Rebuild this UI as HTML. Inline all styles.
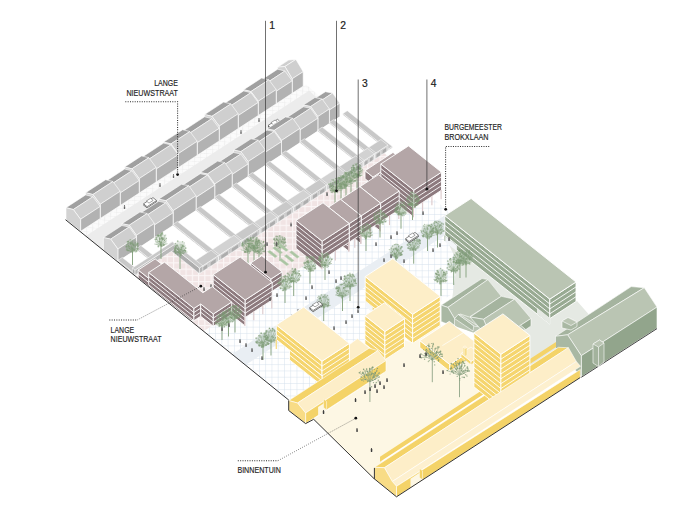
<!DOCTYPE html>
<html lang="nl"><head><meta charset="utf-8"><title>Axonometrie</title>
<style>
html,body{margin:0;padding:0;background:#fff;}
body{width:674px;height:514px;overflow:hidden;}
svg{display:block;}
svg text{font-family:"Liberation Sans",sans-serif;fill:#222;}
</style></head><body>
<svg width="674" height="514" viewBox="0 0 674 514">
<defs>
<pattern id="pink" width="6.26" height="6.26" patternUnits="userSpaceOnUse" patternTransform="translate(160.5 256.1)">
<rect width="6.26" height="6.26" fill="#f1e4e4"/><path d="M0 0H6.26M0 0V6.26" stroke="#fbf6f6" stroke-width="2.2"/></pattern>
<pattern id="blue" width="6.26" height="6.26" patternUnits="userSpaceOnUse" patternTransform="translate(252.7 351.7)">
<rect width="6.26" height="6.26" fill="#fff"/><path d="M0 0H6.26M0 0V6.26" stroke="#d4dfec" stroke-width="0.9"/></pattern>
<pattern id="hatch" width="6" height="6" patternUnits="userSpaceOnUse" patternTransform="matrix(1 -0.652 1 0.795 80.6 231.4)">
<rect width="6" height="6" fill="#fbfbfb"/><path d="M0 0L6 6M6 0L0 6" stroke="#efefef" stroke-width="0.7"/></pattern>
</defs>
<polygon points="80.6,231.4 306.1,84.4 327.9,103.5 103.4,249.9" fill="url(#hatch)"/>
<polygon points="85.8,236.1 309.3,90.4 323.9,105.1 102.4,249.5" fill="#ececec"/>
<polygon points="203.5,331.2 421.2,189.3 507.5,257.9 289,400.3" fill="url(#blue)"/>
<polygon points="117.9,262 177.9,222.4 379.9,148.6 421.2,189.3 203.5,331.2" fill="url(#pink)"/>
<polygon points="232,354.2 449.9,212.1 463.6,223 245.5,365.1" fill="#e9eef3"/>
<polygon points="277.6,67.2 288.6,60.1 295.9,59.4 284.9,66.5" fill="#cfcfcf" stroke="#fff" stroke-width="0.6" stroke-linejoin="round"/>
<polygon points="284.9,66.5 295.9,59.4 303.2,71.7 292.2,78.8" fill="#cfcfcf" stroke="#fff" stroke-width="0.6" stroke-linejoin="round"/>
<polygon points="292.2,78.8 303.2,71.7 303.2,86.2 292.2,93.3" fill="#b2b2b2" stroke="#fff" stroke-width="0.6" stroke-linejoin="round"/>
<polygon points="277.6,81.7 277.6,67.2 284.9,66.5 292.2,78.8 292.2,93.3" fill="#d2d2d2" stroke="#fff" stroke-width="0.6" stroke-linejoin="round"/>
<polygon points="261.6,79.7 277.6,69.2 284.9,71 268.9,81.5" fill="#a0a0a0" stroke="#fff" stroke-width="0.6" stroke-linejoin="round"/>
<polygon points="268.9,81.5 284.9,71 292.2,80.8 276.2,91.3" fill="#cfcfcf" stroke="#fff" stroke-width="0.6" stroke-linejoin="round"/>
<polygon points="276.2,91.3 292.2,80.8 292.2,93.3 276.2,103.8" fill="#b2b2b2" stroke="#fff" stroke-width="0.6" stroke-linejoin="round"/>
<polygon points="261.6,92.2 261.6,79.7 268.9,81.5 276.2,91.3 276.2,103.8" fill="#d2d2d2" stroke="#fff" stroke-width="0.6" stroke-linejoin="round"/>
<polygon points="243.6,89.7 261.6,78 268.9,79.8 250.9,91.5" fill="#a0a0a0" stroke="#fff" stroke-width="0.6" stroke-linejoin="round"/>
<polygon points="250.9,91.5 268.9,79.8 276.2,89.6 258.2,101.3" fill="#cfcfcf" stroke="#fff" stroke-width="0.6" stroke-linejoin="round"/>
<polygon points="258.2,101.3 276.2,89.6 276.2,103.8 258.2,115.5" fill="#b2b2b2" stroke="#fff" stroke-width="0.6" stroke-linejoin="round"/>
<polygon points="243.6,103.9 243.6,89.7 250.9,91.5 258.2,101.3 258.2,115.5" fill="#d2d2d2" stroke="#fff" stroke-width="0.6" stroke-linejoin="round"/>
<polygon points="223.6,103.9 243.6,90.9 250.9,92.7 230.9,105.7" fill="#a0a0a0" stroke="#fff" stroke-width="0.6" stroke-linejoin="round"/>
<polygon points="230.9,105.7 250.9,92.7 258.2,102.5 238.2,115.6" fill="#cfcfcf" stroke="#fff" stroke-width="0.6" stroke-linejoin="round"/>
<polygon points="238.2,115.6 258.2,102.5 258.2,115.5 238.2,128.6" fill="#b2b2b2" stroke="#fff" stroke-width="0.6" stroke-linejoin="round"/>
<polygon points="223.6,116.9 223.6,103.9 230.9,105.7 238.2,115.6 238.2,128.6" fill="#d2d2d2" stroke="#fff" stroke-width="0.6" stroke-linejoin="round"/>
<polygon points="204.6,114.5 223.6,102.1 230.9,103.9 211.9,116.3" fill="#a0a0a0" stroke="#fff" stroke-width="0.6" stroke-linejoin="round"/>
<polygon points="211.9,116.3 230.9,103.9 238.2,113.8 219.2,126.1" fill="#cfcfcf" stroke="#fff" stroke-width="0.6" stroke-linejoin="round"/>
<polygon points="219.2,126.1 238.2,113.8 238.2,128.6 219.2,140.9" fill="#b2b2b2" stroke="#fff" stroke-width="0.6" stroke-linejoin="round"/>
<polygon points="204.6,129.3 204.6,114.5 211.9,116.3 219.2,126.1 219.2,140.9" fill="#d2d2d2" stroke="#fff" stroke-width="0.6" stroke-linejoin="round"/>
<polygon points="182.6,131.2 204.6,116.8 211.9,118.6 189.9,133" fill="#a0a0a0" stroke="#fff" stroke-width="0.6" stroke-linejoin="round"/>
<polygon points="189.9,133 211.9,118.6 219.2,128.4 197.2,142.8" fill="#cfcfcf" stroke="#fff" stroke-width="0.6" stroke-linejoin="round"/>
<polygon points="197.2,142.8 219.2,128.4 219.2,140.9 197.2,155.3" fill="#b2b2b2" stroke="#fff" stroke-width="0.6" stroke-linejoin="round"/>
<polygon points="182.6,143.7 182.6,131.2 189.9,133 197.2,142.8 197.2,155.3" fill="#d2d2d2" stroke="#fff" stroke-width="0.6" stroke-linejoin="round"/>
<polygon points="163.6,142.1 182.6,129.7 189.9,131.5 170.9,143.9" fill="#a0a0a0" stroke="#fff" stroke-width="0.6" stroke-linejoin="round"/>
<polygon points="170.9,143.9 189.9,131.5 197.2,141.3 178.2,153.7" fill="#cfcfcf" stroke="#fff" stroke-width="0.6" stroke-linejoin="round"/>
<polygon points="178.2,153.7 197.2,141.3 197.2,155.3 178.2,167.7" fill="#b2b2b2" stroke="#fff" stroke-width="0.6" stroke-linejoin="round"/>
<polygon points="163.6,156.1 163.6,142.1 170.9,143.9 178.2,153.7 178.2,167.7" fill="#d2d2d2" stroke="#fff" stroke-width="0.6" stroke-linejoin="round"/>
<polygon points="141.6,157.4 163.6,143.1 170.9,144.9 148.9,159.2" fill="#a0a0a0" stroke="#fff" stroke-width="0.6" stroke-linejoin="round"/>
<polygon points="148.9,159.2 170.9,144.9 178.2,154.7 156.2,169" fill="#cfcfcf" stroke="#fff" stroke-width="0.6" stroke-linejoin="round"/>
<polygon points="156.2,169 178.2,154.7 178.2,167.7 156.2,182" fill="#b2b2b2" stroke="#fff" stroke-width="0.6" stroke-linejoin="round"/>
<polygon points="141.6,170.4 141.6,157.4 148.9,159.2 156.2,169 156.2,182" fill="#d2d2d2" stroke="#fff" stroke-width="0.6" stroke-linejoin="round"/>
<polygon points="124.6,167 141.6,155.9 148.9,157.7 131.9,168.8" fill="#a0a0a0" stroke="#fff" stroke-width="0.6" stroke-linejoin="round"/>
<polygon points="131.9,168.8 148.9,157.7 156.2,167.5 139.2,178.6" fill="#cfcfcf" stroke="#fff" stroke-width="0.6" stroke-linejoin="round"/>
<polygon points="139.2,178.6 156.2,167.5 156.2,182 139.2,193.1" fill="#b2b2b2" stroke="#fff" stroke-width="0.6" stroke-linejoin="round"/>
<polygon points="124.6,181.5 124.6,167 131.9,168.8 139.2,178.6 139.2,193.1" fill="#d2d2d2" stroke="#fff" stroke-width="0.6" stroke-linejoin="round"/>
<polygon points="105.6,181.4 124.6,169 131.9,170.8 112.9,183.2" fill="#a0a0a0" stroke="#fff" stroke-width="0.6" stroke-linejoin="round"/>
<polygon points="112.9,183.2 131.9,170.8 139.2,180.6 120.2,193" fill="#cfcfcf" stroke="#fff" stroke-width="0.6" stroke-linejoin="round"/>
<polygon points="120.2,193 139.2,180.6 139.2,193.1 120.2,205.5" fill="#b2b2b2" stroke="#fff" stroke-width="0.6" stroke-linejoin="round"/>
<polygon points="105.6,193.9 105.6,181.4 112.9,183.2 120.2,193 120.2,205.5" fill="#d2d2d2" stroke="#fff" stroke-width="0.6" stroke-linejoin="round"/>
<polygon points="85.6,192.7 105.6,179.7 112.9,181.5 92.9,194.5" fill="#a0a0a0" stroke="#fff" stroke-width="0.6" stroke-linejoin="round"/>
<polygon points="92.9,194.5 112.9,181.5 120.2,191.3 100.2,204.3" fill="#cfcfcf" stroke="#fff" stroke-width="0.6" stroke-linejoin="round"/>
<polygon points="100.2,204.3 120.2,191.3 120.2,205.5 100.2,218.5" fill="#b2b2b2" stroke="#fff" stroke-width="0.6" stroke-linejoin="round"/>
<polygon points="85.6,206.9 85.6,192.7 92.9,194.5 100.2,204.3 100.2,218.5" fill="#d2d2d2" stroke="#fff" stroke-width="0.6" stroke-linejoin="round"/>
<polygon points="66,207.7 85.6,194.9 92.9,196.7 73.3,209.5" fill="#a0a0a0" stroke="#fff" stroke-width="0.6" stroke-linejoin="round"/>
<polygon points="73.3,209.5 92.9,196.7 100.2,206.5 80.6,219.3" fill="#cfcfcf" stroke="#fff" stroke-width="0.6" stroke-linejoin="round"/>
<polygon points="80.6,219.3 100.2,206.5 100.2,218.5 80.6,231.3" fill="#b2b2b2" stroke="#fff" stroke-width="0.6" stroke-linejoin="round"/>
<polygon points="66,219.7 66,207.7 73.3,209.5 80.6,219.3 80.6,231.3" fill="#d2d2d2" stroke="#fff" stroke-width="0.6" stroke-linejoin="round"/>
<polygon points="143.5,205 153,198.8 156.6,201.7 147.1,207.9" fill="#fff" stroke="#3a3a3a" stroke-width="0.7" stroke-linejoin="round"/>
<polygon points="143.5,203.8 153,197.6 156.6,200.5 147.1,206.7" fill="#fff" stroke="#3a3a3a" stroke-width="0.6" stroke-linejoin="round"/>
<polygon points="146.4,201 150.6,198.3 153.2,200.4 149,203.1" fill="#fff" stroke="#3a3a3a" stroke-width="0.45" stroke-linejoin="round"/>
<polygon points="268,126.7 277.5,120.5 281.1,123.4 271.6,129.6" fill="#fff" stroke="#3a3a3a" stroke-width="0.7" stroke-linejoin="round"/>
<polygon points="268,125.5 277.5,119.3 281.1,122.2 271.6,128.4" fill="#fff" stroke="#3a3a3a" stroke-width="0.6" stroke-linejoin="round"/>
<polygon points="270.9,122.7 275.1,120 277.7,122.1 273.5,124.8" fill="#fff" stroke="#3a3a3a" stroke-width="0.45" stroke-linejoin="round"/>
<g fill="#666"><circle cx="124.5" cy="205.7" r="0.6"/><rect x="123.8" y="206.2" width="1.4" height="2.8" rx="0.4"/></g>
<g fill="#666"><circle cx="160" cy="183.7" r="0.6"/><rect x="159.3" y="184.2" width="1.4" height="2.8" rx="0.4"/></g>
<g fill="#666"><circle cx="173.5" cy="174.7" r="0.6"/><rect x="172.8" y="175.2" width="1.4" height="2.8" rx="0.4"/></g>
<g fill="#666"><circle cx="241" cy="130.7" r="0.6"/><rect x="240.3" y="131.2" width="1.4" height="2.8" rx="0.4"/></g>
<g fill="#666"><circle cx="259" cy="118.7" r="0.6"/><rect x="258.3" y="119.2" width="1.4" height="2.8" rx="0.4"/></g>
<polygon points="314.9,98.5 325.4,91.7 332.6,93.1 322.1,100" fill="#a0a0a0" stroke="#fff" stroke-width="0.6" stroke-linejoin="round"/>
<polygon points="322.1,100 332.6,93.1 339.9,103.2 329.4,110" fill="#cfcfcf" stroke="#fff" stroke-width="0.6" stroke-linejoin="round"/>
<polygon points="329.4,110 339.9,103.2 339.9,116.7 329.4,123.5" fill="#b2b2b2" stroke="#fff" stroke-width="0.6" stroke-linejoin="round"/>
<polygon points="314.9,112 314.9,98.5 322.1,100 329.4,110 329.4,123.5" fill="#d2d2d2" stroke="#fff" stroke-width="0.6" stroke-linejoin="round"/>
<polygon points="303.3,105.1 314.9,97.5 322.2,99 310.6,106.5" fill="#a0a0a0" stroke="#fff" stroke-width="0.6" stroke-linejoin="round"/>
<polygon points="310.6,106.5 322.2,99 329.4,109 317.8,116.6" fill="#cfcfcf" stroke="#fff" stroke-width="0.6" stroke-linejoin="round"/>
<polygon points="317.8,116.6 329.4,109 329.4,123.5 317.8,131.1" fill="#b2b2b2" stroke="#fff" stroke-width="0.6" stroke-linejoin="round"/>
<polygon points="303.3,119.6 303.3,105.1 310.6,106.5 317.8,116.6 317.8,131.1" fill="#d2d2d2" stroke="#fff" stroke-width="0.6" stroke-linejoin="round"/>
<polygon points="285.5,118.4 303.3,106.8 310.6,108.2 292.8,119.8" fill="#a0a0a0" stroke="#fff" stroke-width="0.6" stroke-linejoin="round"/>
<polygon points="292.8,119.8 310.6,108.2 317.8,118.3 300,129.9" fill="#cfcfcf" stroke="#fff" stroke-width="0.6" stroke-linejoin="round"/>
<polygon points="300,129.9 317.8,118.3 317.8,131.1 300,142.7" fill="#b2b2b2" stroke="#fff" stroke-width="0.6" stroke-linejoin="round"/>
<polygon points="285.5,131.2 285.5,118.4 292.8,119.8 300,129.9 300,142.7" fill="#d2d2d2" stroke="#fff" stroke-width="0.6" stroke-linejoin="round"/>
<polygon points="267,128.9 285.5,116.9 292.8,118.3 274.2,130.4" fill="#a0a0a0" stroke="#fff" stroke-width="0.6" stroke-linejoin="round"/>
<polygon points="274.2,130.4 292.8,118.3 300,128.4 281.5,140.5" fill="#cfcfcf" stroke="#fff" stroke-width="0.6" stroke-linejoin="round"/>
<polygon points="281.5,140.5 300,128.4 300,142.7 281.5,154.8" fill="#b2b2b2" stroke="#fff" stroke-width="0.6" stroke-linejoin="round"/>
<polygon points="267,143.2 267,128.9 274.2,130.4 281.5,140.5 281.5,154.8" fill="#d2d2d2" stroke="#fff" stroke-width="0.6" stroke-linejoin="round"/>
<polygon points="251,140.6 267,130.1 274.2,131.6 258.2,142" fill="#a0a0a0" stroke="#fff" stroke-width="0.6" stroke-linejoin="round"/>
<polygon points="258.2,142 274.2,131.6 281.5,141.7 265.5,152.1" fill="#cfcfcf" stroke="#fff" stroke-width="0.6" stroke-linejoin="round"/>
<polygon points="265.5,152.1 281.5,141.7 281.5,154.8 265.5,165.2" fill="#b2b2b2" stroke="#fff" stroke-width="0.6" stroke-linejoin="round"/>
<polygon points="251,153.7 251,140.6 258.2,142 265.5,152.1 265.5,165.2" fill="#d2d2d2" stroke="#fff" stroke-width="0.6" stroke-linejoin="round"/>
<polygon points="233.6,150.1 251,138.8 258.2,140.2 240.8,151.6" fill="#a0a0a0" stroke="#fff" stroke-width="0.6" stroke-linejoin="round"/>
<polygon points="240.8,151.6 258.2,140.2 265.5,150.3 248.1,161.6" fill="#cfcfcf" stroke="#fff" stroke-width="0.6" stroke-linejoin="round"/>
<polygon points="248.1,161.6 265.5,150.3 265.5,165.2 248.1,176.5" fill="#b2b2b2" stroke="#fff" stroke-width="0.6" stroke-linejoin="round"/>
<polygon points="233.6,165 233.6,150.1 240.8,151.6 248.1,161.6 248.1,176.5" fill="#d2d2d2" stroke="#fff" stroke-width="0.6" stroke-linejoin="round"/>
<polygon points="217.6,162.9 233.6,152.5 240.8,154 224.8,164.4" fill="#a0a0a0" stroke="#fff" stroke-width="0.6" stroke-linejoin="round"/>
<polygon points="224.8,164.4 240.8,154 248.1,164 232.1,174.5" fill="#cfcfcf" stroke="#fff" stroke-width="0.6" stroke-linejoin="round"/>
<polygon points="232.1,174.5 248.1,164 248.1,176.5 232.1,187" fill="#b2b2b2" stroke="#fff" stroke-width="0.6" stroke-linejoin="round"/>
<polygon points="217.6,175.4 217.6,162.9 224.8,164.4 232.1,174.5 232.1,187" fill="#d2d2d2" stroke="#fff" stroke-width="0.6" stroke-linejoin="round"/>
<polygon points="200.2,172.5 217.6,161.1 224.8,162.6 207.4,174" fill="#a0a0a0" stroke="#fff" stroke-width="0.6" stroke-linejoin="round"/>
<polygon points="207.4,174 224.8,162.6 232.1,172.7 214.7,184" fill="#cfcfcf" stroke="#fff" stroke-width="0.6" stroke-linejoin="round"/>
<polygon points="214.7,184 232.1,172.7 232.1,187 214.7,198.3" fill="#b2b2b2" stroke="#fff" stroke-width="0.6" stroke-linejoin="round"/>
<polygon points="200.2,186.8 200.2,172.5 207.4,174 214.7,184 214.7,198.3" fill="#d2d2d2" stroke="#fff" stroke-width="0.6" stroke-linejoin="round"/>
<polygon points="181.5,185.9 200.2,173.7 207.4,175.2 188.8,187.3" fill="#a0a0a0" stroke="#fff" stroke-width="0.6" stroke-linejoin="round"/>
<polygon points="188.8,187.3 207.4,175.2 214.7,185.2 196,197.4" fill="#cfcfcf" stroke="#fff" stroke-width="0.6" stroke-linejoin="round"/>
<polygon points="196,197.4 214.7,185.2 214.7,198.3 196,210.5" fill="#b2b2b2" stroke="#fff" stroke-width="0.6" stroke-linejoin="round"/>
<polygon points="181.5,199 181.5,185.9 188.8,187.3 196,197.4 196,210.5" fill="#d2d2d2" stroke="#fff" stroke-width="0.6" stroke-linejoin="round"/>
<polygon points="158.6,199.2 181.5,184.3 188.8,185.7 165.9,200.7" fill="#a0a0a0" stroke="#fff" stroke-width="0.6" stroke-linejoin="round"/>
<polygon points="165.9,200.7 188.8,185.7 196,195.8 173.1,210.7" fill="#cfcfcf" stroke="#fff" stroke-width="0.6" stroke-linejoin="round"/>
<polygon points="173.1,210.7 196,195.8 196,210.5 173.1,225.4" fill="#b2b2b2" stroke="#fff" stroke-width="0.6" stroke-linejoin="round"/>
<polygon points="158.6,213.9 158.6,199.2 165.9,200.7 173.1,210.7 173.1,225.4" fill="#d2d2d2" stroke="#fff" stroke-width="0.6" stroke-linejoin="round"/>
<polygon points="139.9,213.5 158.6,201.3 165.8,202.8 147.2,215" fill="#a0a0a0" stroke="#fff" stroke-width="0.6" stroke-linejoin="round"/>
<polygon points="147.2,215 165.8,202.8 173.1,212.8 154.4,225" fill="#cfcfcf" stroke="#fff" stroke-width="0.6" stroke-linejoin="round"/>
<polygon points="154.4,225 173.1,212.8 173.1,225.4 154.4,237.6" fill="#b2b2b2" stroke="#fff" stroke-width="0.6" stroke-linejoin="round"/>
<polygon points="139.9,226.1 139.9,213.5 147.2,215 154.4,225 154.4,237.6" fill="#d2d2d2" stroke="#fff" stroke-width="0.6" stroke-linejoin="round"/>
<polygon points="121.9,223.7 139.9,212 147.2,213.5 129.2,225.2" fill="#a0a0a0" stroke="#fff" stroke-width="0.6" stroke-linejoin="round"/>
<polygon points="129.2,225.2 147.2,213.5 154.4,223.5 136.4,235.3" fill="#cfcfcf" stroke="#fff" stroke-width="0.6" stroke-linejoin="round"/>
<polygon points="136.4,235.3 154.4,223.5 154.4,237.6 136.4,249.4" fill="#b2b2b2" stroke="#fff" stroke-width="0.6" stroke-linejoin="round"/>
<polygon points="121.9,237.8 121.9,223.7 129.2,225.2 136.4,235.3 136.4,249.4" fill="#d2d2d2" stroke="#fff" stroke-width="0.6" stroke-linejoin="round"/>
<polygon points="103.4,237.6 121.9,225.5 129.2,227 110.7,239.1" fill="#a0a0a0" stroke="#fff" stroke-width="0.6" stroke-linejoin="round"/>
<polygon points="110.7,239.1 129.2,227 136.4,237.1 117.9,249.1" fill="#cfcfcf" stroke="#fff" stroke-width="0.6" stroke-linejoin="round"/>
<polygon points="117.9,249.1 136.4,237.1 136.4,249.4 117.9,261.4" fill="#b2b2b2" stroke="#fff" stroke-width="0.6" stroke-linejoin="round"/>
<polygon points="103.4,249.9 103.4,237.6 110.7,239.1 117.9,249.1 117.9,261.4" fill="#d2d2d2" stroke="#fff" stroke-width="0.6" stroke-linejoin="round"/>
<polygon points="117.9,261.5 346.3,112.6 391.3,148.4 199.4,273.5 168.9,249.2 132.4,273" fill="#fff"/>
<polygon points="342.9,113.6 387.9,149.4 387.9,150.6 342.9,114.8" fill="#adadad" stroke="#fff" stroke-width="0.5" stroke-linejoin="round"/>
<polygon points="387.9,149.4 392.3,146.5 392.3,147.7 387.9,150.6" fill="#b9b9b9" stroke="#fff" stroke-width="0.5" stroke-linejoin="round"/>
<polygon points="342.9,113.6 347.3,110.7 392.3,146.5 387.9,149.4" fill="#c8c8c8" stroke="#fff" stroke-width="0.5" stroke-linejoin="round"/>
<polygon points="367.4,148.3 374.4,153.9 374.4,159.4 367.4,153.8" fill="#b0b0b0" stroke="#fff" stroke-width="0.5" stroke-linejoin="round"/>
<polygon points="374.4,153.9 387.9,145.1 387.9,150.6 374.4,159.4" fill="#c6c6c6" stroke="#fff" stroke-width="0.5" stroke-linejoin="round"/>
<polygon points="367.4,148.3 380.9,139.5 387.9,145.1 374.4,153.9" fill="#c9c9c9" stroke="#fff" stroke-width="0.5" stroke-linejoin="round"/>
<polygon points="376,154 380.5,151.1 380.5,155.4 376,158.3" fill="#adadad" stroke="#fff" stroke-width="0.4" stroke-linejoin="round"/>
<polygon points="382.1,150.1 386.6,147.2 386.6,151.5 382.1,154.4" fill="#adadad" stroke="#fff" stroke-width="0.4" stroke-linejoin="round"/>
<polygon points="371.4,152.5 374.4,154.9 374.4,159.4 371.4,157" fill="#adadad" stroke="#fff" stroke-width="0.5" stroke-linejoin="round"/>
<polygon points="374.4,154.9 374.9,154.6 374.9,159.1 374.4,159.4" fill="#b9b9b9" stroke="#fff" stroke-width="0.5" stroke-linejoin="round"/>
<polygon points="371.4,152.5 371.9,152.2 374.9,154.6 374.4,154.9" fill="#c8c8c8" stroke="#fff" stroke-width="0.5" stroke-linejoin="round"/>
<polygon points="329.4,122.4 371.4,155.8 371.4,157 329.4,123.6" fill="#adadad" stroke="#fff" stroke-width="0.5" stroke-linejoin="round"/>
<polygon points="371.4,155.8 375.8,152.9 375.8,154.1 371.4,157" fill="#b9b9b9" stroke="#fff" stroke-width="0.5" stroke-linejoin="round"/>
<polygon points="329.4,122.4 333.8,119.5 375.8,152.9 371.4,155.8" fill="#c8c8c8" stroke="#fff" stroke-width="0.5" stroke-linejoin="round"/>
<polygon points="355.8,155.9 362.8,161.4 362.8,166.9 355.8,161.4" fill="#b0b0b0" stroke="#fff" stroke-width="0.5" stroke-linejoin="round"/>
<polygon points="362.8,161.4 374.4,153.9 374.4,159.4 362.8,166.9" fill="#c6c6c6" stroke="#fff" stroke-width="0.5" stroke-linejoin="round"/>
<polygon points="355.8,155.9 367.4,148.3 374.4,153.9 362.8,161.4" fill="#d2d2d2" stroke="#fff" stroke-width="0.5" stroke-linejoin="round"/>
<polygon points="364.2,161.7 368,159.2 368,163.5 364.2,166" fill="#adadad" stroke="#fff" stroke-width="0.4" stroke-linejoin="round"/>
<polygon points="369.4,158.3 373.2,155.8 373.2,160.1 369.4,162.6" fill="#adadad" stroke="#fff" stroke-width="0.4" stroke-linejoin="round"/>
<polygon points="359.8,160.1 362.8,162.4 362.8,166.9 359.8,164.6" fill="#adadad" stroke="#fff" stroke-width="0.5" stroke-linejoin="round"/>
<polygon points="362.8,162.4 363.3,162.1 363.3,166.6 362.8,166.9" fill="#b9b9b9" stroke="#fff" stroke-width="0.5" stroke-linejoin="round"/>
<polygon points="359.8,160.1 360.3,159.7 363.3,162.1 362.8,162.4" fill="#c8c8c8" stroke="#fff" stroke-width="0.5" stroke-linejoin="round"/>
<polygon points="317.8,130 359.8,163.4 359.8,164.6 317.8,131.2" fill="#adadad" stroke="#fff" stroke-width="0.5" stroke-linejoin="round"/>
<polygon points="359.8,163.4 364.2,160.5 364.2,161.7 359.8,164.6" fill="#b9b9b9" stroke="#fff" stroke-width="0.5" stroke-linejoin="round"/>
<polygon points="317.8,130 322.2,127.1 364.2,160.5 359.8,163.4" fill="#c8c8c8" stroke="#fff" stroke-width="0.5" stroke-linejoin="round"/>
<polygon points="338,167.5 345,173 345,178.5 338,173" fill="#b0b0b0" stroke="#fff" stroke-width="0.5" stroke-linejoin="round"/>
<polygon points="345,173 362.8,161.4 362.8,166.9 345,178.5" fill="#c6c6c6" stroke="#fff" stroke-width="0.5" stroke-linejoin="round"/>
<polygon points="338,167.5 355.8,155.9 362.8,161.4 345,173" fill="#c9c9c9" stroke="#fff" stroke-width="0.5" stroke-linejoin="round"/>
<polygon points="347.1,172.9 353,169 353,173.3 347.1,177.2" fill="#adadad" stroke="#fff" stroke-width="0.4" stroke-linejoin="round"/>
<polygon points="355.1,167.6 361,163.8 361,168.1 355.1,171.9" fill="#adadad" stroke="#fff" stroke-width="0.4" stroke-linejoin="round"/>
<polygon points="342,171.7 345,174 345,178.5 342,176.2" fill="#adadad" stroke="#fff" stroke-width="0.5" stroke-linejoin="round"/>
<polygon points="345,174 345.5,173.7 345.5,178.2 345,178.5" fill="#b9b9b9" stroke="#fff" stroke-width="0.5" stroke-linejoin="round"/>
<polygon points="342,171.7 342.5,171.3 345.5,173.7 345,174" fill="#c8c8c8" stroke="#fff" stroke-width="0.5" stroke-linejoin="round"/>
<polygon points="300,141.6 342,175 342,176.2 300,142.8" fill="#adadad" stroke="#fff" stroke-width="0.5" stroke-linejoin="round"/>
<polygon points="342,175 346.4,172.1 346.4,173.3 342,176.2" fill="#b9b9b9" stroke="#fff" stroke-width="0.5" stroke-linejoin="round"/>
<polygon points="300,141.6 304.4,138.7 346.4,172.1 342,175" fill="#c8c8c8" stroke="#fff" stroke-width="0.5" stroke-linejoin="round"/>
<polygon points="319.5,179.5 326.5,185.1 326.5,190.6 319.5,185" fill="#b0b0b0" stroke="#fff" stroke-width="0.5" stroke-linejoin="round"/>
<polygon points="326.5,185.1 345,173 345,178.5 326.5,190.6" fill="#c6c6c6" stroke="#fff" stroke-width="0.5" stroke-linejoin="round"/>
<polygon points="319.5,179.5 338,167.5 345,173 326.5,185.1" fill="#d2d2d2" stroke="#fff" stroke-width="0.5" stroke-linejoin="round"/>
<polygon points="328.7,184.9 334.8,180.9 334.8,185.2 328.7,189.2" fill="#adadad" stroke="#fff" stroke-width="0.4" stroke-linejoin="round"/>
<polygon points="337,179.4 343.1,175.5 343.1,179.8 337,183.7" fill="#adadad" stroke="#fff" stroke-width="0.4" stroke-linejoin="round"/>
<polygon points="323.5,183.7 326.5,186.1 326.5,190.6 323.5,188.2" fill="#adadad" stroke="#fff" stroke-width="0.5" stroke-linejoin="round"/>
<polygon points="326.5,186.1 327,185.8 327,190.3 326.5,190.6" fill="#b9b9b9" stroke="#fff" stroke-width="0.5" stroke-linejoin="round"/>
<polygon points="323.5,183.7 324,183.4 327,185.8 326.5,186.1" fill="#c8c8c8" stroke="#fff" stroke-width="0.5" stroke-linejoin="round"/>
<polygon points="281.5,153.6 323.5,187 323.5,188.2 281.5,154.8" fill="#adadad" stroke="#fff" stroke-width="0.5" stroke-linejoin="round"/>
<polygon points="323.5,187 327.9,184.2 327.9,185.4 323.5,188.2" fill="#b9b9b9" stroke="#fff" stroke-width="0.5" stroke-linejoin="round"/>
<polygon points="281.5,153.6 285.9,150.8 327.9,184.2 323.5,187" fill="#c8c8c8" stroke="#fff" stroke-width="0.5" stroke-linejoin="round"/>
<polygon points="303.5,190 310.5,195.5 310.5,201 303.5,195.5" fill="#b0b0b0" stroke="#fff" stroke-width="0.5" stroke-linejoin="round"/>
<polygon points="310.5,195.5 326.5,185.1 326.5,190.6 310.5,201" fill="#c6c6c6" stroke="#fff" stroke-width="0.5" stroke-linejoin="round"/>
<polygon points="303.5,190 319.5,179.5 326.5,185.1 310.5,195.5" fill="#c9c9c9" stroke="#fff" stroke-width="0.5" stroke-linejoin="round"/>
<polygon points="312.4,195.5 317.7,192 317.7,196.3 312.4,199.8" fill="#adadad" stroke="#fff" stroke-width="0.4" stroke-linejoin="round"/>
<polygon points="319.6,190.8 324.9,187.4 324.9,191.7 319.6,195.1" fill="#adadad" stroke="#fff" stroke-width="0.4" stroke-linejoin="round"/>
<polygon points="307.5,194.2 310.5,196.5 310.5,201 307.5,198.7" fill="#adadad" stroke="#fff" stroke-width="0.5" stroke-linejoin="round"/>
<polygon points="310.5,196.5 311,196.2 311,200.7 310.5,201" fill="#b9b9b9" stroke="#fff" stroke-width="0.5" stroke-linejoin="round"/>
<polygon points="307.5,194.2 308,193.8 311,196.2 310.5,196.5" fill="#c8c8c8" stroke="#fff" stroke-width="0.5" stroke-linejoin="round"/>
<polygon points="265.5,164.1 307.5,197.5 307.5,198.7 265.5,165.3" fill="#adadad" stroke="#fff" stroke-width="0.5" stroke-linejoin="round"/>
<polygon points="307.5,197.5 311.9,194.6 311.9,195.8 307.5,198.7" fill="#b9b9b9" stroke="#fff" stroke-width="0.5" stroke-linejoin="round"/>
<polygon points="265.5,164.1 269.9,161.2 311.9,194.6 307.5,197.5" fill="#c8c8c8" stroke="#fff" stroke-width="0.5" stroke-linejoin="round"/>
<polygon points="286.1,201.3 293.1,206.9 293.1,212.4 286.1,206.8" fill="#b0b0b0" stroke="#fff" stroke-width="0.5" stroke-linejoin="round"/>
<polygon points="293.1,206.9 310.5,195.5 310.5,201 293.1,212.4" fill="#c6c6c6" stroke="#fff" stroke-width="0.5" stroke-linejoin="round"/>
<polygon points="286.1,201.3 303.5,190 310.5,195.5 293.1,206.9" fill="#d2d2d2" stroke="#fff" stroke-width="0.5" stroke-linejoin="round"/>
<polygon points="295.2,206.7 300.9,203 300.9,207.3 295.2,211" fill="#adadad" stroke="#fff" stroke-width="0.4" stroke-linejoin="round"/>
<polygon points="303,201.6 308.8,197.9 308.8,202.2 303,205.9" fill="#adadad" stroke="#fff" stroke-width="0.4" stroke-linejoin="round"/>
<polygon points="290.1,205.5 293.1,207.9 293.1,212.4 290.1,210" fill="#adadad" stroke="#fff" stroke-width="0.5" stroke-linejoin="round"/>
<polygon points="293.1,207.9 293.6,207.6 293.6,212.1 293.1,212.4" fill="#b9b9b9" stroke="#fff" stroke-width="0.5" stroke-linejoin="round"/>
<polygon points="290.1,205.5 290.6,205.2 293.6,207.6 293.1,207.9" fill="#c8c8c8" stroke="#fff" stroke-width="0.5" stroke-linejoin="round"/>
<polygon points="248.1,175.4 290.1,208.8 290.1,210 248.1,176.6" fill="#adadad" stroke="#fff" stroke-width="0.5" stroke-linejoin="round"/>
<polygon points="290.1,208.8 294.5,205.9 294.5,207.1 290.1,210" fill="#b9b9b9" stroke="#fff" stroke-width="0.5" stroke-linejoin="round"/>
<polygon points="248.1,175.4 252.5,172.5 294.5,205.9 290.1,208.8" fill="#c8c8c8" stroke="#fff" stroke-width="0.5" stroke-linejoin="round"/>
<polygon points="270.1,211.8 277.1,217.3 277.1,222.8 270.1,217.3" fill="#b0b0b0" stroke="#fff" stroke-width="0.5" stroke-linejoin="round"/>
<polygon points="277.1,217.3 293.1,206.9 293.1,212.4 277.1,222.8" fill="#c6c6c6" stroke="#fff" stroke-width="0.5" stroke-linejoin="round"/>
<polygon points="270.1,211.8 286.1,201.3 293.1,206.9 277.1,217.3" fill="#c9c9c9" stroke="#fff" stroke-width="0.5" stroke-linejoin="round"/>
<polygon points="279,217.3 284.3,213.8 284.3,218.1 279,221.6" fill="#adadad" stroke="#fff" stroke-width="0.4" stroke-linejoin="round"/>
<polygon points="286.2,212.6 291.5,209.1 291.5,213.4 286.2,216.9" fill="#adadad" stroke="#fff" stroke-width="0.4" stroke-linejoin="round"/>
<polygon points="274.1,215.9 277.1,218.3 277.1,222.8 274.1,220.4" fill="#adadad" stroke="#fff" stroke-width="0.5" stroke-linejoin="round"/>
<polygon points="277.1,218.3 277.6,218 277.6,222.5 277.1,222.8" fill="#b9b9b9" stroke="#fff" stroke-width="0.5" stroke-linejoin="round"/>
<polygon points="274.1,215.9 274.6,215.6 277.6,218 277.1,218.3" fill="#c8c8c8" stroke="#fff" stroke-width="0.5" stroke-linejoin="round"/>
<polygon points="232.1,185.8 274.1,219.2 274.1,220.4 232.1,187" fill="#adadad" stroke="#fff" stroke-width="0.5" stroke-linejoin="round"/>
<polygon points="274.1,219.2 278.5,216.4 278.5,217.6 274.1,220.4" fill="#b9b9b9" stroke="#fff" stroke-width="0.5" stroke-linejoin="round"/>
<polygon points="232.1,185.8 236.5,183 278.5,216.4 274.1,219.2" fill="#c8c8c8" stroke="#fff" stroke-width="0.5" stroke-linejoin="round"/>
<polygon points="252.7,223.1 259.7,228.7 259.7,234.2 252.7,228.6" fill="#b0b0b0" stroke="#fff" stroke-width="0.5" stroke-linejoin="round"/>
<polygon points="259.7,228.7 277.1,217.3 277.1,222.8 259.7,234.2" fill="#c6c6c6" stroke="#fff" stroke-width="0.5" stroke-linejoin="round"/>
<polygon points="252.7,223.1 270.1,211.8 277.1,217.3 259.7,228.7" fill="#d2d2d2" stroke="#fff" stroke-width="0.5" stroke-linejoin="round"/>
<polygon points="261.8,228.5 267.5,224.8 267.5,229.1 261.8,232.8" fill="#adadad" stroke="#fff" stroke-width="0.4" stroke-linejoin="round"/>
<polygon points="269.6,223.4 275.4,219.7 275.4,224 269.6,227.7" fill="#adadad" stroke="#fff" stroke-width="0.4" stroke-linejoin="round"/>
<polygon points="256.7,227.3 259.7,229.7 259.7,234.2 256.7,231.8" fill="#adadad" stroke="#fff" stroke-width="0.5" stroke-linejoin="round"/>
<polygon points="259.7,229.7 260.2,229.3 260.2,233.8 259.7,234.2" fill="#b9b9b9" stroke="#fff" stroke-width="0.5" stroke-linejoin="round"/>
<polygon points="256.7,227.3 257.2,227 260.2,229.3 259.7,229.7" fill="#c8c8c8" stroke="#fff" stroke-width="0.5" stroke-linejoin="round"/>
<polygon points="214.7,197.2 256.7,230.6 256.7,231.8 214.7,198.4" fill="#adadad" stroke="#fff" stroke-width="0.5" stroke-linejoin="round"/>
<polygon points="256.7,230.6 261.1,227.7 261.1,228.9 256.7,231.8" fill="#b9b9b9" stroke="#fff" stroke-width="0.5" stroke-linejoin="round"/>
<polygon points="214.7,197.2 219.1,194.3 261.1,227.7 256.7,230.6" fill="#c8c8c8" stroke="#fff" stroke-width="0.5" stroke-linejoin="round"/>
<polygon points="234,235.3 241,240.9 241,246.4 234,240.8" fill="#b0b0b0" stroke="#fff" stroke-width="0.5" stroke-linejoin="round"/>
<polygon points="241,240.9 259.7,228.7 259.7,234.2 241,246.4" fill="#c6c6c6" stroke="#fff" stroke-width="0.5" stroke-linejoin="round"/>
<polygon points="234,235.3 252.7,223.1 259.7,228.7 241,240.9" fill="#c9c9c9" stroke="#fff" stroke-width="0.5" stroke-linejoin="round"/>
<polygon points="243.2,240.6 249.4,236.6 249.4,240.9 243.2,244.9" fill="#adadad" stroke="#fff" stroke-width="0.4" stroke-linejoin="round"/>
<polygon points="251.7,235.1 257.8,231.1 257.8,235.4 251.7,239.4" fill="#adadad" stroke="#fff" stroke-width="0.4" stroke-linejoin="round"/>
<polygon points="238,239.5 241,241.9 241,246.4 238,244" fill="#adadad" stroke="#fff" stroke-width="0.5" stroke-linejoin="round"/>
<polygon points="241,241.9 241.5,241.5 241.5,246 241,246.4" fill="#b9b9b9" stroke="#fff" stroke-width="0.5" stroke-linejoin="round"/>
<polygon points="238,239.5 238.5,239.1 241.5,241.5 241,241.9" fill="#c8c8c8" stroke="#fff" stroke-width="0.5" stroke-linejoin="round"/>
<polygon points="196,209.4 238,242.8 238,244 196,210.6" fill="#adadad" stroke="#fff" stroke-width="0.5" stroke-linejoin="round"/>
<polygon points="238,242.8 242.4,239.9 242.4,241.1 238,244" fill="#b9b9b9" stroke="#fff" stroke-width="0.5" stroke-linejoin="round"/>
<polygon points="196,209.4 200.4,206.5 242.4,239.9 238,242.8" fill="#c8c8c8" stroke="#fff" stroke-width="0.5" stroke-linejoin="round"/>
<polygon points="211.1,250.2 218.1,255.8 218.1,261.3 211.1,255.7" fill="#b0b0b0" stroke="#fff" stroke-width="0.5" stroke-linejoin="round"/>
<polygon points="218.1,255.8 241,240.9 241,246.4 218.1,261.3" fill="#c6c6c6" stroke="#fff" stroke-width="0.5" stroke-linejoin="round"/>
<polygon points="211.1,250.2 234,235.3 241,240.9 218.1,255.8" fill="#d2d2d2" stroke="#fff" stroke-width="0.5" stroke-linejoin="round"/>
<polygon points="220.8,255.2 228.4,250.3 228.4,254.6 220.8,259.5" fill="#adadad" stroke="#fff" stroke-width="0.4" stroke-linejoin="round"/>
<polygon points="231.2,248.5 238.7,243.5 238.7,247.8 231.2,252.8" fill="#adadad" stroke="#fff" stroke-width="0.4" stroke-linejoin="round"/>
<polygon points="215.1,254.4 218.1,256.8 218.1,261.3 215.1,258.9" fill="#adadad" stroke="#fff" stroke-width="0.5" stroke-linejoin="round"/>
<polygon points="218.1,256.8 218.6,256.5 218.6,261 218.1,261.3" fill="#b9b9b9" stroke="#fff" stroke-width="0.5" stroke-linejoin="round"/>
<polygon points="215.1,254.4 215.6,254.1 218.6,256.5 218.1,256.8" fill="#c8c8c8" stroke="#fff" stroke-width="0.5" stroke-linejoin="round"/>
<polygon points="173.1,224.3 215.1,257.7 215.1,258.9 173.1,225.5" fill="#adadad" stroke="#fff" stroke-width="0.5" stroke-linejoin="round"/>
<polygon points="215.1,257.7 219.5,254.8 219.5,256 215.1,258.9" fill="#b9b9b9" stroke="#fff" stroke-width="0.5" stroke-linejoin="round"/>
<polygon points="173.1,224.3 177.5,221.4 219.5,254.8 215.1,257.7" fill="#c8c8c8" stroke="#fff" stroke-width="0.5" stroke-linejoin="round"/>
<polygon points="192.4,262.4 199.4,268 199.4,273.5 192.4,267.9" fill="#b0b0b0" stroke="#fff" stroke-width="0.5" stroke-linejoin="round"/>
<polygon points="199.4,268 218.1,255.8 218.1,261.3 199.4,273.5" fill="#c6c6c6" stroke="#fff" stroke-width="0.5" stroke-linejoin="round"/>
<polygon points="192.4,262.4 211.1,250.2 218.1,255.8 199.4,268" fill="#c9c9c9" stroke="#fff" stroke-width="0.5" stroke-linejoin="round"/>
<polygon points="201.6,267.7 207.8,263.7 207.8,268 201.6,272" fill="#adadad" stroke="#fff" stroke-width="0.4" stroke-linejoin="round"/>
<polygon points="210.1,262.2 216.2,258.2 216.2,262.5 210.1,266.5" fill="#adadad" stroke="#fff" stroke-width="0.4" stroke-linejoin="round"/>
<polygon points="196.4,266.6 199.4,269 199.4,273.5 196.4,271.1" fill="#adadad" stroke="#fff" stroke-width="0.5" stroke-linejoin="round"/>
<polygon points="199.4,269 199.9,268.7 199.9,273.2 199.4,273.5" fill="#b9b9b9" stroke="#fff" stroke-width="0.5" stroke-linejoin="round"/>
<polygon points="196.4,266.6 196.9,266.3 199.9,268.7 199.4,269" fill="#c8c8c8" stroke="#fff" stroke-width="0.5" stroke-linejoin="round"/>
<polygon points="168.9,243.7 199.4,268 199.4,273.5 168.9,249.2" fill="#adadad" stroke="#fff" stroke-width="0.5" stroke-linejoin="round"/>
<polygon points="199.4,268 202.8,265.8 202.8,271.3 199.4,273.5" fill="#b9b9b9" stroke="#fff" stroke-width="0.5" stroke-linejoin="round"/>
<polygon points="168.9,243.7 172.3,241.5 202.8,265.8 199.4,268" fill="#c8c8c8" stroke="#fff" stroke-width="0.5" stroke-linejoin="round"/>
<polygon points="117.9,260.3 135.4,274.2 135.4,275.4 117.9,261.5" fill="#adadad" stroke="#fff" stroke-width="0.5" stroke-linejoin="round"/>
<polygon points="135.4,274.2 139.8,271.3 139.8,272.5 135.4,275.4" fill="#b9b9b9" stroke="#fff" stroke-width="0.5" stroke-linejoin="round"/>
<polygon points="117.9,260.3 122.3,257.4 139.8,271.3 135.4,274.2" fill="#c8c8c8" stroke="#fff" stroke-width="0.5" stroke-linejoin="round"/>
<polygon points="136.4,248.2 150.9,259.8 150.9,261 136.4,249.4" fill="#adadad" stroke="#fff" stroke-width="0.5" stroke-linejoin="round"/>
<polygon points="150.9,259.8 155.3,256.9 155.3,258.1 150.9,261" fill="#b9b9b9" stroke="#fff" stroke-width="0.5" stroke-linejoin="round"/>
<polygon points="136.4,248.2 140.8,245.4 155.3,256.9 150.9,259.8" fill="#c8c8c8" stroke="#fff" stroke-width="0.5" stroke-linejoin="round"/>
<polygon points="132.4,268 135,270.1 135,275.1 132.4,273" fill="#adadad" stroke="#fff" stroke-width="0.5" stroke-linejoin="round"/>
<polygon points="135,270.1 174.9,244.1 174.9,249.1 135,275.1" fill="#b9b9b9" stroke="#fff" stroke-width="0.5" stroke-linejoin="round"/>
<polygon points="132.4,268 172.3,242 174.9,244.1 135,270.1" fill="#c8c8c8" stroke="#fff" stroke-width="0.5" stroke-linejoin="round"/>
<g stroke="#8ca785" stroke-width="1" fill="none">
<path d="M132.5 265V249.7"/>
</g><g stroke="#8aa582" stroke-width="0.55" fill="none" opacity="0.9">
<path d="M132.5 251.5L125.9 250"/>
<path d="M132.5 251.5L127.3 246.9"/>
<path d="M132.5 251.5L127.9 244.4"/>
<path d="M132.5 251.5L130.6 243.1"/>
<path d="M132.5 251.5L131.9 241.5"/>
<path d="M132.5 251.5L135 242.8"/>
<path d="M132.5 251.5L136.9 244.2"/>
<path d="M132.5 251.5L138.2 247.2"/>
<path d="M132.5 251.5L138.7 249.8"/>
</g>
<g fill="#7d9b75">
<ellipse cx="132.5" cy="246" rx="6.1" ry="6.8" opacity="0.22"/>
<circle cx="126.1" cy="246.9" r="0.8" opacity="0.6"/>
<circle cx="130.8" cy="243.4" r="0.9" opacity="0.6"/>
<circle cx="138" cy="246.1" r="0.9" opacity="0.6"/>
<circle cx="131.1" cy="249.3" r="0.6" opacity="0.6"/>
<circle cx="126.9" cy="249.5" r="0.9" opacity="0.6"/>
<circle cx="137.5" cy="249.1" r="1" opacity="0.6"/>
<circle cx="134.7" cy="249.6" r="0.7" opacity="0.6"/>
<circle cx="128.3" cy="241" r="0.6" opacity="0.6"/>
<circle cx="127.3" cy="241.6" r="0.7" opacity="0.6"/>
<circle cx="137.7" cy="244.8" r="0.6" opacity="0.6"/>
<circle cx="127.9" cy="242.1" r="0.8" opacity="0.6"/>
<circle cx="137.8" cy="243.5" r="1" opacity="0.6"/>
<circle cx="135.2" cy="242.5" r="0.6" opacity="0.6"/>
<circle cx="126.7" cy="246.3" r="1" opacity="0.6"/>
<circle cx="129.4" cy="248.5" r="0.7" opacity="0.6"/>
<circle cx="132.3" cy="241.1" r="0.6" opacity="0.6"/>
<circle cx="132.3" cy="248.2" r="1" opacity="0.6"/>
<circle cx="126.9" cy="248.1" r="0.6" opacity="0.6"/>
<circle cx="138" cy="248.7" r="0.6" opacity="0.6"/>
<circle cx="128.6" cy="245.7" r="0.7" opacity="0.6"/>
<circle cx="134.6" cy="250.5" r="0.7" opacity="0.6"/>
<circle cx="132" cy="248.3" r="0.7" opacity="0.6"/>
<circle cx="127" cy="244.2" r="0.7" opacity="0.6"/>
<circle cx="133" cy="244.4" r="0.6" opacity="0.6"/>
<circle cx="130.9" cy="251.8" r="0.8" opacity="0.6"/>
<circle cx="136.6" cy="251.2" r="0.9" opacity="0.6"/>
<circle cx="127.9" cy="250.4" r="0.9" opacity="0.6"/>
<circle cx="133.5" cy="245.3" r="0.7" opacity="0.6"/>
<circle cx="133.9" cy="245.7" r="0.7" opacity="0.6"/>
<circle cx="128.2" cy="243.5" r="0.7" opacity="0.6"/>
<circle cx="135.7" cy="244.1" r="0.7" opacity="0.6"/>
<circle cx="128.9" cy="250.5" r="0.6" opacity="0.6"/>
<circle cx="128.9" cy="246.7" r="0.9" opacity="0.6"/>
<circle cx="132.3" cy="243.3" r="1" opacity="0.6"/>
<circle cx="130.2" cy="239.8" r="0.8" opacity="0.6"/>
<circle cx="137.1" cy="244" r="0.9" opacity="0.6"/>
<circle cx="133.1" cy="249.6" r="0.8" opacity="0.6"/>
<circle cx="132.3" cy="252.5" r="0.7" opacity="0.6"/>
<circle cx="130.5" cy="242.7" r="0.9" opacity="0.6"/>
<circle cx="130.4" cy="244.2" r="0.6" opacity="0.6"/>
<circle cx="135.1" cy="246.1" r="0.6" opacity="0.6"/>
<circle cx="131" cy="247.1" r="0.8" opacity="0.6"/>
<circle cx="128.5" cy="241.7" r="0.9" opacity="0.6"/>
<circle cx="133.2" cy="244.4" r="0.9" opacity="0.6"/>
<circle cx="135.8" cy="251.9" r="0.7" opacity="0.6"/>
<circle cx="136.1" cy="245.3" r="0.8" opacity="0.6"/>
</g>
<g stroke="#8ca785" stroke-width="1" fill="none">
<path d="M161 259V243.7"/>
</g><g stroke="#8aa582" stroke-width="0.55" fill="none" opacity="0.9">
<path d="M161 245.5L154.3 244"/>
<path d="M161 245.5L155.4 241.2"/>
<path d="M161 245.5L155.6 237.3"/>
<path d="M161 245.5L159.1 237.1"/>
<path d="M161 245.5L161.7 234.7"/>
<path d="M161 245.5L163 237.4"/>
<path d="M161 245.5L165.9 238.5"/>
<path d="M161 245.5L166.1 241.3"/>
<path d="M161 245.5L167.5 243.6"/>
</g>
<g fill="#7d9b75">
<ellipse cx="161" cy="240" rx="6.1" ry="6.8" opacity="0.22"/>
<circle cx="162.9" cy="239.8" r="0.8" opacity="0.6"/>
<circle cx="158.5" cy="245.9" r="0.7" opacity="0.6"/>
<circle cx="158.8" cy="235.1" r="0.9" opacity="0.6"/>
<circle cx="159.8" cy="238.5" r="0.8" opacity="0.6"/>
<circle cx="156.6" cy="237.6" r="0.9" opacity="0.6"/>
<circle cx="158" cy="235.5" r="0.8" opacity="0.6"/>
<circle cx="162.1" cy="234.5" r="0.8" opacity="0.6"/>
<circle cx="157.9" cy="241.6" r="0.6" opacity="0.6"/>
<circle cx="160.2" cy="236.1" r="0.9" opacity="0.6"/>
<circle cx="161.9" cy="237.8" r="0.9" opacity="0.6"/>
<circle cx="162.4" cy="239.6" r="0.6" opacity="0.6"/>
<circle cx="166.4" cy="238.3" r="0.6" opacity="0.6"/>
<circle cx="157.2" cy="236" r="0.6" opacity="0.6"/>
<circle cx="161.4" cy="242.4" r="0.9" opacity="0.6"/>
<circle cx="163" cy="238.3" r="0.8" opacity="0.6"/>
<circle cx="162.3" cy="233" r="1" opacity="0.6"/>
<circle cx="160.4" cy="235.3" r="1" opacity="0.6"/>
<circle cx="165.7" cy="235.1" r="0.6" opacity="0.6"/>
<circle cx="164.2" cy="238" r="0.7" opacity="0.6"/>
<circle cx="162.1" cy="246" r="0.8" opacity="0.6"/>
<circle cx="159.5" cy="241.1" r="0.6" opacity="0.6"/>
<circle cx="161" cy="234.9" r="0.7" opacity="0.6"/>
<circle cx="160.5" cy="244.2" r="0.8" opacity="0.6"/>
<circle cx="159.5" cy="241.5" r="0.7" opacity="0.6"/>
<circle cx="160.7" cy="244.1" r="0.7" opacity="0.6"/>
<circle cx="161.2" cy="238.5" r="0.7" opacity="0.6"/>
<circle cx="160.5" cy="242.6" r="1" opacity="0.6"/>
<circle cx="158.3" cy="246.6" r="0.9" opacity="0.6"/>
<circle cx="164.5" cy="240.5" r="0.7" opacity="0.6"/>
<circle cx="158.5" cy="236.3" r="0.6" opacity="0.6"/>
<circle cx="161" cy="233.9" r="0.9" opacity="0.6"/>
<circle cx="158.5" cy="235.7" r="0.7" opacity="0.6"/>
<circle cx="155.3" cy="239.3" r="0.9" opacity="0.6"/>
<circle cx="161.5" cy="233.3" r="0.8" opacity="0.6"/>
<circle cx="163.8" cy="239.3" r="0.8" opacity="0.6"/>
<circle cx="161.4" cy="246.1" r="0.9" opacity="0.6"/>
<circle cx="163.7" cy="245.4" r="0.7" opacity="0.6"/>
<circle cx="163.8" cy="244.8" r="1" opacity="0.6"/>
<circle cx="159.9" cy="239.4" r="0.9" opacity="0.6"/>
<circle cx="162.3" cy="238.5" r="0.9" opacity="0.6"/>
<circle cx="160.1" cy="237.6" r="0.6" opacity="0.6"/>
<circle cx="162.3" cy="233" r="0.6" opacity="0.6"/>
<circle cx="164.5" cy="235.9" r="0.6" opacity="0.6"/>
<circle cx="156.5" cy="239.4" r="0.7" opacity="0.6"/>
<circle cx="157.8" cy="235.7" r="0.9" opacity="0.6"/>
<circle cx="159.4" cy="241.5" r="0.7" opacity="0.6"/>
</g>
<g stroke="#8ca785" stroke-width="1" fill="none">
<path d="M180 269V251.7"/>
</g><g stroke="#8aa582" stroke-width="0.55" fill="none" opacity="0.9">
<path d="M180 253.5L174.5 251.4"/>
<path d="M180 253.5L173.9 249.3"/>
<path d="M180 253.5L174.7 244.6"/>
<path d="M180 253.5L177.8 244.6"/>
<path d="M180 253.5L180.2 243.9"/>
<path d="M180 253.5L183 244.2"/>
<path d="M180 253.5L184.9 245.7"/>
<path d="M180 253.5L185.1 250"/>
<path d="M180 253.5L187.5 252"/>
</g>
<g fill="#7d9b75">
<ellipse cx="180" cy="248" rx="6.1" ry="6.8" opacity="0.22"/>
<circle cx="177.5" cy="254.7" r="0.7" opacity="0.6"/>
<circle cx="175.6" cy="248.2" r="0.6" opacity="0.6"/>
<circle cx="181.3" cy="247.2" r="0.7" opacity="0.6"/>
<circle cx="175.6" cy="247" r="0.7" opacity="0.6"/>
<circle cx="180.4" cy="253.1" r="0.7" opacity="0.6"/>
<circle cx="182.2" cy="246.9" r="0.9" opacity="0.6"/>
<circle cx="185.3" cy="250.9" r="1" opacity="0.6"/>
<circle cx="184.3" cy="250.1" r="0.8" opacity="0.6"/>
<circle cx="177" cy="245.2" r="0.6" opacity="0.6"/>
<circle cx="174.3" cy="247.8" r="0.6" opacity="0.6"/>
<circle cx="181.9" cy="248.5" r="0.7" opacity="0.6"/>
<circle cx="182.6" cy="241.7" r="0.8" opacity="0.6"/>
<circle cx="185.7" cy="248.1" r="0.9" opacity="0.6"/>
<circle cx="178.5" cy="249.5" r="0.9" opacity="0.6"/>
<circle cx="184.1" cy="249.1" r="0.7" opacity="0.6"/>
<circle cx="183.8" cy="250.6" r="0.9" opacity="0.6"/>
<circle cx="182" cy="253.1" r="0.8" opacity="0.6"/>
<circle cx="183.4" cy="246.3" r="0.8" opacity="0.6"/>
<circle cx="175.1" cy="249.9" r="1" opacity="0.6"/>
<circle cx="182.7" cy="245.5" r="0.8" opacity="0.6"/>
<circle cx="183.6" cy="253.5" r="0.8" opacity="0.6"/>
<circle cx="185.5" cy="250.9" r="0.8" opacity="0.6"/>
<circle cx="180.4" cy="249.6" r="0.6" opacity="0.6"/>
<circle cx="184.2" cy="242.8" r="0.6" opacity="0.6"/>
<circle cx="175.4" cy="243.4" r="0.7" opacity="0.6"/>
<circle cx="175.9" cy="251.8" r="0.6" opacity="0.6"/>
<circle cx="175" cy="248.9" r="0.8" opacity="0.6"/>
<circle cx="175.3" cy="246.9" r="0.7" opacity="0.6"/>
<circle cx="181" cy="255.1" r="1" opacity="0.6"/>
<circle cx="175.3" cy="252.5" r="0.7" opacity="0.6"/>
<circle cx="178.3" cy="251.8" r="0.9" opacity="0.6"/>
<circle cx="177" cy="245.5" r="1" opacity="0.6"/>
<circle cx="175.5" cy="248.4" r="0.9" opacity="0.6"/>
<circle cx="181.3" cy="247.7" r="0.6" opacity="0.6"/>
<circle cx="181.5" cy="245" r="0.7" opacity="0.6"/>
<circle cx="177.7" cy="241.2" r="0.9" opacity="0.6"/>
<circle cx="175.8" cy="253.2" r="1" opacity="0.6"/>
<circle cx="182.5" cy="250.9" r="0.7" opacity="0.6"/>
<circle cx="178.3" cy="252.3" r="0.7" opacity="0.6"/>
<circle cx="179.8" cy="251.4" r="0.8" opacity="0.6"/>
<circle cx="181.3" cy="249.5" r="0.8" opacity="0.6"/>
<circle cx="174.3" cy="251.4" r="0.6" opacity="0.6"/>
<circle cx="177.4" cy="249" r="1" opacity="0.6"/>
<circle cx="183.2" cy="246.3" r="0.7" opacity="0.6"/>
<circle cx="178.9" cy="250.7" r="0.7" opacity="0.6"/>
<circle cx="174.7" cy="251.3" r="0.6" opacity="0.6"/>
</g>
<g stroke="#8ca785" stroke-width="1" fill="none">
<path d="M248 264V249.7"/>
</g><g stroke="#8aa582" stroke-width="0.55" fill="none" opacity="0.9">
<path d="M248 251.5L240.8 249.8"/>
<path d="M248 251.5L242.8 247.4"/>
<path d="M248 251.5L243.6 244"/>
<path d="M248 251.5L246.1 243.5"/>
<path d="M248 251.5L248.4 242.7"/>
<path d="M248 251.5L250.6 242.3"/>
<path d="M248 251.5L252.4 245.2"/>
<path d="M248 251.5L252.8 247.7"/>
<path d="M248 251.5L253.6 250.2"/>
</g>
<g fill="#7d9b75">
<ellipse cx="248" cy="246" rx="6.1" ry="6.8" opacity="0.22"/>
<circle cx="248.4" cy="239.7" r="0.6" opacity="0.6"/>
<circle cx="244.7" cy="252.1" r="0.9" opacity="0.6"/>
<circle cx="246.2" cy="249.3" r="0.7" opacity="0.6"/>
<circle cx="242.2" cy="243.4" r="0.7" opacity="0.6"/>
<circle cx="242.2" cy="243.3" r="0.7" opacity="0.6"/>
<circle cx="245.4" cy="241" r="0.6" opacity="0.6"/>
<circle cx="247.9" cy="249.3" r="0.9" opacity="0.6"/>
<circle cx="249.1" cy="243.9" r="0.8" opacity="0.6"/>
<circle cx="246.5" cy="248.6" r="0.8" opacity="0.6"/>
<circle cx="251.4" cy="245.5" r="0.6" opacity="0.6"/>
<circle cx="249.7" cy="240.2" r="0.9" opacity="0.6"/>
<circle cx="253.2" cy="247.8" r="0.8" opacity="0.6"/>
<circle cx="246.6" cy="248" r="0.6" opacity="0.6"/>
<circle cx="243.3" cy="245.9" r="0.9" opacity="0.6"/>
<circle cx="250.5" cy="247.6" r="0.7" opacity="0.6"/>
<circle cx="250.2" cy="251" r="0.8" opacity="0.6"/>
<circle cx="244.4" cy="251.6" r="0.6" opacity="0.6"/>
<circle cx="242.4" cy="244.8" r="1" opacity="0.6"/>
<circle cx="248.8" cy="243.7" r="0.9" opacity="0.6"/>
<circle cx="250.2" cy="248.7" r="0.6" opacity="0.6"/>
<circle cx="249.2" cy="253.2" r="0.7" opacity="0.6"/>
<circle cx="242.1" cy="245.1" r="0.9" opacity="0.6"/>
<circle cx="248.1" cy="241.5" r="0.8" opacity="0.6"/>
<circle cx="242" cy="246" r="0.7" opacity="0.6"/>
<circle cx="246.3" cy="249.6" r="0.9" opacity="0.6"/>
<circle cx="246.1" cy="242.2" r="0.6" opacity="0.6"/>
<circle cx="248.7" cy="247.5" r="1" opacity="0.6"/>
<circle cx="250.9" cy="239.4" r="0.6" opacity="0.6"/>
<circle cx="246.5" cy="247.8" r="0.8" opacity="0.6"/>
<circle cx="247.2" cy="252.4" r="0.8" opacity="0.6"/>
<circle cx="247" cy="243.7" r="0.6" opacity="0.6"/>
<circle cx="242.7" cy="243.9" r="0.6" opacity="0.6"/>
<circle cx="248.1" cy="240.3" r="0.6" opacity="0.6"/>
<circle cx="242.8" cy="242.5" r="0.8" opacity="0.6"/>
<circle cx="245.3" cy="251.9" r="0.9" opacity="0.6"/>
<circle cx="254.2" cy="247.9" r="0.6" opacity="0.6"/>
<circle cx="243.5" cy="244.1" r="0.7" opacity="0.6"/>
<circle cx="249.6" cy="251.9" r="0.8" opacity="0.6"/>
<circle cx="245.4" cy="241.2" r="0.6" opacity="0.6"/>
<circle cx="247.1" cy="239" r="0.9" opacity="0.6"/>
<circle cx="245.7" cy="251.9" r="0.9" opacity="0.6"/>
<circle cx="252.9" cy="245.8" r="0.8" opacity="0.6"/>
<circle cx="249.9" cy="240.9" r="0.8" opacity="0.6"/>
<circle cx="245.4" cy="243.8" r="1" opacity="0.6"/>
<circle cx="247.4" cy="239.9" r="0.9" opacity="0.6"/>
<circle cx="249.4" cy="244.2" r="0.9" opacity="0.6"/>
</g>
<g stroke="#8ca785" stroke-width="1" fill="none">
<path d="M254 263V246.7"/>
</g><g stroke="#8aa582" stroke-width="0.55" fill="none" opacity="0.9">
<path d="M254 248.5L248.5 246.6"/>
<path d="M254 248.5L249.2 244.9"/>
<path d="M254 248.5L247.9 240.2"/>
<path d="M254 248.5L251.1 240.4"/>
<path d="M254 248.5L254.1 239.1"/>
<path d="M254 248.5L257.4 238.4"/>
<path d="M254 248.5L259 242.1"/>
<path d="M254 248.5L260.3 244.4"/>
<path d="M254 248.5L259.9 247.2"/>
</g>
<g fill="#7d9b75">
<ellipse cx="254" cy="243" rx="6.1" ry="6.8" opacity="0.22"/>
<circle cx="250.9" cy="244.1" r="0.8" opacity="0.6"/>
<circle cx="257.4" cy="243.4" r="0.7" opacity="0.6"/>
<circle cx="250.7" cy="247.5" r="0.8" opacity="0.6"/>
<circle cx="258.4" cy="240.9" r="0.7" opacity="0.6"/>
<circle cx="247.7" cy="243.4" r="0.7" opacity="0.6"/>
<circle cx="253.9" cy="246.7" r="1" opacity="0.6"/>
<circle cx="250.1" cy="240.6" r="0.9" opacity="0.6"/>
<circle cx="255.5" cy="242.1" r="0.9" opacity="0.6"/>
<circle cx="256.9" cy="241.8" r="0.9" opacity="0.6"/>
<circle cx="248.5" cy="245.9" r="0.9" opacity="0.6"/>
<circle cx="251.3" cy="239.5" r="0.7" opacity="0.6"/>
<circle cx="250.1" cy="246.3" r="0.7" opacity="0.6"/>
<circle cx="253.6" cy="240.8" r="0.7" opacity="0.6"/>
<circle cx="250.8" cy="238.1" r="1" opacity="0.6"/>
<circle cx="252" cy="240.6" r="0.9" opacity="0.6"/>
<circle cx="249" cy="246.2" r="0.9" opacity="0.6"/>
<circle cx="252.9" cy="241.2" r="0.9" opacity="0.6"/>
<circle cx="259.3" cy="240.3" r="0.8" opacity="0.6"/>
<circle cx="257.9" cy="242.4" r="0.8" opacity="0.6"/>
<circle cx="251.8" cy="248.5" r="0.9" opacity="0.6"/>
<circle cx="257.7" cy="243.1" r="0.9" opacity="0.6"/>
<circle cx="253.9" cy="248.9" r="0.7" opacity="0.6"/>
<circle cx="253.4" cy="237.8" r="0.9" opacity="0.6"/>
<circle cx="260.5" cy="243.1" r="0.7" opacity="0.6"/>
<circle cx="251.4" cy="243.7" r="0.7" opacity="0.6"/>
<circle cx="252.1" cy="245.7" r="0.7" opacity="0.6"/>
<circle cx="255.7" cy="243.3" r="0.7" opacity="0.6"/>
<circle cx="256" cy="240.3" r="1" opacity="0.6"/>
<circle cx="257.1" cy="237.3" r="0.6" opacity="0.6"/>
<circle cx="256.3" cy="248.8" r="0.8" opacity="0.6"/>
<circle cx="257.4" cy="248.3" r="0.8" opacity="0.6"/>
<circle cx="248.3" cy="246.8" r="0.8" opacity="0.6"/>
<circle cx="250.2" cy="238.1" r="0.7" opacity="0.6"/>
<circle cx="252.3" cy="243.8" r="0.7" opacity="0.6"/>
<circle cx="248.1" cy="245.8" r="0.6" opacity="0.6"/>
<circle cx="255.4" cy="247.8" r="0.7" opacity="0.6"/>
<circle cx="247.9" cy="243.4" r="0.9" opacity="0.6"/>
<circle cx="256.6" cy="239.2" r="0.8" opacity="0.6"/>
<circle cx="260.2" cy="243.2" r="0.6" opacity="0.6"/>
<circle cx="258.4" cy="240.3" r="0.6" opacity="0.6"/>
<circle cx="255.9" cy="245" r="0.7" opacity="0.6"/>
<circle cx="256.6" cy="237.9" r="0.7" opacity="0.6"/>
<circle cx="256" cy="238.4" r="0.6" opacity="0.6"/>
<circle cx="252.4" cy="249.3" r="0.9" opacity="0.6"/>
<circle cx="255.9" cy="239.6" r="0.6" opacity="0.6"/>
<circle cx="257.8" cy="247.8" r="0.8" opacity="0.6"/>
</g>
<g stroke="#8ca785" stroke-width="1" fill="none">
<path d="M259 265V250.7"/>
</g><g stroke="#8aa582" stroke-width="0.55" fill="none" opacity="0.9">
<path d="M259 252.5L252.9 250.3"/>
<path d="M259 252.5L253.4 249"/>
<path d="M259 252.5L253.8 244.7"/>
<path d="M259 252.5L257 244.1"/>
<path d="M259 252.5L259.7 241.7"/>
<path d="M259 252.5L261.7 243"/>
<path d="M259 252.5L264.5 245.1"/>
<path d="M259 252.5L263.8 248.8"/>
<path d="M259 252.5L266 250.7"/>
</g>
<g fill="#7d9b75">
<ellipse cx="259" cy="247" rx="6.1" ry="6.8" opacity="0.22"/>
<circle cx="255.2" cy="251.9" r="0.9" opacity="0.6"/>
<circle cx="256.6" cy="251.7" r="0.7" opacity="0.6"/>
<circle cx="261.6" cy="253.4" r="0.9" opacity="0.6"/>
<circle cx="256" cy="250.7" r="0.6" opacity="0.6"/>
<circle cx="255.6" cy="250.3" r="0.8" opacity="0.6"/>
<circle cx="262.6" cy="247.9" r="0.6" opacity="0.6"/>
<circle cx="262.4" cy="249.1" r="1" opacity="0.6"/>
<circle cx="257.9" cy="250.6" r="0.9" opacity="0.6"/>
<circle cx="264.9" cy="244.5" r="0.7" opacity="0.6"/>
<circle cx="254.4" cy="246.1" r="0.8" opacity="0.6"/>
<circle cx="255.7" cy="241.9" r="0.6" opacity="0.6"/>
<circle cx="253.9" cy="247.5" r="0.8" opacity="0.6"/>
<circle cx="256.2" cy="253" r="0.6" opacity="0.6"/>
<circle cx="258.6" cy="240.8" r="1" opacity="0.6"/>
<circle cx="262" cy="246.3" r="0.7" opacity="0.6"/>
<circle cx="255.9" cy="243.7" r="0.8" opacity="0.6"/>
<circle cx="262.8" cy="245" r="0.6" opacity="0.6"/>
<circle cx="260.5" cy="249.7" r="0.9" opacity="0.6"/>
<circle cx="257.4" cy="251.2" r="0.8" opacity="0.6"/>
<circle cx="256.8" cy="245.5" r="1" opacity="0.6"/>
<circle cx="257.6" cy="253.4" r="0.6" opacity="0.6"/>
<circle cx="263.6" cy="241.8" r="0.7" opacity="0.6"/>
<circle cx="254.8" cy="249.5" r="0.8" opacity="0.6"/>
<circle cx="255.3" cy="248.9" r="0.8" opacity="0.6"/>
<circle cx="255" cy="251.1" r="0.7" opacity="0.6"/>
<circle cx="253.4" cy="245.7" r="1" opacity="0.6"/>
<circle cx="260.3" cy="253.8" r="0.9" opacity="0.6"/>
<circle cx="257.2" cy="244.1" r="0.9" opacity="0.6"/>
<circle cx="259.6" cy="242.3" r="0.6" opacity="0.6"/>
<circle cx="259" cy="241.3" r="0.8" opacity="0.6"/>
<circle cx="256.2" cy="241.4" r="0.8" opacity="0.6"/>
<circle cx="255.7" cy="245" r="0.6" opacity="0.6"/>
<circle cx="264.5" cy="245.5" r="0.8" opacity="0.6"/>
<circle cx="254.8" cy="252.1" r="0.7" opacity="0.6"/>
<circle cx="261" cy="248" r="0.6" opacity="0.6"/>
<circle cx="261.2" cy="240.9" r="0.6" opacity="0.6"/>
<circle cx="264.9" cy="246.4" r="0.7" opacity="0.6"/>
<circle cx="253.3" cy="250.8" r="0.9" opacity="0.6"/>
<circle cx="257.1" cy="247.5" r="0.8" opacity="0.6"/>
<circle cx="258.5" cy="240.2" r="0.7" opacity="0.6"/>
<circle cx="263.5" cy="241.6" r="0.8" opacity="0.6"/>
<circle cx="263.4" cy="242.4" r="0.7" opacity="0.6"/>
<circle cx="264.1" cy="251.5" r="1" opacity="0.6"/>
<circle cx="258.2" cy="245.2" r="0.6" opacity="0.6"/>
<circle cx="257.8" cy="251.5" r="0.8" opacity="0.6"/>
<circle cx="257.7" cy="241.3" r="0.8" opacity="0.6"/>
</g>
<g stroke="#8ca785" stroke-width="1" fill="none">
<path d="M280 261V245.7"/>
</g><g stroke="#8aa582" stroke-width="0.55" fill="none" opacity="0.9">
<path d="M280 247.5L274 245.4"/>
<path d="M280 247.5L274 242.9"/>
<path d="M280 247.5L275.3 239.6"/>
<path d="M280 247.5L277.8 238.9"/>
<path d="M280 247.5L280.4 236.9"/>
<path d="M280 247.5L282.2 238.5"/>
<path d="M280 247.5L285.3 238.4"/>
<path d="M280 247.5L284.5 243.6"/>
<path d="M280 247.5L286.6 246.2"/>
</g>
<g fill="#7d9b75">
<ellipse cx="280" cy="242" rx="6.1" ry="6.8" opacity="0.22"/>
<circle cx="284.3" cy="242.1" r="0.7" opacity="0.6"/>
<circle cx="279.6" cy="236" r="1" opacity="0.6"/>
<circle cx="276.6" cy="239.3" r="0.7" opacity="0.6"/>
<circle cx="284.1" cy="243.1" r="0.9" opacity="0.6"/>
<circle cx="276.9" cy="239.7" r="0.9" opacity="0.6"/>
<circle cx="274.9" cy="240.8" r="0.7" opacity="0.6"/>
<circle cx="278" cy="248.6" r="0.9" opacity="0.6"/>
<circle cx="274.4" cy="243.2" r="1" opacity="0.6"/>
<circle cx="276.8" cy="246.1" r="0.8" opacity="0.6"/>
<circle cx="283.2" cy="246.5" r="1" opacity="0.6"/>
<circle cx="276.2" cy="236.4" r="1" opacity="0.6"/>
<circle cx="283.5" cy="239.5" r="0.9" opacity="0.6"/>
<circle cx="278.2" cy="244.5" r="0.8" opacity="0.6"/>
<circle cx="278.2" cy="242.2" r="0.7" opacity="0.6"/>
<circle cx="278" cy="243.5" r="0.9" opacity="0.6"/>
<circle cx="279" cy="238" r="0.8" opacity="0.6"/>
<circle cx="279.1" cy="241.1" r="0.9" opacity="0.6"/>
<circle cx="282" cy="241.1" r="0.6" opacity="0.6"/>
<circle cx="274.4" cy="238.3" r="0.9" opacity="0.6"/>
<circle cx="281.6" cy="246" r="0.8" opacity="0.6"/>
<circle cx="277.4" cy="236.6" r="0.8" opacity="0.6"/>
<circle cx="275.1" cy="244.8" r="0.7" opacity="0.6"/>
<circle cx="273.9" cy="239.4" r="0.9" opacity="0.6"/>
<circle cx="282.6" cy="239.4" r="0.7" opacity="0.6"/>
<circle cx="280.9" cy="241" r="0.6" opacity="0.6"/>
<circle cx="279.1" cy="242.9" r="0.8" opacity="0.6"/>
<circle cx="282.1" cy="237.2" r="0.8" opacity="0.6"/>
<circle cx="284.4" cy="247.1" r="0.8" opacity="0.6"/>
<circle cx="282.7" cy="238.2" r="0.7" opacity="0.6"/>
<circle cx="282" cy="241.7" r="1" opacity="0.6"/>
<circle cx="284.9" cy="242.1" r="0.7" opacity="0.6"/>
<circle cx="276.6" cy="238.9" r="0.9" opacity="0.6"/>
<circle cx="278" cy="240.4" r="0.9" opacity="0.6"/>
<circle cx="283.2" cy="243.2" r="0.6" opacity="0.6"/>
<circle cx="279.8" cy="239.5" r="0.8" opacity="0.6"/>
<circle cx="279.7" cy="247" r="0.9" opacity="0.6"/>
<circle cx="284.7" cy="239.7" r="0.9" opacity="0.6"/>
<circle cx="284.5" cy="237.7" r="0.8" opacity="0.6"/>
<circle cx="285.9" cy="245.2" r="0.7" opacity="0.6"/>
<circle cx="274.4" cy="239.5" r="0.7" opacity="0.6"/>
<circle cx="276.4" cy="246.2" r="0.6" opacity="0.6"/>
<circle cx="277.5" cy="244.1" r="0.6" opacity="0.6"/>
<circle cx="285.4" cy="242.3" r="0.9" opacity="0.6"/>
<circle cx="285" cy="239" r="0.8" opacity="0.6"/>
<circle cx="283.3" cy="242.2" r="0.6" opacity="0.6"/>
<circle cx="281.2" cy="242.1" r="0.6" opacity="0.6"/>
</g>
<g stroke="#8ca785" stroke-width="1" fill="none">
<path d="M335 205V189.7"/>
</g><g stroke="#8aa582" stroke-width="0.55" fill="none" opacity="0.9">
<path d="M335 191.5L329.5 189.6"/>
<path d="M335 191.5L329.3 187"/>
<path d="M335 191.5L329.8 183.1"/>
<path d="M335 191.5L331.8 183.1"/>
<path d="M335 191.5L335.2 183"/>
<path d="M335 191.5L337.6 183.1"/>
<path d="M335 191.5L340.4 183"/>
<path d="M335 191.5L340 188.3"/>
<path d="M335 191.5L342.4 190"/>
</g>
<g fill="#7d9b75">
<ellipse cx="335" cy="186" rx="6.1" ry="6.8" opacity="0.22"/>
<circle cx="331.4" cy="192.1" r="0.9" opacity="0.6"/>
<circle cx="337.5" cy="188.5" r="0.7" opacity="0.6"/>
<circle cx="328.8" cy="184.2" r="0.9" opacity="0.6"/>
<circle cx="335.9" cy="188.6" r="1" opacity="0.6"/>
<circle cx="338" cy="181.7" r="0.8" opacity="0.6"/>
<circle cx="336.1" cy="187.3" r="0.6" opacity="0.6"/>
<circle cx="331.4" cy="188.4" r="0.9" opacity="0.6"/>
<circle cx="332" cy="189" r="0.8" opacity="0.6"/>
<circle cx="332" cy="179.5" r="0.6" opacity="0.6"/>
<circle cx="339.5" cy="186.1" r="0.9" opacity="0.6"/>
<circle cx="332.5" cy="182.5" r="0.6" opacity="0.6"/>
<circle cx="335.2" cy="192.3" r="0.7" opacity="0.6"/>
<circle cx="331.4" cy="186" r="0.9" opacity="0.6"/>
<circle cx="334" cy="190.4" r="0.9" opacity="0.6"/>
<circle cx="332.5" cy="187.9" r="0.8" opacity="0.6"/>
<circle cx="337.7" cy="186" r="0.6" opacity="0.6"/>
<circle cx="335" cy="190.4" r="0.6" opacity="0.6"/>
<circle cx="337.9" cy="186.2" r="0.7" opacity="0.6"/>
<circle cx="333.4" cy="186.4" r="0.7" opacity="0.6"/>
<circle cx="333.2" cy="186.7" r="0.6" opacity="0.6"/>
<circle cx="330.5" cy="183.3" r="0.8" opacity="0.6"/>
<circle cx="335.8" cy="189.8" r="0.6" opacity="0.6"/>
<circle cx="333.8" cy="186.6" r="0.7" opacity="0.6"/>
<circle cx="332.7" cy="185.3" r="0.8" opacity="0.6"/>
<circle cx="330.3" cy="190.7" r="0.6" opacity="0.6"/>
<circle cx="339.8" cy="188" r="0.6" opacity="0.6"/>
<circle cx="332.5" cy="192.6" r="0.6" opacity="0.6"/>
<circle cx="332.7" cy="191" r="0.9" opacity="0.6"/>
<circle cx="336.1" cy="187" r="0.6" opacity="0.6"/>
<circle cx="333" cy="189.7" r="0.7" opacity="0.6"/>
<circle cx="334.4" cy="191.5" r="0.9" opacity="0.6"/>
<circle cx="337.8" cy="190.4" r="0.6" opacity="0.6"/>
<circle cx="331" cy="190.4" r="0.8" opacity="0.6"/>
<circle cx="330" cy="184.6" r="0.7" opacity="0.6"/>
<circle cx="336.6" cy="183.4" r="1" opacity="0.6"/>
<circle cx="338.8" cy="189.1" r="0.6" opacity="0.6"/>
<circle cx="334.7" cy="182.3" r="0.9" opacity="0.6"/>
<circle cx="330.4" cy="186.2" r="0.8" opacity="0.6"/>
<circle cx="335.7" cy="189" r="0.6" opacity="0.6"/>
<circle cx="336.4" cy="187.4" r="0.6" opacity="0.6"/>
<circle cx="333.4" cy="180.1" r="0.9" opacity="0.6"/>
<circle cx="336.3" cy="187.5" r="0.7" opacity="0.6"/>
<circle cx="339.7" cy="184.2" r="0.7" opacity="0.6"/>
<circle cx="337.3" cy="192.5" r="0.7" opacity="0.6"/>
<circle cx="341.4" cy="187.2" r="0.8" opacity="0.6"/>
<circle cx="336.8" cy="183.4" r="0.6" opacity="0.6"/>
</g>
<g stroke="#8ca785" stroke-width="1" fill="none">
<path d="M341 201V186.7"/>
</g><g stroke="#8aa582" stroke-width="0.55" fill="none" opacity="0.9">
<path d="M341 188.5L333.9 187"/>
<path d="M341 188.5L335.5 184.6"/>
<path d="M341 188.5L336 180"/>
<path d="M341 188.5L338.2 179.3"/>
<path d="M341 188.5L340.7 180"/>
<path d="M341 188.5L343.5 180.3"/>
<path d="M341 188.5L346.1 179.7"/>
<path d="M341 188.5L346.5 184.8"/>
<path d="M341 188.5L348 185.9"/>
</g>
<g fill="#7d9b75">
<ellipse cx="341" cy="183" rx="6.1" ry="6.8" opacity="0.22"/>
<circle cx="337.8" cy="180.9" r="0.9" opacity="0.6"/>
<circle cx="344.2" cy="184.5" r="0.6" opacity="0.6"/>
<circle cx="346.5" cy="182.3" r="0.6" opacity="0.6"/>
<circle cx="345.7" cy="185.3" r="0.9" opacity="0.6"/>
<circle cx="340.8" cy="186.2" r="0.7" opacity="0.6"/>
<circle cx="345.9" cy="179.3" r="0.9" opacity="0.6"/>
<circle cx="344.7" cy="185.5" r="1" opacity="0.6"/>
<circle cx="339.6" cy="183.8" r="0.9" opacity="0.6"/>
<circle cx="337.3" cy="183.4" r="0.8" opacity="0.6"/>
<circle cx="340.1" cy="186.6" r="1" opacity="0.6"/>
<circle cx="342.9" cy="183.4" r="0.7" opacity="0.6"/>
<circle cx="335.9" cy="182.1" r="0.8" opacity="0.6"/>
<circle cx="340.3" cy="176" r="0.7" opacity="0.6"/>
<circle cx="340.9" cy="185.7" r="0.7" opacity="0.6"/>
<circle cx="338.5" cy="182.8" r="0.8" opacity="0.6"/>
<circle cx="344.3" cy="188.1" r="0.9" opacity="0.6"/>
<circle cx="341.7" cy="186.2" r="0.9" opacity="0.6"/>
<circle cx="337.4" cy="178.8" r="0.6" opacity="0.6"/>
<circle cx="340.2" cy="178.4" r="0.6" opacity="0.6"/>
<circle cx="338.4" cy="177.7" r="1" opacity="0.6"/>
<circle cx="345.3" cy="184.7" r="0.7" opacity="0.6"/>
<circle cx="341.9" cy="186.5" r="0.6" opacity="0.6"/>
<circle cx="343" cy="184.9" r="0.6" opacity="0.6"/>
<circle cx="344.7" cy="187.7" r="0.7" opacity="0.6"/>
<circle cx="343.4" cy="184.3" r="0.6" opacity="0.6"/>
<circle cx="346.8" cy="185.7" r="0.7" opacity="0.6"/>
<circle cx="342.5" cy="188.3" r="1" opacity="0.6"/>
<circle cx="344.2" cy="182" r="0.9" opacity="0.6"/>
<circle cx="339.5" cy="178.3" r="0.7" opacity="0.6"/>
<circle cx="343.9" cy="176.4" r="0.6" opacity="0.6"/>
<circle cx="339.6" cy="177.7" r="0.7" opacity="0.6"/>
<circle cx="335.8" cy="178.5" r="0.8" opacity="0.6"/>
<circle cx="337.8" cy="181.1" r="0.8" opacity="0.6"/>
<circle cx="336.9" cy="187.9" r="0.9" opacity="0.6"/>
<circle cx="335.2" cy="182.1" r="0.9" opacity="0.6"/>
<circle cx="338" cy="186.1" r="0.6" opacity="0.6"/>
<circle cx="345.7" cy="182.8" r="0.6" opacity="0.6"/>
<circle cx="345.5" cy="188.3" r="0.8" opacity="0.6"/>
<circle cx="337.5" cy="187.3" r="0.7" opacity="0.6"/>
<circle cx="336" cy="179" r="0.7" opacity="0.6"/>
<circle cx="336.6" cy="184.8" r="0.8" opacity="0.6"/>
<circle cx="346.7" cy="181.9" r="0.8" opacity="0.6"/>
<circle cx="341" cy="185.2" r="0.7" opacity="0.6"/>
<circle cx="342.8" cy="188.6" r="0.7" opacity="0.6"/>
<circle cx="338.5" cy="178.1" r="0.8" opacity="0.6"/>
<circle cx="336" cy="186.9" r="0.8" opacity="0.6"/>
</g>
<g stroke="#8ca785" stroke-width="1" fill="none">
<path d="M346 200V183.7"/>
</g><g stroke="#8aa582" stroke-width="0.55" fill="none" opacity="0.9">
<path d="M346 185.5L338.9 183.5"/>
<path d="M346 185.5L341.3 182.1"/>
<path d="M346 185.5L341 178.7"/>
<path d="M346 185.5L343.5 176.6"/>
<path d="M346 185.5L345.4 174.9"/>
<path d="M346 185.5L348.5 176.9"/>
<path d="M346 185.5L351.7 178.2"/>
<path d="M346 185.5L351.5 181.3"/>
<path d="M346 185.5L353.1 182.9"/>
</g>
<g fill="#7d9b75">
<ellipse cx="346" cy="180" rx="6.1" ry="6.8" opacity="0.22"/>
<circle cx="351.9" cy="180.9" r="0.9" opacity="0.6"/>
<circle cx="347.3" cy="185.3" r="0.6" opacity="0.6"/>
<circle cx="345" cy="177" r="0.7" opacity="0.6"/>
<circle cx="344.2" cy="185.8" r="0.9" opacity="0.6"/>
<circle cx="351.3" cy="175.7" r="1" opacity="0.6"/>
<circle cx="349" cy="186.5" r="0.7" opacity="0.6"/>
<circle cx="346.2" cy="173.5" r="0.9" opacity="0.6"/>
<circle cx="343.9" cy="175.1" r="0.6" opacity="0.6"/>
<circle cx="340.6" cy="184.2" r="0.6" opacity="0.6"/>
<circle cx="342.3" cy="182.3" r="0.7" opacity="0.6"/>
<circle cx="349.8" cy="182.5" r="0.7" opacity="0.6"/>
<circle cx="349.4" cy="178.1" r="0.8" opacity="0.6"/>
<circle cx="343.1" cy="183.8" r="0.8" opacity="0.6"/>
<circle cx="344" cy="176.9" r="0.7" opacity="0.6"/>
<circle cx="346.2" cy="185.9" r="0.8" opacity="0.6"/>
<circle cx="343.5" cy="176.9" r="0.7" opacity="0.6"/>
<circle cx="341.3" cy="184.1" r="1" opacity="0.6"/>
<circle cx="341.2" cy="181" r="0.6" opacity="0.6"/>
<circle cx="345.6" cy="187" r="0.8" opacity="0.6"/>
<circle cx="343.7" cy="177.9" r="0.6" opacity="0.6"/>
<circle cx="344.6" cy="173.1" r="0.9" opacity="0.6"/>
<circle cx="339.4" cy="179.3" r="0.8" opacity="0.6"/>
<circle cx="341.5" cy="178" r="0.8" opacity="0.6"/>
<circle cx="342.5" cy="182.2" r="0.7" opacity="0.6"/>
<circle cx="344.5" cy="186.2" r="0.6" opacity="0.6"/>
<circle cx="344.3" cy="184.6" r="1" opacity="0.6"/>
<circle cx="343.7" cy="175.3" r="0.6" opacity="0.6"/>
<circle cx="347" cy="182.8" r="0.6" opacity="0.6"/>
<circle cx="349.6" cy="176.9" r="0.6" opacity="0.6"/>
<circle cx="340.2" cy="177.3" r="0.7" opacity="0.6"/>
<circle cx="348" cy="181.7" r="0.8" opacity="0.6"/>
<circle cx="350.6" cy="178.6" r="0.7" opacity="0.6"/>
<circle cx="341" cy="183" r="0.9" opacity="0.6"/>
<circle cx="348.7" cy="173.8" r="0.9" opacity="0.6"/>
<circle cx="346.5" cy="181.9" r="0.8" opacity="0.6"/>
<circle cx="342.4" cy="176.4" r="0.9" opacity="0.6"/>
<circle cx="344.9" cy="184.2" r="0.6" opacity="0.6"/>
<circle cx="352.3" cy="179.4" r="0.7" opacity="0.6"/>
<circle cx="342.1" cy="175.8" r="0.8" opacity="0.6"/>
<circle cx="347.2" cy="174.6" r="0.9" opacity="0.6"/>
<circle cx="341.6" cy="184.5" r="0.8" opacity="0.6"/>
<circle cx="350.1" cy="180.7" r="1" opacity="0.6"/>
<circle cx="343.6" cy="176.7" r="0.9" opacity="0.6"/>
<circle cx="342.5" cy="177.2" r="1" opacity="0.6"/>
<circle cx="348.8" cy="173.8" r="0.9" opacity="0.6"/>
<circle cx="343.9" cy="181.6" r="0.9" opacity="0.6"/>
</g>
<g stroke="#8ca785" stroke-width="1" fill="none">
<path d="M351 195V179.7"/>
</g><g stroke="#8aa582" stroke-width="0.55" fill="none" opacity="0.9">
<path d="M351 181.5L345.4 179.5"/>
<path d="M351 181.5L345.6 177.9"/>
<path d="M351 181.5L345.8 174.6"/>
<path d="M351 181.5L348.4 171.7"/>
<path d="M351 181.5L351.3 170.8"/>
<path d="M351 181.5L354.1 172.7"/>
<path d="M351 181.5L356.8 174.1"/>
<path d="M351 181.5L356 177.2"/>
<path d="M351 181.5L357.3 179.8"/>
</g>
<g fill="#7d9b75">
<ellipse cx="351" cy="176" rx="6.1" ry="6.8" opacity="0.22"/>
<circle cx="346.1" cy="173" r="1" opacity="0.6"/>
<circle cx="356.6" cy="176.9" r="0.9" opacity="0.6"/>
<circle cx="352.1" cy="170" r="0.7" opacity="0.6"/>
<circle cx="350.5" cy="171.6" r="0.9" opacity="0.6"/>
<circle cx="346.8" cy="179.2" r="0.6" opacity="0.6"/>
<circle cx="348" cy="175.3" r="0.6" opacity="0.6"/>
<circle cx="351.9" cy="180.5" r="0.6" opacity="0.6"/>
<circle cx="353.9" cy="169.5" r="0.9" opacity="0.6"/>
<circle cx="349.9" cy="181.1" r="1" opacity="0.6"/>
<circle cx="354.2" cy="180.8" r="0.7" opacity="0.6"/>
<circle cx="345.8" cy="179" r="0.7" opacity="0.6"/>
<circle cx="355.3" cy="180.8" r="0.8" opacity="0.6"/>
<circle cx="352.5" cy="176.2" r="0.8" opacity="0.6"/>
<circle cx="354.7" cy="181.7" r="0.6" opacity="0.6"/>
<circle cx="352.3" cy="183.1" r="0.6" opacity="0.6"/>
<circle cx="347.1" cy="179.4" r="0.8" opacity="0.6"/>
<circle cx="353.1" cy="176.2" r="0.6" opacity="0.6"/>
<circle cx="345.4" cy="172.6" r="0.8" opacity="0.6"/>
<circle cx="355.4" cy="181" r="0.7" opacity="0.6"/>
<circle cx="353.8" cy="177.3" r="0.6" opacity="0.6"/>
<circle cx="353.3" cy="176.5" r="0.8" opacity="0.6"/>
<circle cx="349.4" cy="172.1" r="0.6" opacity="0.6"/>
<circle cx="349.4" cy="182.2" r="0.9" opacity="0.6"/>
<circle cx="357.4" cy="174.7" r="1" opacity="0.6"/>
<circle cx="355.2" cy="174.1" r="0.8" opacity="0.6"/>
<circle cx="348.6" cy="182.1" r="0.6" opacity="0.6"/>
<circle cx="347" cy="181.4" r="0.8" opacity="0.6"/>
<circle cx="354.7" cy="171.1" r="0.6" opacity="0.6"/>
<circle cx="346.4" cy="177.2" r="0.9" opacity="0.6"/>
<circle cx="353.7" cy="170.1" r="0.9" opacity="0.6"/>
<circle cx="353.4" cy="169.8" r="1" opacity="0.6"/>
<circle cx="350.5" cy="177.8" r="0.6" opacity="0.6"/>
<circle cx="346.9" cy="181.1" r="0.8" opacity="0.6"/>
<circle cx="347" cy="178.1" r="0.9" opacity="0.6"/>
<circle cx="351.9" cy="172.8" r="0.8" opacity="0.6"/>
<circle cx="346.7" cy="176.4" r="0.6" opacity="0.6"/>
<circle cx="351.4" cy="173" r="0.9" opacity="0.6"/>
<circle cx="347.4" cy="172.6" r="0.7" opacity="0.6"/>
<circle cx="349.4" cy="175.4" r="0.6" opacity="0.6"/>
<circle cx="352.2" cy="177.8" r="0.6" opacity="0.6"/>
<circle cx="355.3" cy="177.7" r="0.9" opacity="0.6"/>
<circle cx="355.3" cy="173.8" r="0.6" opacity="0.6"/>
<circle cx="353.4" cy="175.8" r="0.8" opacity="0.6"/>
<circle cx="345.4" cy="174.5" r="0.9" opacity="0.6"/>
<circle cx="352.7" cy="172.4" r="0.6" opacity="0.6"/>
<circle cx="353.4" cy="181.7" r="0.7" opacity="0.6"/>
</g>
<g stroke="#8ca785" stroke-width="1" fill="none">
<path d="M357 191V174.7"/>
</g><g stroke="#8aa582" stroke-width="0.55" fill="none" opacity="0.9">
<path d="M357 176.5L350.6 174.2"/>
<path d="M357 176.5L352.2 172.3"/>
<path d="M357 176.5L352.8 170"/>
<path d="M357 176.5L354.6 167.2"/>
<path d="M357 176.5L357.1 168.4"/>
<path d="M357 176.5L359.3 167.4"/>
<path d="M357 176.5L362.5 169.3"/>
<path d="M357 176.5L362.5 171.8"/>
<path d="M357 176.5L362.7 175.2"/>
</g>
<g fill="#7d9b75">
<ellipse cx="357" cy="171" rx="6.1" ry="6.8" opacity="0.22"/>
<circle cx="357.1" cy="167" r="0.8" opacity="0.6"/>
<circle cx="353.8" cy="167.9" r="1" opacity="0.6"/>
<circle cx="359.6" cy="168.9" r="0.9" opacity="0.6"/>
<circle cx="358.1" cy="177.2" r="0.9" opacity="0.6"/>
<circle cx="357" cy="167" r="0.8" opacity="0.6"/>
<circle cx="354" cy="169.8" r="0.6" opacity="0.6"/>
<circle cx="354.2" cy="177.6" r="1" opacity="0.6"/>
<circle cx="362.7" cy="170" r="0.6" opacity="0.6"/>
<circle cx="352" cy="172.6" r="1" opacity="0.6"/>
<circle cx="353.4" cy="167.4" r="0.7" opacity="0.6"/>
<circle cx="353.9" cy="168.1" r="0.9" opacity="0.6"/>
<circle cx="356.2" cy="169.4" r="0.7" opacity="0.6"/>
<circle cx="360.4" cy="165.3" r="0.6" opacity="0.6"/>
<circle cx="359.3" cy="171.7" r="0.9" opacity="0.6"/>
<circle cx="356.4" cy="165.1" r="0.8" opacity="0.6"/>
<circle cx="355.5" cy="174.2" r="0.8" opacity="0.6"/>
<circle cx="359.3" cy="173.5" r="0.7" opacity="0.6"/>
<circle cx="353.3" cy="165.2" r="0.7" opacity="0.6"/>
<circle cx="355.2" cy="173.3" r="0.6" opacity="0.6"/>
<circle cx="358.7" cy="174.9" r="0.8" opacity="0.6"/>
<circle cx="360.3" cy="168.6" r="0.9" opacity="0.6"/>
<circle cx="357.7" cy="175.6" r="0.6" opacity="0.6"/>
<circle cx="359" cy="167.8" r="0.6" opacity="0.6"/>
<circle cx="357.9" cy="174.6" r="0.9" opacity="0.6"/>
<circle cx="359.1" cy="175.4" r="0.8" opacity="0.6"/>
<circle cx="360.9" cy="171" r="0.9" opacity="0.6"/>
<circle cx="359.4" cy="171.7" r="1" opacity="0.6"/>
<circle cx="353.2" cy="165.8" r="1" opacity="0.6"/>
<circle cx="354.2" cy="175.3" r="0.9" opacity="0.6"/>
<circle cx="359.4" cy="167.1" r="0.9" opacity="0.6"/>
<circle cx="354.2" cy="167.8" r="0.6" opacity="0.6"/>
<circle cx="351.8" cy="168.1" r="1" opacity="0.6"/>
<circle cx="351.3" cy="171.5" r="0.7" opacity="0.6"/>
<circle cx="359.1" cy="175.6" r="1" opacity="0.6"/>
<circle cx="355.9" cy="164.6" r="0.7" opacity="0.6"/>
<circle cx="359.6" cy="168.8" r="0.9" opacity="0.6"/>
<circle cx="355.2" cy="163.9" r="0.6" opacity="0.6"/>
<circle cx="360.6" cy="175.6" r="0.8" opacity="0.6"/>
<circle cx="360.5" cy="168.7" r="1" opacity="0.6"/>
<circle cx="359.5" cy="164.7" r="0.7" opacity="0.6"/>
<circle cx="354.8" cy="171.6" r="0.7" opacity="0.6"/>
<circle cx="356.6" cy="173.7" r="0.7" opacity="0.6"/>
<circle cx="351.7" cy="167.5" r="0.6" opacity="0.6"/>
<circle cx="357" cy="163.6" r="0.8" opacity="0.6"/>
<circle cx="358.6" cy="174.5" r="1" opacity="0.6"/>
<circle cx="351.5" cy="169.3" r="0.6" opacity="0.6"/>
</g>
<polygon points="267.4,251.7 269.8,250.2 277.4,256.2 275.1,257.7" fill="#abc5a3" stroke="#c4d6be" stroke-width="0.4" stroke-linejoin="round"/>
<polygon points="272.6,248.1 274.9,246.6 282.6,252.6 280.2,254.1" fill="#abc5a3" stroke="#c4d6be" stroke-width="0.4" stroke-linejoin="round"/>
<polygon points="278.9,259.7 281.2,258.2 288.9,264.2 286.6,265.7" fill="#abc5a3" stroke="#c4d6be" stroke-width="0.4" stroke-linejoin="round"/>
<polygon points="284.2,256 286.6,254.5 294.2,260.5 291.9,262" fill="#abc5a3" stroke="#c4d6be" stroke-width="0.4" stroke-linejoin="round"/>
<polygon points="289.5,252.3 291.8,250.8 299.4,256.8 297.1,258.3" fill="#abc5a3" stroke="#c4d6be" stroke-width="0.4" stroke-linejoin="round"/>
<polygon points="278.4,245.5 280.8,244 288.4,250 286.1,251.5" fill="#abc5a3" stroke="#c4d6be" stroke-width="0.4" stroke-linejoin="round"/>
<g fill="#5a5a5a"><circle cx="204" cy="287.5" r="0.6"/><rect x="203.3" y="288.1" width="1.5" height="2.9" rx="0.4"/></g>
<g fill="#5a5a5a"><circle cx="211" cy="284.5" r="0.6"/><rect x="210.3" y="285.1" width="1.5" height="2.9" rx="0.4"/></g>
<g fill="#5a5a5a"><circle cx="276.5" cy="242.5" r="0.6"/><rect x="275.8" y="243.1" width="1.5" height="2.9" rx="0.4"/></g>
<g fill="#5a5a5a"><circle cx="291" cy="223" r="0.6"/><rect x="290.3" y="223.6" width="1.5" height="2.9" rx="0.4"/></g>
<g fill="#5a5a5a"><circle cx="327" cy="192.5" r="0.6"/><rect x="326.3" y="193.1" width="1.5" height="2.9" rx="0.4"/></g>
<g fill="#5a5a5a"><circle cx="267" cy="242.5" r="0.6"/><rect x="266.3" y="243.1" width="1.5" height="2.9" rx="0.4"/></g>
<polygon points="365,170.7 373,177.1 373,185.1 365,178.7" fill="#8d7a7e" stroke="#fff" stroke-width="0.9" stroke-linejoin="round"/>
<polygon points="373,177.1 401,158.8 401,166.8 373,185.1" fill="#8d7a7e" stroke="#fff" stroke-width="0.9" stroke-linejoin="round"/>
<polygon points="365,170.7 393,152.4 401,158.8 373,177.1" fill="#b4a6a7" stroke="#fff" stroke-width="0.9" stroke-linejoin="round"/>
<polygon points="380.8,164 413.8,190.2 413.8,217.2 380.8,191" fill="#8d7a7e" stroke="#fff" stroke-width="0.9" stroke-linejoin="round"/>
<polygon points="413.8,190.2 441.5,172.2 441.5,190.2 413.8,208.2" fill="#8d7a7e" stroke="#fff" stroke-width="0.9" stroke-linejoin="round"/>
<polygon points="380.8,164 408.5,145.9 441.5,172.2 413.8,190.2" fill="#b4a6a7" stroke="#fff" stroke-width="0.9" stroke-linejoin="round"/>
<line x1="380.8" y1="168.5" x2="413.8" y2="194.7" stroke="#fff" stroke-width="0.9"/>
<line x1="413.8" y1="194.7" x2="441.5" y2="176.7" stroke="#fff" stroke-width="0.9"/>
<line x1="380.8" y1="173" x2="413.8" y2="199.2" stroke="#fff" stroke-width="0.9"/>
<line x1="413.8" y1="199.2" x2="441.5" y2="181.2" stroke="#fff" stroke-width="0.9"/>
<line x1="380.8" y1="177.5" x2="413.8" y2="203.7" stroke="#fff" stroke-width="0.9"/>
<line x1="413.8" y1="203.7" x2="441.5" y2="185.7" stroke="#fff" stroke-width="0.9"/>
<line x1="380.8" y1="182" x2="413.8" y2="208.2" stroke="#fff" stroke-width="0.9"/>
<line x1="380.8" y1="186.5" x2="413.8" y2="212.7" stroke="#fff" stroke-width="0.9"/>
<line x1="413.4" y1="208.2" x2="413.4" y2="217.2" stroke="#dcc8ca" stroke-width="1.1"/>
<line x1="422.6" y1="202.2" x2="422.6" y2="211.2" stroke="#dcc8ca" stroke-width="1.1"/>
<line x1="431.9" y1="196.2" x2="431.9" y2="205.2" stroke="#dcc8ca" stroke-width="1.1"/>
<line x1="441.1" y1="190.2" x2="441.1" y2="199.2" stroke="#dcc8ca" stroke-width="1.1"/>
<polygon points="359.9,186.7 380.6,203.2 380.6,231.2 359.9,214.7" fill="#8d7a7e" stroke="#fff" stroke-width="0.9" stroke-linejoin="round"/>
<polygon points="380.6,203.2 399.2,191 399.2,209.6 380.6,221.8" fill="#8d7a7e" stroke="#fff" stroke-width="0.9" stroke-linejoin="round"/>
<polygon points="359.9,186.7 378.5,174.6 399.2,191 380.6,203.2" fill="#b4a6a7" stroke="#fff" stroke-width="0.9" stroke-linejoin="round"/>
<line x1="359.9" y1="191.3" x2="380.6" y2="207.8" stroke="#fff" stroke-width="0.9"/>
<line x1="380.6" y1="207.8" x2="399.2" y2="195.7" stroke="#fff" stroke-width="0.9"/>
<line x1="359.9" y1="196" x2="380.6" y2="212.5" stroke="#fff" stroke-width="0.9"/>
<line x1="380.6" y1="212.5" x2="399.2" y2="200.3" stroke="#fff" stroke-width="0.9"/>
<line x1="359.9" y1="200.6" x2="380.6" y2="217.1" stroke="#fff" stroke-width="0.9"/>
<line x1="380.6" y1="217.1" x2="399.2" y2="205" stroke="#fff" stroke-width="0.9"/>
<line x1="359.9" y1="205.3" x2="380.6" y2="221.8" stroke="#fff" stroke-width="0.9"/>
<line x1="359.9" y1="209.9" x2="380.6" y2="226.4" stroke="#fff" stroke-width="0.9"/>
<line x1="380.2" y1="221.8" x2="380.2" y2="231.2" stroke="#dcc8ca" stroke-width="1.1"/>
<line x1="389.5" y1="215.7" x2="389.5" y2="225.1" stroke="#dcc8ca" stroke-width="1.1"/>
<line x1="398.8" y1="209.6" x2="398.8" y2="219" stroke="#dcc8ca" stroke-width="1.1"/>
<polygon points="340.5,199.3 361.2,215.8 361.2,243.8 340.5,227.3" fill="#8d7a7e" stroke="#fff" stroke-width="0.9" stroke-linejoin="round"/>
<polygon points="361.2,215.8 380.6,203.2 380.6,221.8 361.2,234.4" fill="#8d7a7e" stroke="#fff" stroke-width="0.9" stroke-linejoin="round"/>
<polygon points="340.5,199.3 359.9,186.7 380.6,203.2 361.2,215.8" fill="#b4a6a7" stroke="#fff" stroke-width="0.9" stroke-linejoin="round"/>
<line x1="340.5" y1="204" x2="361.2" y2="220.5" stroke="#fff" stroke-width="0.9"/>
<line x1="361.2" y1="220.5" x2="380.6" y2="207.8" stroke="#fff" stroke-width="0.9"/>
<line x1="340.5" y1="208.6" x2="361.2" y2="225.1" stroke="#fff" stroke-width="0.9"/>
<line x1="361.2" y1="225.1" x2="380.6" y2="212.5" stroke="#fff" stroke-width="0.9"/>
<line x1="340.5" y1="213.3" x2="361.2" y2="229.8" stroke="#fff" stroke-width="0.9"/>
<line x1="361.2" y1="229.8" x2="380.6" y2="217.1" stroke="#fff" stroke-width="0.9"/>
<line x1="340.5" y1="217.9" x2="361.2" y2="234.4" stroke="#fff" stroke-width="0.9"/>
<line x1="340.5" y1="222.6" x2="361.2" y2="239.1" stroke="#fff" stroke-width="0.9"/>
<line x1="360.8" y1="234.4" x2="360.8" y2="243.8" stroke="#dcc8ca" stroke-width="1.1"/>
<line x1="370.5" y1="228.1" x2="370.5" y2="237.5" stroke="#dcc8ca" stroke-width="1.1"/>
<line x1="380.2" y1="221.8" x2="380.2" y2="231.2" stroke="#dcc8ca" stroke-width="1.1"/>
<polygon points="328.5,207.2 349.2,223.6 349.2,251.6 328.5,235.2" fill="#8d7a7e" stroke="#fff" stroke-width="0.9" stroke-linejoin="round"/>
<polygon points="349.2,223.6 361.2,215.8 361.2,234.4 349.2,242.2" fill="#8d7a7e" stroke="#fff" stroke-width="0.9" stroke-linejoin="round"/>
<polygon points="328.5,207.2 340.5,199.3 361.2,215.8 349.2,223.6" fill="#b4a6a7" stroke="#fff" stroke-width="0.9" stroke-linejoin="round"/>
<line x1="328.5" y1="211.8" x2="349.2" y2="228.3" stroke="#fff" stroke-width="0.9"/>
<line x1="349.2" y1="228.3" x2="361.2" y2="220.5" stroke="#fff" stroke-width="0.9"/>
<line x1="328.5" y1="216.5" x2="349.2" y2="232.9" stroke="#fff" stroke-width="0.9"/>
<line x1="349.2" y1="232.9" x2="361.2" y2="225.1" stroke="#fff" stroke-width="0.9"/>
<line x1="328.5" y1="221.1" x2="349.2" y2="237.6" stroke="#fff" stroke-width="0.9"/>
<line x1="349.2" y1="237.6" x2="361.2" y2="229.8" stroke="#fff" stroke-width="0.9"/>
<line x1="328.5" y1="225.8" x2="349.2" y2="242.2" stroke="#fff" stroke-width="0.9"/>
<line x1="328.5" y1="230.4" x2="349.2" y2="246.9" stroke="#fff" stroke-width="0.9"/>
<line x1="348.8" y1="242.2" x2="348.8" y2="251.6" stroke="#dcc8ca" stroke-width="1.1"/>
<line x1="354.8" y1="238.3" x2="354.8" y2="247.7" stroke="#dcc8ca" stroke-width="1.1"/>
<line x1="360.8" y1="234.4" x2="360.8" y2="243.8" stroke="#dcc8ca" stroke-width="1.1"/>
<polygon points="296,220.4 322.2,241.2 322.2,269.2 296,248.4" fill="#8d7a7e" stroke="#fff" stroke-width="0.9" stroke-linejoin="round"/>
<polygon points="322.2,241.2 349.2,223.6 349.2,242.2 322.2,259.8" fill="#8d7a7e" stroke="#fff" stroke-width="0.9" stroke-linejoin="round"/>
<polygon points="296,220.4 323,202.8 349.2,223.6 322.2,241.2" fill="#b4a6a7" stroke="#fff" stroke-width="0.9" stroke-linejoin="round"/>
<line x1="296" y1="225.1" x2="322.2" y2="245.9" stroke="#fff" stroke-width="0.9"/>
<line x1="322.2" y1="245.9" x2="349.2" y2="228.3" stroke="#fff" stroke-width="0.9"/>
<line x1="296" y1="229.7" x2="322.2" y2="250.5" stroke="#fff" stroke-width="0.9"/>
<line x1="322.2" y1="250.5" x2="349.2" y2="232.9" stroke="#fff" stroke-width="0.9"/>
<line x1="296" y1="234.3" x2="322.2" y2="255.2" stroke="#fff" stroke-width="0.9"/>
<line x1="322.2" y1="255.2" x2="349.2" y2="237.6" stroke="#fff" stroke-width="0.9"/>
<line x1="296" y1="239" x2="322.2" y2="259.8" stroke="#fff" stroke-width="0.9"/>
<line x1="296" y1="243.7" x2="322.2" y2="264.5" stroke="#fff" stroke-width="0.9"/>
<line x1="321.8" y1="259.8" x2="321.8" y2="269.2" stroke="#dcc8ca" stroke-width="1.1"/>
<line x1="335.3" y1="251" x2="335.3" y2="260.4" stroke="#dcc8ca" stroke-width="1.1"/>
<line x1="348.8" y1="242.2" x2="348.8" y2="251.6" stroke="#dcc8ca" stroke-width="1.1"/>
<polygon points="250.6,263 270.9,279.1 270.9,295.1 250.6,279" fill="#8d7a7e" stroke="#fff" stroke-width="0.9" stroke-linejoin="round"/>
<polygon points="270.9,279.1 282.1,271.8 282.1,284.8 270.9,292.1" fill="#8d7a7e" stroke="#fff" stroke-width="0.9" stroke-linejoin="round"/>
<polygon points="250.6,263 261.8,255.7 282.1,271.8 270.9,279.1" fill="#b4a6a7" stroke="#fff" stroke-width="0.9" stroke-linejoin="round"/>
<line x1="250.6" y1="267.4" x2="270.9" y2="283.5" stroke="#fff" stroke-width="0.9"/>
<line x1="270.9" y1="283.5" x2="282.1" y2="276.2" stroke="#fff" stroke-width="0.9"/>
<line x1="250.6" y1="271.8" x2="270.9" y2="287.9" stroke="#fff" stroke-width="0.9"/>
<line x1="270.9" y1="287.9" x2="282.1" y2="280.6" stroke="#fff" stroke-width="0.9"/>
<line x1="250.6" y1="276.2" x2="270.9" y2="292.3" stroke="#fff" stroke-width="0.9"/>
<polygon points="213.2,274.6 245.2,300 245.2,326 213.2,300.6" fill="#8d7a7e" stroke="#fff" stroke-width="0.9" stroke-linejoin="round"/>
<polygon points="245.2,300 272.2,282.4 272.2,299.9 245.2,317.5" fill="#8d7a7e" stroke="#fff" stroke-width="0.9" stroke-linejoin="round"/>
<polygon points="213.2,274.6 240.2,257 272.2,282.4 245.2,300" fill="#b4a6a7" stroke="#fff" stroke-width="0.9" stroke-linejoin="round"/>
<line x1="213.2" y1="279" x2="245.2" y2="304.4" stroke="#fff" stroke-width="0.9"/>
<line x1="245.2" y1="304.4" x2="272.2" y2="286.8" stroke="#fff" stroke-width="0.9"/>
<line x1="213.2" y1="283.4" x2="245.2" y2="308.8" stroke="#fff" stroke-width="0.9"/>
<line x1="245.2" y1="308.8" x2="272.2" y2="291.2" stroke="#fff" stroke-width="0.9"/>
<line x1="213.2" y1="287.8" x2="245.2" y2="313.2" stroke="#fff" stroke-width="0.9"/>
<line x1="245.2" y1="313.2" x2="272.2" y2="295.6" stroke="#fff" stroke-width="0.9"/>
<line x1="213.2" y1="292.2" x2="245.2" y2="317.6" stroke="#fff" stroke-width="0.9"/>
<line x1="213.2" y1="296.6" x2="245.2" y2="322" stroke="#fff" stroke-width="0.9"/>
<line x1="244.8" y1="317.5" x2="244.8" y2="326" stroke="#dcc8ca" stroke-width="1.1"/>
<line x1="253.8" y1="311.7" x2="253.8" y2="320.2" stroke="#dcc8ca" stroke-width="1.1"/>
<line x1="262.8" y1="305.8" x2="262.8" y2="314.3" stroke="#dcc8ca" stroke-width="1.1"/>
<line x1="271.8" y1="299.9" x2="271.8" y2="308.4" stroke="#dcc8ca" stroke-width="1.1"/>
<polygon points="138.2,270 192.7,313.3 192.7,321.5 138.2,278.2" fill="#8d7a7e" stroke="#fff" stroke-width="0.9" stroke-linejoin="round"/>
<polygon points="192.7,313.3 209.7,302.2 209.7,310.4 192.7,321.5" fill="#8d7a7e" stroke="#fff" stroke-width="0.9" stroke-linejoin="round"/>
<polygon points="138.2,270 155.2,258.9 209.7,302.2 192.7,313.3" fill="#b4a6a7" stroke="#fff" stroke-width="0.9" stroke-linejoin="round"/>
<line x1="138.2" y1="274.1" x2="192.7" y2="317.4" stroke="#fff" stroke-width="0.9"/>
<line x1="192.7" y1="317.4" x2="209.7" y2="306.3" stroke="#fff" stroke-width="0.9"/>
<polygon points="148.7,272.5 193.9,308.4 193.9,320.7 148.7,284.8" fill="#8d7a7e" stroke="#fff" stroke-width="0.9" stroke-linejoin="round"/>
<line x1="148.7" y1="276.6" x2="193.9" y2="312.5" stroke="#fff" stroke-width="0.9"/>
<line x1="148.7" y1="280.7" x2="193.9" y2="316.6" stroke="#fff" stroke-width="0.9"/>
<polygon points="193.9,308.4 200.7,304 200.7,316.3 193.9,320.7" fill="#8d7a7e" stroke="#fff" stroke-width="0.9" stroke-linejoin="round"/>
<line x1="193.9" y1="312.5" x2="200.7" y2="308.1" stroke="#fff" stroke-width="0.9"/>
<line x1="193.9" y1="316.6" x2="200.7" y2="312.2" stroke="#fff" stroke-width="0.9"/>
<polygon points="200.7,304 213.3,314 213.3,326.3 200.7,316.3" fill="#8d7a7e" stroke="#fff" stroke-width="0.9" stroke-linejoin="round"/>
<line x1="200.7" y1="308.1" x2="213.3" y2="318.1" stroke="#fff" stroke-width="0.9"/>
<line x1="200.7" y1="312.2" x2="213.3" y2="322.2" stroke="#fff" stroke-width="0.9"/>
<polygon points="213.3,314 231.7,302 231.7,314.3 213.3,326.3" fill="#8d7a7e" stroke="#fff" stroke-width="0.9" stroke-linejoin="round"/>
<line x1="213.3" y1="318.1" x2="231.7" y2="306.1" stroke="#fff" stroke-width="0.9"/>
<line x1="213.3" y1="322.2" x2="231.7" y2="310.2" stroke="#fff" stroke-width="0.9"/>
<polygon points="148.7,272.5 193.9,308.4 200.7,304 213.3,314 231.7,302 212.3,286.6 202.9,292.7 164.5,262.2" fill="#b4a6a7" stroke="#fff" stroke-width="0.9" stroke-linejoin="round"/>
<polygon points="445,236 550,318 577,301 592,318 585,352 556,349 531,366 500,338 452,300 457,262" fill="#e5e9e3"/>
<polygon points="313.7,419.3 384,373 384.9,352 404.5,340 412.6,343 440,325 472,350 476,384 500,381 384,457 374.4,479" fill="#fdf7e4"/>
<polygon points="444.8,215.6 549.8,299.1 549.8,324.1 444.8,240.6" fill="#98aa92" stroke="#fff" stroke-width="0.9" stroke-linejoin="round"/>
<polygon points="549.8,299.1 576,282 576,301.5 549.8,318.6" fill="#98aa92" stroke="#fff" stroke-width="0.9" stroke-linejoin="round"/>
<polygon points="444.8,215.6 471.1,198.5 576,282 549.8,299.1" fill="#bac5b3" stroke="#fff" stroke-width="0.9" stroke-linejoin="round"/>
<line x1="444.8" y1="220.5" x2="549.8" y2="304" stroke="#fff" stroke-width="0.9"/>
<line x1="549.8" y1="304" x2="576" y2="286.9" stroke="#fff" stroke-width="0.9"/>
<line x1="444.8" y1="225.4" x2="549.8" y2="308.9" stroke="#fff" stroke-width="0.9"/>
<line x1="549.8" y1="308.9" x2="576" y2="291.8" stroke="#fff" stroke-width="0.9"/>
<line x1="444.8" y1="230.3" x2="549.8" y2="313.8" stroke="#fff" stroke-width="0.9"/>
<line x1="549.8" y1="313.8" x2="576" y2="296.7" stroke="#fff" stroke-width="0.9"/>
<line x1="444.8" y1="235.2" x2="549.8" y2="318.7" stroke="#fff" stroke-width="0.9"/>
<polygon points="444.3,235.5 456.9,245.5 456.9,251.3 444.3,241.3" fill="#f3f6f8"/>
<line x1="444.8" y1="235.5" x2="444.8" y2="241" stroke="#b9c6b3" stroke-width="1.2"/>
<polygon points="537,307.8 550.4,318.5 550.4,324.4 537,313.7" fill="#e5e9e3"/>
<g stroke="#8ca785" stroke-width="1" fill="none">
<path d="M412.5 220V203.9"/>
</g><g stroke="#8aa582" stroke-width="0.55" fill="none" opacity="0.9">
<path d="M412.5 205.9L406.2 203.8"/>
<path d="M412.5 205.9L407.2 202"/>
<path d="M412.5 205.9L406.7 196.3"/>
<path d="M412.5 205.9L410.2 196.2"/>
<path d="M412.5 205.9L412 195.7"/>
<path d="M412.5 205.9L414.8 197.4"/>
<path d="M412.5 205.9L417.5 198.7"/>
<path d="M412.5 205.9L418.3 201.5"/>
<path d="M412.5 205.9L418.6 203.9"/>
</g>
<g fill="#7d9b75">
<ellipse cx="412.5" cy="200" rx="6.4" ry="7.2" opacity="0.22"/>
<circle cx="414" cy="207.5" r="0.8" opacity="0.6"/>
<circle cx="410.4" cy="194.7" r="0.6" opacity="0.6"/>
<circle cx="410.6" cy="196.3" r="0.6" opacity="0.6"/>
<circle cx="412.1" cy="192.3" r="0.9" opacity="0.6"/>
<circle cx="413.8" cy="196.8" r="0.9" opacity="0.6"/>
<circle cx="412.1" cy="203.9" r="1" opacity="0.6"/>
<circle cx="418.5" cy="198.6" r="1" opacity="0.6"/>
<circle cx="415" cy="195" r="0.7" opacity="0.6"/>
<circle cx="411.1" cy="192.4" r="0.9" opacity="0.6"/>
<circle cx="416.1" cy="205.2" r="0.7" opacity="0.6"/>
<circle cx="416.1" cy="200.5" r="0.8" opacity="0.6"/>
<circle cx="416.2" cy="201.6" r="0.7" opacity="0.6"/>
<circle cx="413.5" cy="198.8" r="0.8" opacity="0.6"/>
<circle cx="409.2" cy="204.1" r="0.7" opacity="0.6"/>
<circle cx="419.2" cy="200.6" r="0.8" opacity="0.6"/>
<circle cx="411.5" cy="195.8" r="0.9" opacity="0.6"/>
<circle cx="416.7" cy="196.6" r="1" opacity="0.6"/>
<circle cx="409" cy="204.8" r="1" opacity="0.6"/>
<circle cx="418.7" cy="200.1" r="0.7" opacity="0.6"/>
<circle cx="416.6" cy="196.9" r="0.9" opacity="0.6"/>
<circle cx="413.3" cy="192.7" r="0.7" opacity="0.6"/>
<circle cx="410.2" cy="200.5" r="0.6" opacity="0.6"/>
<circle cx="417.6" cy="201.8" r="0.7" opacity="0.6"/>
<circle cx="410.7" cy="206.6" r="0.7" opacity="0.6"/>
<circle cx="418.6" cy="200.5" r="0.6" opacity="0.6"/>
<circle cx="410.5" cy="204.3" r="1" opacity="0.6"/>
<circle cx="418.1" cy="200.4" r="0.6" opacity="0.6"/>
<circle cx="419.1" cy="199.1" r="0.8" opacity="0.6"/>
<circle cx="415.5" cy="194.5" r="0.9" opacity="0.6"/>
<circle cx="409" cy="204.5" r="0.9" opacity="0.6"/>
<circle cx="415.2" cy="207.1" r="0.7" opacity="0.6"/>
<circle cx="417.5" cy="201.5" r="0.9" opacity="0.6"/>
<circle cx="415.1" cy="206.7" r="0.7" opacity="0.6"/>
<circle cx="407.9" cy="198.8" r="0.9" opacity="0.6"/>
<circle cx="409.3" cy="196.6" r="0.7" opacity="0.6"/>
<circle cx="417.4" cy="201.5" r="0.9" opacity="0.6"/>
<circle cx="410" cy="204.1" r="0.9" opacity="0.6"/>
<circle cx="407.1" cy="199.6" r="0.8" opacity="0.6"/>
<circle cx="410.6" cy="205.5" r="0.7" opacity="0.6"/>
<circle cx="417" cy="204.8" r="0.9" opacity="0.6"/>
<circle cx="413.7" cy="195.3" r="1" opacity="0.6"/>
<circle cx="408.5" cy="204.9" r="0.6" opacity="0.6"/>
<circle cx="417.9" cy="196.3" r="0.8" opacity="0.6"/>
<circle cx="412.4" cy="194.8" r="0.6" opacity="0.6"/>
<circle cx="411.6" cy="203.6" r="1" opacity="0.6"/>
<circle cx="416.3" cy="204.6" r="0.8" opacity="0.6"/>
</g>
<g stroke="#8ca785" stroke-width="1" fill="none">
<path d="M401 228.7V212.6"/>
</g><g stroke="#8aa582" stroke-width="0.55" fill="none" opacity="0.9">
<path d="M401 214.6L393.6 211.9"/>
<path d="M401 214.6L394.3 210"/>
<path d="M401 214.6L395.5 207.6"/>
<path d="M401 214.6L398.2 206.6"/>
<path d="M401 214.6L400.9 205.3"/>
<path d="M401 214.6L404.2 205"/>
<path d="M401 214.6L406.5 206.4"/>
<path d="M401 214.6L406.9 209.4"/>
<path d="M401 214.6L407.2 213.1"/>
</g>
<g fill="#7d9b75">
<ellipse cx="401" cy="208.7" rx="6.4" ry="7.2" opacity="0.22"/>
<circle cx="397.6" cy="212.1" r="0.9" opacity="0.6"/>
<circle cx="401.5" cy="204.8" r="0.8" opacity="0.6"/>
<circle cx="402.4" cy="204.5" r="0.8" opacity="0.6"/>
<circle cx="400.4" cy="207.3" r="0.9" opacity="0.6"/>
<circle cx="401.6" cy="202" r="0.8" opacity="0.6"/>
<circle cx="403.1" cy="205.5" r="0.7" opacity="0.6"/>
<circle cx="404.3" cy="212.6" r="0.9" opacity="0.6"/>
<circle cx="399.4" cy="212.9" r="0.8" opacity="0.6"/>
<circle cx="394.7" cy="211" r="0.7" opacity="0.6"/>
<circle cx="398.8" cy="213.6" r="0.8" opacity="0.6"/>
<circle cx="401.6" cy="214.8" r="0.6" opacity="0.6"/>
<circle cx="402.5" cy="215.6" r="0.8" opacity="0.6"/>
<circle cx="400.8" cy="204.8" r="0.8" opacity="0.6"/>
<circle cx="397.9" cy="204.7" r="0.7" opacity="0.6"/>
<circle cx="396.3" cy="210.8" r="0.7" opacity="0.6"/>
<circle cx="405.5" cy="208.5" r="0.6" opacity="0.6"/>
<circle cx="396.4" cy="212.5" r="0.6" opacity="0.6"/>
<circle cx="397.2" cy="205.1" r="0.9" opacity="0.6"/>
<circle cx="396.4" cy="211.5" r="0.9" opacity="0.6"/>
<circle cx="396.4" cy="209.6" r="0.8" opacity="0.6"/>
<circle cx="403.3" cy="213.5" r="0.7" opacity="0.6"/>
<circle cx="400" cy="205.7" r="0.8" opacity="0.6"/>
<circle cx="395.7" cy="208.8" r="0.9" opacity="0.6"/>
<circle cx="397.7" cy="208.5" r="0.7" opacity="0.6"/>
<circle cx="402.9" cy="212.9" r="0.8" opacity="0.6"/>
<circle cx="404.1" cy="215.6" r="0.7" opacity="0.6"/>
<circle cx="405.2" cy="214.5" r="0.6" opacity="0.6"/>
<circle cx="397.2" cy="208.5" r="0.6" opacity="0.6"/>
<circle cx="405.5" cy="212.3" r="0.8" opacity="0.6"/>
<circle cx="397.6" cy="211.7" r="1" opacity="0.6"/>
<circle cx="406.6" cy="209.8" r="0.7" opacity="0.6"/>
<circle cx="405.5" cy="205.9" r="0.6" opacity="0.6"/>
<circle cx="404.1" cy="202.6" r="1" opacity="0.6"/>
<circle cx="399.7" cy="209.2" r="0.9" opacity="0.6"/>
<circle cx="402.8" cy="205.5" r="0.6" opacity="0.6"/>
<circle cx="395.2" cy="211.6" r="0.6" opacity="0.6"/>
<circle cx="399.3" cy="211.3" r="0.8" opacity="0.6"/>
<circle cx="400.2" cy="207.5" r="0.6" opacity="0.6"/>
<circle cx="399.2" cy="214.5" r="0.9" opacity="0.6"/>
<circle cx="396.7" cy="207.4" r="0.9" opacity="0.6"/>
<circle cx="396.1" cy="207.9" r="0.6" opacity="0.6"/>
<circle cx="398.5" cy="207" r="1" opacity="0.6"/>
<circle cx="404.1" cy="204.3" r="0.8" opacity="0.6"/>
<circle cx="399.6" cy="208.5" r="0.8" opacity="0.6"/>
<circle cx="398.1" cy="214.6" r="0.9" opacity="0.6"/>
<circle cx="398.4" cy="213.7" r="0.7" opacity="0.6"/>
</g>
<g stroke="#8ca785" stroke-width="1" fill="none">
<path d="M380 237.5V221.4"/>
</g><g stroke="#8aa582" stroke-width="0.55" fill="none" opacity="0.9">
<path d="M380 223.4L372.3 221.9"/>
<path d="M380 223.4L373.4 218"/>
<path d="M380 223.4L373.9 215.1"/>
<path d="M380 223.4L377.4 214.5"/>
<path d="M380 223.4L380.2 214.3"/>
<path d="M380 223.4L383.2 213"/>
<path d="M380 223.4L384.6 215.6"/>
<path d="M380 223.4L385.4 219.6"/>
<path d="M380 223.4L387 220.9"/>
</g>
<g fill="#7d9b75">
<ellipse cx="380" cy="217.5" rx="6.4" ry="7.2" opacity="0.22"/>
<circle cx="386.7" cy="217" r="0.7" opacity="0.6"/>
<circle cx="379.2" cy="215.6" r="0.6" opacity="0.6"/>
<circle cx="378.2" cy="215.9" r="0.7" opacity="0.6"/>
<circle cx="380.9" cy="213.9" r="0.8" opacity="0.6"/>
<circle cx="381.4" cy="214.4" r="0.8" opacity="0.6"/>
<circle cx="376.2" cy="220.9" r="0.6" opacity="0.6"/>
<circle cx="374.5" cy="217.4" r="0.7" opacity="0.6"/>
<circle cx="375" cy="218.9" r="1" opacity="0.6"/>
<circle cx="385.7" cy="221.9" r="0.6" opacity="0.6"/>
<circle cx="380.5" cy="212.4" r="0.7" opacity="0.6"/>
<circle cx="379.6" cy="218.9" r="0.6" opacity="0.6"/>
<circle cx="381.2" cy="220.7" r="0.6" opacity="0.6"/>
<circle cx="381.1" cy="211.2" r="0.9" opacity="0.6"/>
<circle cx="386.9" cy="216.3" r="0.9" opacity="0.6"/>
<circle cx="379.1" cy="212.6" r="0.7" opacity="0.6"/>
<circle cx="379.3" cy="222" r="0.8" opacity="0.6"/>
<circle cx="377" cy="212.9" r="0.6" opacity="0.6"/>
<circle cx="384.5" cy="215.4" r="0.9" opacity="0.6"/>
<circle cx="383.7" cy="213.3" r="0.7" opacity="0.6"/>
<circle cx="380.2" cy="210" r="0.6" opacity="0.6"/>
<circle cx="380.5" cy="210.1" r="1" opacity="0.6"/>
<circle cx="378.4" cy="217" r="0.8" opacity="0.6"/>
<circle cx="374.7" cy="213.7" r="0.7" opacity="0.6"/>
<circle cx="374.1" cy="215.1" r="0.7" opacity="0.6"/>
<circle cx="378.4" cy="218.6" r="0.8" opacity="0.6"/>
<circle cx="374" cy="216.4" r="0.6" opacity="0.6"/>
<circle cx="376.4" cy="223.9" r="0.9" opacity="0.6"/>
<circle cx="385.9" cy="215" r="0.8" opacity="0.6"/>
<circle cx="380.2" cy="220.4" r="0.9" opacity="0.6"/>
<circle cx="378.9" cy="223.4" r="0.8" opacity="0.6"/>
<circle cx="382" cy="222.2" r="0.7" opacity="0.6"/>
<circle cx="383.1" cy="213.3" r="0.8" opacity="0.6"/>
<circle cx="385.6" cy="215.9" r="0.8" opacity="0.6"/>
<circle cx="383" cy="224.1" r="0.8" opacity="0.6"/>
<circle cx="376.9" cy="216.3" r="0.9" opacity="0.6"/>
<circle cx="377" cy="222.5" r="0.9" opacity="0.6"/>
<circle cx="384.6" cy="219.7" r="0.6" opacity="0.6"/>
<circle cx="374.3" cy="218.9" r="0.8" opacity="0.6"/>
<circle cx="374.3" cy="214" r="0.8" opacity="0.6"/>
<circle cx="381.3" cy="221.5" r="0.8" opacity="0.6"/>
<circle cx="384" cy="214" r="0.7" opacity="0.6"/>
<circle cx="377.7" cy="212.5" r="0.8" opacity="0.6"/>
<circle cx="384.4" cy="214.2" r="0.9" opacity="0.6"/>
<circle cx="385.3" cy="221.6" r="0.7" opacity="0.6"/>
<circle cx="378.6" cy="218.9" r="0.9" opacity="0.6"/>
<circle cx="382.8" cy="222.1" r="0.9" opacity="0.6"/>
</g>
<g stroke="#8ca785" stroke-width="1" fill="none">
<path d="M437.5 247.5V231.4"/>
</g><g stroke="#8aa582" stroke-width="0.55" fill="none" opacity="0.9">
<path d="M437.5 233.4L431.2 231.2"/>
<path d="M437.5 233.4L431.5 228.6"/>
<path d="M437.5 233.4L431.5 224.1"/>
<path d="M437.5 233.4L433.9 223.6"/>
<path d="M437.5 233.4L437.9 224.8"/>
<path d="M437.5 233.4L439.8 224"/>
<path d="M437.5 233.4L442.4 226"/>
<path d="M437.5 233.4L442.6 228.8"/>
<path d="M437.5 233.4L443.4 231.2"/>
</g>
<g fill="#7d9b75">
<ellipse cx="437.5" cy="227.5" rx="6.4" ry="7.2" opacity="0.22"/>
<circle cx="438.1" cy="230.6" r="0.7" opacity="0.6"/>
<circle cx="438.1" cy="233.4" r="0.6" opacity="0.6"/>
<circle cx="440" cy="221.9" r="0.6" opacity="0.6"/>
<circle cx="435.6" cy="231.8" r="1" opacity="0.6"/>
<circle cx="441.7" cy="233.3" r="0.7" opacity="0.6"/>
<circle cx="438.6" cy="221.7" r="0.6" opacity="0.6"/>
<circle cx="436.9" cy="230.2" r="1" opacity="0.6"/>
<circle cx="440.7" cy="229.7" r="0.7" opacity="0.6"/>
<circle cx="433.8" cy="232.9" r="0.7" opacity="0.6"/>
<circle cx="440.4" cy="233.7" r="1" opacity="0.6"/>
<circle cx="435.1" cy="227.6" r="0.6" opacity="0.6"/>
<circle cx="443.7" cy="231" r="1" opacity="0.6"/>
<circle cx="441.8" cy="223.3" r="0.9" opacity="0.6"/>
<circle cx="435" cy="221.6" r="0.9" opacity="0.6"/>
<circle cx="437" cy="233" r="0.8" opacity="0.6"/>
<circle cx="436.7" cy="222.3" r="0.9" opacity="0.6"/>
<circle cx="441.2" cy="225.8" r="0.6" opacity="0.6"/>
<circle cx="431.7" cy="229.5" r="0.8" opacity="0.6"/>
<circle cx="436.2" cy="226.4" r="0.9" opacity="0.6"/>
<circle cx="434.9" cy="225.4" r="0.7" opacity="0.6"/>
<circle cx="436.3" cy="234.8" r="0.7" opacity="0.6"/>
<circle cx="440.7" cy="225" r="1" opacity="0.6"/>
<circle cx="431.3" cy="224.4" r="0.9" opacity="0.6"/>
<circle cx="437.6" cy="231.6" r="0.9" opacity="0.6"/>
<circle cx="433.2" cy="232.2" r="0.9" opacity="0.6"/>
<circle cx="430.8" cy="227.7" r="0.6" opacity="0.6"/>
<circle cx="442" cy="229.8" r="0.9" opacity="0.6"/>
<circle cx="434.1" cy="231.5" r="0.7" opacity="0.6"/>
<circle cx="433.3" cy="228.7" r="0.9" opacity="0.6"/>
<circle cx="436.3" cy="222.4" r="0.7" opacity="0.6"/>
<circle cx="437.8" cy="225.8" r="0.6" opacity="0.6"/>
<circle cx="433.3" cy="228.3" r="0.9" opacity="0.6"/>
<circle cx="441.6" cy="232.3" r="0.8" opacity="0.6"/>
<circle cx="436.3" cy="228.6" r="0.8" opacity="0.6"/>
<circle cx="440" cy="229.9" r="0.8" opacity="0.6"/>
<circle cx="438" cy="223.8" r="0.9" opacity="0.6"/>
<circle cx="437.5" cy="234.1" r="0.7" opacity="0.6"/>
<circle cx="436" cy="229.5" r="1" opacity="0.6"/>
<circle cx="441.2" cy="228.1" r="0.7" opacity="0.6"/>
<circle cx="439.9" cy="225.8" r="0.9" opacity="0.6"/>
<circle cx="434.4" cy="223.1" r="0.9" opacity="0.6"/>
<circle cx="435.5" cy="227.6" r="1" opacity="0.6"/>
<circle cx="432.6" cy="230.8" r="1" opacity="0.6"/>
<circle cx="443.4" cy="224.1" r="0.8" opacity="0.6"/>
<circle cx="435.6" cy="232.5" r="0.8" opacity="0.6"/>
<circle cx="439.5" cy="226.9" r="0.9" opacity="0.6"/>
</g>
<g stroke="#8ca785" stroke-width="1" fill="none">
<path d="M366 251V234.9"/>
</g><g stroke="#8aa582" stroke-width="0.55" fill="none" opacity="0.9">
<path d="M366 236.9L360.2 235.7"/>
<path d="M366 236.9L359.6 231.2"/>
<path d="M366 236.9L360.2 227.8"/>
<path d="M366 236.9L362.8 227.6"/>
<path d="M366 236.9L366.2 226.4"/>
<path d="M366 236.9L368.8 226.6"/>
<path d="M366 236.9L370.5 229.1"/>
<path d="M366 236.9L372.7 231.9"/>
<path d="M366 236.9L373.1 234.8"/>
</g>
<g fill="#7d9b75">
<ellipse cx="366" cy="231" rx="6.4" ry="7.2" opacity="0.22"/>
<circle cx="364.1" cy="235.3" r="0.7" opacity="0.6"/>
<circle cx="366.3" cy="236.4" r="0.8" opacity="0.6"/>
<circle cx="361.6" cy="227" r="0.6" opacity="0.6"/>
<circle cx="361" cy="233.6" r="0.6" opacity="0.6"/>
<circle cx="362.4" cy="235.3" r="0.9" opacity="0.6"/>
<circle cx="361.8" cy="233.4" r="1" opacity="0.6"/>
<circle cx="360.1" cy="231.5" r="0.6" opacity="0.6"/>
<circle cx="370" cy="228" r="0.6" opacity="0.6"/>
<circle cx="365.6" cy="238.1" r="0.9" opacity="0.6"/>
<circle cx="360.4" cy="233.8" r="0.8" opacity="0.6"/>
<circle cx="363.4" cy="229" r="0.9" opacity="0.6"/>
<circle cx="370" cy="226.1" r="0.8" opacity="0.6"/>
<circle cx="369.6" cy="236.8" r="1" opacity="0.6"/>
<circle cx="363.2" cy="230" r="0.9" opacity="0.6"/>
<circle cx="364.3" cy="229.1" r="0.6" opacity="0.6"/>
<circle cx="363.9" cy="226.6" r="0.8" opacity="0.6"/>
<circle cx="366.7" cy="234.1" r="0.8" opacity="0.6"/>
<circle cx="370.2" cy="225.9" r="1" opacity="0.6"/>
<circle cx="365" cy="231.8" r="0.6" opacity="0.6"/>
<circle cx="369.7" cy="228.5" r="0.6" opacity="0.6"/>
<circle cx="367" cy="232.4" r="0.6" opacity="0.6"/>
<circle cx="364.2" cy="229.3" r="0.9" opacity="0.6"/>
<circle cx="370.4" cy="235.8" r="0.6" opacity="0.6"/>
<circle cx="362.8" cy="230.8" r="0.8" opacity="0.6"/>
<circle cx="360.9" cy="228.9" r="0.7" opacity="0.6"/>
<circle cx="363.8" cy="233.5" r="0.7" opacity="0.6"/>
<circle cx="371.8" cy="235.2" r="0.6" opacity="0.6"/>
<circle cx="370.8" cy="232.6" r="0.7" opacity="0.6"/>
<circle cx="369.5" cy="228.8" r="0.6" opacity="0.6"/>
<circle cx="366.4" cy="237.8" r="0.8" opacity="0.6"/>
<circle cx="368.2" cy="224.8" r="0.9" opacity="0.6"/>
<circle cx="363.8" cy="226.5" r="0.8" opacity="0.6"/>
<circle cx="368.8" cy="236.7" r="0.6" opacity="0.6"/>
<circle cx="370.1" cy="230.4" r="0.6" opacity="0.6"/>
<circle cx="364.1" cy="235.4" r="0.6" opacity="0.6"/>
<circle cx="366.9" cy="224.1" r="1" opacity="0.6"/>
<circle cx="369.5" cy="229.4" r="0.9" opacity="0.6"/>
<circle cx="362.1" cy="233" r="0.6" opacity="0.6"/>
<circle cx="365.7" cy="238.8" r="0.9" opacity="0.6"/>
<circle cx="366.6" cy="227.4" r="0.8" opacity="0.6"/>
<circle cx="369" cy="233.5" r="0.6" opacity="0.6"/>
<circle cx="369.2" cy="232.4" r="1" opacity="0.6"/>
<circle cx="364.8" cy="237.1" r="0.8" opacity="0.6"/>
<circle cx="370.4" cy="233.5" r="0.7" opacity="0.6"/>
<circle cx="361.3" cy="226.6" r="0.7" opacity="0.6"/>
<circle cx="370.6" cy="225.6" r="0.8" opacity="0.6"/>
</g>
<g stroke="#8ca785" stroke-width="1" fill="none">
<path d="M427.5 251V234.9"/>
</g><g stroke="#8aa582" stroke-width="0.55" fill="none" opacity="0.9">
<path d="M427.5 236.9L421.5 235.4"/>
<path d="M427.5 236.9L420.8 232.2"/>
<path d="M427.5 236.9L422.7 230"/>
<path d="M427.5 236.9L424.7 227.1"/>
<path d="M427.5 236.9L426.8 225.6"/>
<path d="M427.5 236.9L431.5 226.2"/>
<path d="M427.5 236.9L432.1 229.8"/>
<path d="M427.5 236.9L433.8 232.8"/>
<path d="M427.5 236.9L435.1 235"/>
</g>
<g fill="#7d9b75">
<ellipse cx="427.5" cy="231" rx="6.4" ry="7.2" opacity="0.22"/>
<circle cx="424.4" cy="224.3" r="0.6" opacity="0.6"/>
<circle cx="423.8" cy="230.2" r="0.7" opacity="0.6"/>
<circle cx="425.4" cy="232.6" r="0.9" opacity="0.6"/>
<circle cx="429.3" cy="234.2" r="0.8" opacity="0.6"/>
<circle cx="432.9" cy="233.6" r="0.6" opacity="0.6"/>
<circle cx="430.8" cy="233.4" r="0.6" opacity="0.6"/>
<circle cx="423.8" cy="234.7" r="0.8" opacity="0.6"/>
<circle cx="428.7" cy="226" r="0.6" opacity="0.6"/>
<circle cx="424.2" cy="228.8" r="0.8" opacity="0.6"/>
<circle cx="423.8" cy="231.5" r="0.8" opacity="0.6"/>
<circle cx="431" cy="226.3" r="0.8" opacity="0.6"/>
<circle cx="429" cy="238.5" r="0.9" opacity="0.6"/>
<circle cx="431" cy="236.7" r="0.7" opacity="0.6"/>
<circle cx="427.6" cy="229" r="1" opacity="0.6"/>
<circle cx="431.4" cy="233.5" r="0.8" opacity="0.6"/>
<circle cx="429.2" cy="225.2" r="0.7" opacity="0.6"/>
<circle cx="426.8" cy="237.8" r="0.9" opacity="0.6"/>
<circle cx="430.1" cy="226.3" r="0.7" opacity="0.6"/>
<circle cx="432.1" cy="231.7" r="0.7" opacity="0.6"/>
<circle cx="425.8" cy="237" r="0.6" opacity="0.6"/>
<circle cx="431.1" cy="232.4" r="0.7" opacity="0.6"/>
<circle cx="433" cy="228.4" r="0.8" opacity="0.6"/>
<circle cx="431.4" cy="236.2" r="0.7" opacity="0.6"/>
<circle cx="424.8" cy="226.3" r="0.6" opacity="0.6"/>
<circle cx="429.2" cy="237.4" r="0.8" opacity="0.6"/>
<circle cx="429.9" cy="232.4" r="0.7" opacity="0.6"/>
<circle cx="429.3" cy="225.6" r="0.6" opacity="0.6"/>
<circle cx="432.6" cy="233.1" r="0.6" opacity="0.6"/>
<circle cx="430.6" cy="236.7" r="1" opacity="0.6"/>
<circle cx="426.6" cy="234.1" r="1" opacity="0.6"/>
<circle cx="421.7" cy="231.6" r="0.8" opacity="0.6"/>
<circle cx="426.6" cy="232.1" r="0.7" opacity="0.6"/>
<circle cx="428.2" cy="225.7" r="0.9" opacity="0.6"/>
<circle cx="423.3" cy="236.5" r="1" opacity="0.6"/>
<circle cx="431.5" cy="230.8" r="0.6" opacity="0.6"/>
<circle cx="427.4" cy="227.7" r="0.7" opacity="0.6"/>
<circle cx="430.8" cy="226.7" r="0.8" opacity="0.6"/>
<circle cx="431.7" cy="234.7" r="0.9" opacity="0.6"/>
<circle cx="427.2" cy="233.8" r="0.8" opacity="0.6"/>
<circle cx="420.9" cy="230.4" r="0.6" opacity="0.6"/>
<circle cx="430.7" cy="231.3" r="0.9" opacity="0.6"/>
<circle cx="423" cy="236.1" r="1" opacity="0.6"/>
<circle cx="426.2" cy="232" r="0.6" opacity="0.6"/>
<circle cx="423.4" cy="225.9" r="0.7" opacity="0.6"/>
<circle cx="432.9" cy="230.3" r="0.7" opacity="0.6"/>
<circle cx="430.8" cy="231.5" r="0.9" opacity="0.6"/>
</g>
<g stroke="#8ca785" stroke-width="1" fill="none">
<path d="M413.7 263.7V247.6"/>
</g><g stroke="#8aa582" stroke-width="0.55" fill="none" opacity="0.9">
<path d="M413.7 249.6L407.1 247.8"/>
<path d="M413.7 249.6L407 244.8"/>
<path d="M413.7 249.6L408.6 243.1"/>
<path d="M413.7 249.6L411.7 240.6"/>
<path d="M413.7 249.6L414.2 238.8"/>
<path d="M413.7 249.6L417.2 239.7"/>
<path d="M413.7 249.6L419.4 240.4"/>
<path d="M413.7 249.6L420 245.4"/>
<path d="M413.7 249.6L419.3 247.5"/>
</g>
<g fill="#7d9b75">
<ellipse cx="413.7" cy="243.7" rx="6.4" ry="7.2" opacity="0.22"/>
<circle cx="412.1" cy="250.5" r="0.7" opacity="0.6"/>
<circle cx="414.1" cy="247" r="0.9" opacity="0.6"/>
<circle cx="414.7" cy="240.9" r="0.7" opacity="0.6"/>
<circle cx="413.6" cy="239" r="1" opacity="0.6"/>
<circle cx="410.6" cy="244.8" r="0.9" opacity="0.6"/>
<circle cx="414.9" cy="240.4" r="0.7" opacity="0.6"/>
<circle cx="411.3" cy="236.7" r="0.8" opacity="0.6"/>
<circle cx="408.4" cy="248.2" r="1" opacity="0.6"/>
<circle cx="410.9" cy="239.8" r="0.7" opacity="0.6"/>
<circle cx="417.6" cy="246.8" r="0.6" opacity="0.6"/>
<circle cx="417.9" cy="241.4" r="0.8" opacity="0.6"/>
<circle cx="420.2" cy="242.1" r="0.6" opacity="0.6"/>
<circle cx="415.8" cy="249.1" r="0.9" opacity="0.6"/>
<circle cx="419.3" cy="239.6" r="0.7" opacity="0.6"/>
<circle cx="412.8" cy="242.5" r="0.8" opacity="0.6"/>
<circle cx="411.2" cy="245" r="0.6" opacity="0.6"/>
<circle cx="417.2" cy="239.3" r="0.7" opacity="0.6"/>
<circle cx="410.2" cy="250.1" r="0.9" opacity="0.6"/>
<circle cx="411.7" cy="247.7" r="0.8" opacity="0.6"/>
<circle cx="414.1" cy="245.4" r="0.6" opacity="0.6"/>
<circle cx="419" cy="239.5" r="0.7" opacity="0.6"/>
<circle cx="420.1" cy="243.6" r="0.8" opacity="0.6"/>
<circle cx="420.2" cy="243.2" r="0.6" opacity="0.6"/>
<circle cx="419.5" cy="242.9" r="0.7" opacity="0.6"/>
<circle cx="412.3" cy="249.4" r="0.9" opacity="0.6"/>
<circle cx="411.9" cy="238.8" r="1" opacity="0.6"/>
<circle cx="416.5" cy="240.1" r="0.7" opacity="0.6"/>
<circle cx="413.5" cy="239.3" r="0.6" opacity="0.6"/>
<circle cx="418.2" cy="244.1" r="0.7" opacity="0.6"/>
<circle cx="413" cy="236.4" r="1" opacity="0.6"/>
<circle cx="413.5" cy="239.6" r="0.9" opacity="0.6"/>
<circle cx="415.3" cy="249.6" r="0.6" opacity="0.6"/>
<circle cx="412.7" cy="249.2" r="0.7" opacity="0.6"/>
<circle cx="416.1" cy="238.6" r="0.6" opacity="0.6"/>
<circle cx="415.5" cy="250.2" r="0.9" opacity="0.6"/>
<circle cx="407.3" cy="244.9" r="0.8" opacity="0.6"/>
<circle cx="420" cy="240.4" r="1" opacity="0.6"/>
<circle cx="410.2" cy="248.9" r="0.9" opacity="0.6"/>
<circle cx="408.5" cy="243.8" r="0.6" opacity="0.6"/>
<circle cx="412" cy="238.8" r="0.8" opacity="0.6"/>
<circle cx="409.6" cy="244.1" r="0.6" opacity="0.6"/>
<circle cx="419.7" cy="240.7" r="1" opacity="0.6"/>
<circle cx="415.8" cy="243.3" r="0.8" opacity="0.6"/>
<circle cx="409.5" cy="240" r="0.6" opacity="0.6"/>
<circle cx="418" cy="240.7" r="0.8" opacity="0.6"/>
<circle cx="410.1" cy="242.6" r="0.9" opacity="0.6"/>
</g>
<g stroke="#8ca785" stroke-width="1" fill="none">
<path d="M396 271V254.9"/>
</g><g stroke="#8aa582" stroke-width="0.55" fill="none" opacity="0.9">
<path d="M396 256.9L389.9 255"/>
<path d="M396 256.9L390.4 253"/>
<path d="M396 256.9L391 249.1"/>
<path d="M396 256.9L393.3 248.4"/>
<path d="M396 256.9L396.4 246.6"/>
<path d="M396 256.9L398.7 245.9"/>
<path d="M396 256.9L401.3 247.7"/>
<path d="M396 256.9L402.4 251.8"/>
<path d="M396 256.9L402 254.7"/>
</g>
<g fill="#7d9b75">
<ellipse cx="396" cy="251" rx="6.4" ry="7.2" opacity="0.22"/>
<circle cx="389.3" cy="249.6" r="0.6" opacity="0.6"/>
<circle cx="392.4" cy="255.4" r="0.6" opacity="0.6"/>
<circle cx="395" cy="254.3" r="1" opacity="0.6"/>
<circle cx="397" cy="257.3" r="0.7" opacity="0.6"/>
<circle cx="397.1" cy="250.2" r="1" opacity="0.6"/>
<circle cx="396" cy="244.2" r="0.8" opacity="0.6"/>
<circle cx="394.4" cy="253.2" r="0.7" opacity="0.6"/>
<circle cx="395.1" cy="248.4" r="0.8" opacity="0.6"/>
<circle cx="396.8" cy="249.1" r="0.8" opacity="0.6"/>
<circle cx="399" cy="253.6" r="0.8" opacity="0.6"/>
<circle cx="395.5" cy="257.3" r="1" opacity="0.6"/>
<circle cx="392.6" cy="246.2" r="0.6" opacity="0.6"/>
<circle cx="397.3" cy="257" r="0.6" opacity="0.6"/>
<circle cx="394.8" cy="253.6" r="0.9" opacity="0.6"/>
<circle cx="401.7" cy="254.4" r="0.8" opacity="0.6"/>
<circle cx="391.2" cy="252.5" r="0.8" opacity="0.6"/>
<circle cx="395.7" cy="249" r="1" opacity="0.6"/>
<circle cx="400.5" cy="248.2" r="0.9" opacity="0.6"/>
<circle cx="400.9" cy="253.2" r="0.7" opacity="0.6"/>
<circle cx="400.6" cy="254.8" r="0.7" opacity="0.6"/>
<circle cx="402.6" cy="251.2" r="0.9" opacity="0.6"/>
<circle cx="400.5" cy="253.9" r="0.7" opacity="0.6"/>
<circle cx="401.6" cy="246.9" r="0.7" opacity="0.6"/>
<circle cx="397.8" cy="244.5" r="0.8" opacity="0.6"/>
<circle cx="397.6" cy="257.6" r="0.7" opacity="0.6"/>
<circle cx="398.6" cy="246.2" r="0.6" opacity="0.6"/>
<circle cx="400.4" cy="255.5" r="0.6" opacity="0.6"/>
<circle cx="391.5" cy="248.3" r="0.8" opacity="0.6"/>
<circle cx="400.8" cy="252.8" r="0.8" opacity="0.6"/>
<circle cx="397.4" cy="258.2" r="0.8" opacity="0.6"/>
<circle cx="397.9" cy="251" r="0.9" opacity="0.6"/>
<circle cx="401.6" cy="254.7" r="1" opacity="0.6"/>
<circle cx="399.2" cy="252.6" r="0.9" opacity="0.6"/>
<circle cx="401.8" cy="246.9" r="0.9" opacity="0.6"/>
<circle cx="396.5" cy="252.7" r="0.6" opacity="0.6"/>
<circle cx="393.5" cy="249.4" r="1" opacity="0.6"/>
<circle cx="395.5" cy="257" r="0.8" opacity="0.6"/>
<circle cx="394.8" cy="255.9" r="0.6" opacity="0.6"/>
<circle cx="399" cy="254.3" r="0.6" opacity="0.6"/>
<circle cx="392.7" cy="254.7" r="1" opacity="0.6"/>
<circle cx="394.7" cy="244.6" r="0.7" opacity="0.6"/>
<circle cx="396.2" cy="258.5" r="0.8" opacity="0.6"/>
<circle cx="397.4" cy="254.9" r="0.6" opacity="0.6"/>
<circle cx="398.6" cy="249.7" r="0.7" opacity="0.6"/>
<circle cx="392.5" cy="251.8" r="0.8" opacity="0.6"/>
<circle cx="395.9" cy="258.8" r="0.8" opacity="0.6"/>
</g>
<g stroke="#8ca785" stroke-width="1" fill="none">
<path d="M466 277.5V261.4"/>
</g><g stroke="#8aa582" stroke-width="0.55" fill="none" opacity="0.9">
<path d="M466 263.4L458.4 261.7"/>
<path d="M466 263.4L459.9 258.7"/>
<path d="M466 263.4L461.4 256.5"/>
<path d="M466 263.4L463.7 254.9"/>
<path d="M466 263.4L466.2 251.8"/>
<path d="M466 263.4L469.8 252.7"/>
<path d="M466 263.4L471.3 255.6"/>
<path d="M466 263.4L471.4 259.2"/>
<path d="M466 263.4L473 261.4"/>
</g>
<g fill="#7d9b75">
<ellipse cx="466" cy="257.5" rx="6.4" ry="7.2" opacity="0.22"/>
<circle cx="468.7" cy="255.1" r="0.7" opacity="0.6"/>
<circle cx="469.4" cy="250.9" r="0.9" opacity="0.6"/>
<circle cx="459.9" cy="259" r="0.6" opacity="0.6"/>
<circle cx="469.6" cy="254.1" r="0.8" opacity="0.6"/>
<circle cx="466.2" cy="252.2" r="0.8" opacity="0.6"/>
<circle cx="460.1" cy="261.1" r="1" opacity="0.6"/>
<circle cx="469.7" cy="259.7" r="0.8" opacity="0.6"/>
<circle cx="460.8" cy="256.3" r="1" opacity="0.6"/>
<circle cx="469.2" cy="263.2" r="1" opacity="0.6"/>
<circle cx="465.8" cy="263.9" r="0.7" opacity="0.6"/>
<circle cx="469.2" cy="259.3" r="0.8" opacity="0.6"/>
<circle cx="459.9" cy="260.3" r="0.7" opacity="0.6"/>
<circle cx="469.9" cy="259.2" r="0.8" opacity="0.6"/>
<circle cx="465.4" cy="261" r="0.8" opacity="0.6"/>
<circle cx="463" cy="255.8" r="0.6" opacity="0.6"/>
<circle cx="467.1" cy="259.2" r="0.6" opacity="0.6"/>
<circle cx="460.8" cy="260.2" r="0.9" opacity="0.6"/>
<circle cx="470.8" cy="255.6" r="0.7" opacity="0.6"/>
<circle cx="462.3" cy="261" r="0.8" opacity="0.6"/>
<circle cx="469.6" cy="258" r="0.8" opacity="0.6"/>
<circle cx="463.8" cy="261.5" r="0.7" opacity="0.6"/>
<circle cx="461.4" cy="260.9" r="1" opacity="0.6"/>
<circle cx="468.7" cy="252.5" r="0.9" opacity="0.6"/>
<circle cx="472.2" cy="256.9" r="0.8" opacity="0.6"/>
<circle cx="459.3" cy="255.8" r="0.7" opacity="0.6"/>
<circle cx="462" cy="257.9" r="0.9" opacity="0.6"/>
<circle cx="469.4" cy="252.2" r="0.7" opacity="0.6"/>
<circle cx="462.5" cy="252.2" r="0.9" opacity="0.6"/>
<circle cx="471.8" cy="253.9" r="0.6" opacity="0.6"/>
<circle cx="468.2" cy="253.4" r="0.7" opacity="0.6"/>
<circle cx="467.9" cy="263.5" r="0.7" opacity="0.6"/>
<circle cx="460.7" cy="256.8" r="0.7" opacity="0.6"/>
<circle cx="460.5" cy="254.6" r="0.6" opacity="0.6"/>
<circle cx="460.7" cy="260.9" r="1" opacity="0.6"/>
<circle cx="468.1" cy="256.7" r="0.8" opacity="0.6"/>
<circle cx="459.5" cy="257.2" r="0.9" opacity="0.6"/>
<circle cx="471.5" cy="256" r="0.6" opacity="0.6"/>
<circle cx="464.1" cy="263" r="0.7" opacity="0.6"/>
<circle cx="466.1" cy="255.2" r="1" opacity="0.6"/>
<circle cx="464.7" cy="253.9" r="1" opacity="0.6"/>
<circle cx="467.1" cy="258.5" r="0.6" opacity="0.6"/>
<circle cx="463.6" cy="264.5" r="0.9" opacity="0.6"/>
<circle cx="467.1" cy="250.1" r="0.8" opacity="0.6"/>
<circle cx="463.5" cy="260.4" r="0.9" opacity="0.6"/>
<circle cx="466.1" cy="264.8" r="0.8" opacity="0.6"/>
<circle cx="469.8" cy="264" r="0.8" opacity="0.6"/>
</g>
<g stroke="#8ca785" stroke-width="1" fill="none">
<path d="M460 278V261.9"/>
</g><g stroke="#8aa582" stroke-width="0.55" fill="none" opacity="0.9">
<path d="M460 263.9L452.8 262.3"/>
<path d="M460 263.9L453.8 258.8"/>
<path d="M460 263.9L454.7 255.1"/>
<path d="M460 263.9L456.9 254.1"/>
<path d="M460 263.9L459.5 253.3"/>
<path d="M460 263.9L462.8 253.2"/>
<path d="M460 263.9L465.4 254.8"/>
<path d="M460 263.9L466.3 259"/>
<path d="M460 263.9L467.1 261.5"/>
</g>
<g fill="#7d9b75">
<ellipse cx="460" cy="258" rx="6.4" ry="7.2" opacity="0.22"/>
<circle cx="460.9" cy="250.4" r="0.7" opacity="0.6"/>
<circle cx="466.1" cy="258.6" r="0.9" opacity="0.6"/>
<circle cx="460.2" cy="253.1" r="0.8" opacity="0.6"/>
<circle cx="463.6" cy="258" r="1" opacity="0.6"/>
<circle cx="463.1" cy="256.6" r="0.7" opacity="0.6"/>
<circle cx="458.2" cy="260.2" r="0.7" opacity="0.6"/>
<circle cx="466.1" cy="254.3" r="0.8" opacity="0.6"/>
<circle cx="462" cy="250.7" r="0.9" opacity="0.6"/>
<circle cx="456.8" cy="262.8" r="0.8" opacity="0.6"/>
<circle cx="456.7" cy="253.9" r="0.8" opacity="0.6"/>
<circle cx="459.2" cy="250.2" r="0.8" opacity="0.6"/>
<circle cx="461.3" cy="256.4" r="0.7" opacity="0.6"/>
<circle cx="457.7" cy="254.6" r="0.9" opacity="0.6"/>
<circle cx="455.3" cy="262.8" r="0.7" opacity="0.6"/>
<circle cx="462.2" cy="265.3" r="0.8" opacity="0.6"/>
<circle cx="459.2" cy="250.4" r="0.8" opacity="0.6"/>
<circle cx="459.1" cy="250.2" r="0.6" opacity="0.6"/>
<circle cx="466.6" cy="259" r="0.8" opacity="0.6"/>
<circle cx="459.9" cy="260.3" r="0.6" opacity="0.6"/>
<circle cx="454.4" cy="254.9" r="0.7" opacity="0.6"/>
<circle cx="459.2" cy="255.7" r="0.7" opacity="0.6"/>
<circle cx="461.7" cy="260.3" r="0.8" opacity="0.6"/>
<circle cx="463.3" cy="258.8" r="0.9" opacity="0.6"/>
<circle cx="461.7" cy="255.6" r="0.7" opacity="0.6"/>
<circle cx="456" cy="252.7" r="0.6" opacity="0.6"/>
<circle cx="464.7" cy="259.3" r="0.7" opacity="0.6"/>
<circle cx="459.5" cy="251.2" r="0.8" opacity="0.6"/>
<circle cx="461.1" cy="256.3" r="0.9" opacity="0.6"/>
<circle cx="453.3" cy="259.6" r="0.8" opacity="0.6"/>
<circle cx="457.7" cy="263.1" r="0.9" opacity="0.6"/>
<circle cx="453.3" cy="257.3" r="0.9" opacity="0.6"/>
<circle cx="465.5" cy="261.8" r="1" opacity="0.6"/>
<circle cx="455.9" cy="257.4" r="0.6" opacity="0.6"/>
<circle cx="460.1" cy="253.9" r="0.7" opacity="0.6"/>
<circle cx="458.7" cy="261.1" r="1" opacity="0.6"/>
<circle cx="456.8" cy="262.4" r="0.9" opacity="0.6"/>
<circle cx="454.1" cy="259" r="0.8" opacity="0.6"/>
<circle cx="456.8" cy="260.8" r="1" opacity="0.6"/>
<circle cx="456.3" cy="262.2" r="0.7" opacity="0.6"/>
<circle cx="463.2" cy="264.3" r="0.7" opacity="0.6"/>
<circle cx="454" cy="261.6" r="0.8" opacity="0.6"/>
<circle cx="462.5" cy="263.7" r="0.9" opacity="0.6"/>
<circle cx="459.5" cy="262.3" r="0.8" opacity="0.6"/>
<circle cx="457.9" cy="251.9" r="0.7" opacity="0.6"/>
<circle cx="460.5" cy="253.7" r="1" opacity="0.6"/>
<circle cx="459.2" cy="251" r="0.8" opacity="0.6"/>
</g>
<g stroke="#8ca785" stroke-width="1" fill="none">
<path d="M325 280V263.9"/>
</g><g stroke="#8aa582" stroke-width="0.55" fill="none" opacity="0.9">
<path d="M325 265.9L319 264.3"/>
<path d="M325 265.9L319.3 261"/>
<path d="M325 265.9L320.8 258.8"/>
<path d="M325 265.9L322.1 256.2"/>
<path d="M325 265.9L325.4 255.8"/>
<path d="M325 265.9L328.2 257.2"/>
<path d="M325 265.9L330.5 257.7"/>
<path d="M325 265.9L331.7 260.8"/>
<path d="M325 265.9L332 263.3"/>
</g>
<g fill="#7d9b75">
<ellipse cx="325" cy="260" rx="6.4" ry="7.2" opacity="0.22"/>
<circle cx="327" cy="253.5" r="1" opacity="0.6"/>
<circle cx="327.4" cy="256.7" r="0.7" opacity="0.6"/>
<circle cx="324.3" cy="262.3" r="0.8" opacity="0.6"/>
<circle cx="320.7" cy="259.2" r="0.9" opacity="0.6"/>
<circle cx="323.1" cy="264.7" r="0.8" opacity="0.6"/>
<circle cx="318.8" cy="259.4" r="0.9" opacity="0.6"/>
<circle cx="331.9" cy="259.1" r="0.9" opacity="0.6"/>
<circle cx="328.1" cy="256.2" r="0.8" opacity="0.6"/>
<circle cx="322" cy="266.5" r="1" opacity="0.6"/>
<circle cx="322.7" cy="264.4" r="0.8" opacity="0.6"/>
<circle cx="322.8" cy="256" r="1" opacity="0.6"/>
<circle cx="321.4" cy="262" r="0.9" opacity="0.6"/>
<circle cx="323.6" cy="267.6" r="0.6" opacity="0.6"/>
<circle cx="325.4" cy="254.8" r="0.9" opacity="0.6"/>
<circle cx="326.3" cy="260.2" r="1" opacity="0.6"/>
<circle cx="328" cy="255.6" r="0.6" opacity="0.6"/>
<circle cx="327.4" cy="256.9" r="0.6" opacity="0.6"/>
<circle cx="322.6" cy="259" r="0.7" opacity="0.6"/>
<circle cx="321.9" cy="258" r="0.7" opacity="0.6"/>
<circle cx="321.8" cy="264.1" r="0.9" opacity="0.6"/>
<circle cx="323" cy="265.6" r="0.7" opacity="0.6"/>
<circle cx="322.7" cy="254.7" r="0.8" opacity="0.6"/>
<circle cx="321.7" cy="253.4" r="0.9" opacity="0.6"/>
<circle cx="319" cy="259.6" r="0.8" opacity="0.6"/>
<circle cx="327.1" cy="267.3" r="0.7" opacity="0.6"/>
<circle cx="328.1" cy="254.4" r="0.8" opacity="0.6"/>
<circle cx="328" cy="257.1" r="0.9" opacity="0.6"/>
<circle cx="324.3" cy="265.8" r="0.7" opacity="0.6"/>
<circle cx="326" cy="257" r="0.8" opacity="0.6"/>
<circle cx="318.9" cy="259.7" r="0.9" opacity="0.6"/>
<circle cx="331.7" cy="259.5" r="0.7" opacity="0.6"/>
<circle cx="328.5" cy="266.3" r="0.7" opacity="0.6"/>
<circle cx="320.4" cy="257.9" r="1" opacity="0.6"/>
<circle cx="322.9" cy="259.9" r="0.9" opacity="0.6"/>
<circle cx="325" cy="262.6" r="0.9" opacity="0.6"/>
<circle cx="319.3" cy="257.1" r="0.9" opacity="0.6"/>
<circle cx="321.1" cy="265.1" r="0.6" opacity="0.6"/>
<circle cx="329.6" cy="262.9" r="0.9" opacity="0.6"/>
<circle cx="326.2" cy="260.2" r="1" opacity="0.6"/>
<circle cx="327.9" cy="257.3" r="0.9" opacity="0.6"/>
<circle cx="327.2" cy="265.8" r="0.8" opacity="0.6"/>
<circle cx="320.8" cy="258" r="1" opacity="0.6"/>
<circle cx="321.9" cy="262" r="1" opacity="0.6"/>
<circle cx="319.3" cy="256.6" r="0.9" opacity="0.6"/>
<circle cx="325.3" cy="264.6" r="0.7" opacity="0.6"/>
<circle cx="325.1" cy="266" r="0.8" opacity="0.6"/>
</g>
<g stroke="#8ca785" stroke-width="1" fill="none">
<path d="M310 283.7V267.6"/>
</g><g stroke="#8aa582" stroke-width="0.55" fill="none" opacity="0.9">
<path d="M310 269.6L302.4 266.8"/>
<path d="M310 269.6L304.1 264.6"/>
<path d="M310 269.6L305.5 262.4"/>
<path d="M310 269.6L307.6 259.9"/>
<path d="M310 269.6L310.3 260.5"/>
<path d="M310 269.6L312.4 261.5"/>
<path d="M310 269.6L315.2 262.7"/>
<path d="M310 269.6L316.1 265"/>
<path d="M310 269.6L315.9 268.2"/>
</g>
<g fill="#7d9b75">
<ellipse cx="310" cy="263.7" rx="6.4" ry="7.2" opacity="0.22"/>
<circle cx="307.2" cy="261.3" r="0.9" opacity="0.6"/>
<circle cx="305.1" cy="267.7" r="1" opacity="0.6"/>
<circle cx="312" cy="268.8" r="0.6" opacity="0.6"/>
<circle cx="308.8" cy="262.6" r="1" opacity="0.6"/>
<circle cx="307.3" cy="262.2" r="0.9" opacity="0.6"/>
<circle cx="307.4" cy="258.4" r="0.8" opacity="0.6"/>
<circle cx="311.1" cy="256.6" r="0.8" opacity="0.6"/>
<circle cx="309.1" cy="265.6" r="0.9" opacity="0.6"/>
<circle cx="305.2" cy="266.1" r="0.6" opacity="0.6"/>
<circle cx="312.5" cy="260.5" r="1" opacity="0.6"/>
<circle cx="308.6" cy="271.1" r="0.9" opacity="0.6"/>
<circle cx="306.9" cy="261.8" r="0.9" opacity="0.6"/>
<circle cx="304.6" cy="263.3" r="1" opacity="0.6"/>
<circle cx="315.4" cy="268.1" r="0.8" opacity="0.6"/>
<circle cx="308.2" cy="262.3" r="0.9" opacity="0.6"/>
<circle cx="313.9" cy="258.1" r="0.8" opacity="0.6"/>
<circle cx="307.2" cy="266.5" r="0.9" opacity="0.6"/>
<circle cx="310.8" cy="269.5" r="0.9" opacity="0.6"/>
<circle cx="310.6" cy="257.3" r="0.6" opacity="0.6"/>
<circle cx="310.6" cy="266.9" r="0.7" opacity="0.6"/>
<circle cx="310.9" cy="270.8" r="0.9" opacity="0.6"/>
<circle cx="306.6" cy="269.1" r="0.6" opacity="0.6"/>
<circle cx="312.5" cy="266.1" r="0.8" opacity="0.6"/>
<circle cx="307.3" cy="257" r="0.6" opacity="0.6"/>
<circle cx="311.3" cy="261.8" r="0.8" opacity="0.6"/>
<circle cx="311.9" cy="270.6" r="0.9" opacity="0.6"/>
<circle cx="313.3" cy="259.9" r="0.8" opacity="0.6"/>
<circle cx="308.2" cy="257.1" r="0.8" opacity="0.6"/>
<circle cx="313.1" cy="256.9" r="1" opacity="0.6"/>
<circle cx="316.1" cy="261.4" r="0.6" opacity="0.6"/>
<circle cx="310.9" cy="261" r="0.6" opacity="0.6"/>
<circle cx="306.4" cy="257" r="0.9" opacity="0.6"/>
<circle cx="307.5" cy="264.2" r="0.9" opacity="0.6"/>
<circle cx="305.4" cy="262.6" r="0.8" opacity="0.6"/>
<circle cx="308.4" cy="260.9" r="0.8" opacity="0.6"/>
<circle cx="303.9" cy="262.9" r="0.7" opacity="0.6"/>
<circle cx="308.8" cy="266.4" r="0.6" opacity="0.6"/>
<circle cx="310.4" cy="270.8" r="0.9" opacity="0.6"/>
<circle cx="314.1" cy="259" r="0.8" opacity="0.6"/>
<circle cx="308.9" cy="269" r="0.9" opacity="0.6"/>
<circle cx="304.7" cy="267.3" r="0.6" opacity="0.6"/>
<circle cx="313.6" cy="266.1" r="1" opacity="0.6"/>
<circle cx="313.2" cy="270.4" r="1" opacity="0.6"/>
<circle cx="314.8" cy="266.8" r="0.6" opacity="0.6"/>
<circle cx="314.8" cy="269.1" r="0.8" opacity="0.6"/>
<circle cx="311.4" cy="257.6" r="0.7" opacity="0.6"/>
</g>
<g stroke="#8ca785" stroke-width="1" fill="none">
<path d="M453.7 285V268.9"/>
</g><g stroke="#8aa582" stroke-width="0.55" fill="none" opacity="0.9">
<path d="M453.7 270.9L447.7 269.5"/>
<path d="M453.7 270.9L448.9 266.6"/>
<path d="M453.7 270.9L448.1 263.1"/>
<path d="M453.7 270.9L450.6 261.5"/>
<path d="M453.7 270.9L454.1 261"/>
<path d="M453.7 270.9L457 260.3"/>
<path d="M453.7 270.9L458.8 264.4"/>
<path d="M453.7 270.9L458.7 266.7"/>
<path d="M453.7 270.9L459.6 268.7"/>
</g>
<g fill="#7d9b75">
<ellipse cx="453.7" cy="265" rx="6.4" ry="7.2" opacity="0.22"/>
<circle cx="458.7" cy="262.3" r="0.7" opacity="0.6"/>
<circle cx="459.1" cy="262.9" r="0.6" opacity="0.6"/>
<circle cx="454.1" cy="267.2" r="0.6" opacity="0.6"/>
<circle cx="448.9" cy="269.8" r="0.7" opacity="0.6"/>
<circle cx="450.9" cy="260" r="0.8" opacity="0.6"/>
<circle cx="449.3" cy="266.8" r="0.6" opacity="0.6"/>
<circle cx="450.5" cy="258.8" r="0.7" opacity="0.6"/>
<circle cx="453.8" cy="261.1" r="0.9" opacity="0.6"/>
<circle cx="454.3" cy="257.6" r="0.9" opacity="0.6"/>
<circle cx="452" cy="270.9" r="1" opacity="0.6"/>
<circle cx="451.2" cy="272.1" r="0.6" opacity="0.6"/>
<circle cx="448.3" cy="263.9" r="0.6" opacity="0.6"/>
<circle cx="459.2" cy="265.5" r="0.8" opacity="0.6"/>
<circle cx="457.7" cy="266.6" r="0.6" opacity="0.6"/>
<circle cx="448.4" cy="264.3" r="1" opacity="0.6"/>
<circle cx="455.8" cy="262.4" r="0.7" opacity="0.6"/>
<circle cx="453.3" cy="261.9" r="0.8" opacity="0.6"/>
<circle cx="451.5" cy="271.2" r="0.8" opacity="0.6"/>
<circle cx="447.3" cy="267.9" r="0.9" opacity="0.6"/>
<circle cx="455.4" cy="271" r="0.9" opacity="0.6"/>
<circle cx="451.1" cy="270.2" r="0.9" opacity="0.6"/>
<circle cx="457.1" cy="270.5" r="1" opacity="0.6"/>
<circle cx="451" cy="265.9" r="0.7" opacity="0.6"/>
<circle cx="458" cy="259.2" r="0.9" opacity="0.6"/>
<circle cx="459" cy="259.9" r="0.8" opacity="0.6"/>
<circle cx="449.8" cy="259.7" r="0.7" opacity="0.6"/>
<circle cx="458.1" cy="268.2" r="0.7" opacity="0.6"/>
<circle cx="453.7" cy="269.1" r="0.6" opacity="0.6"/>
<circle cx="459.4" cy="269.2" r="0.7" opacity="0.6"/>
<circle cx="453.5" cy="268.3" r="0.9" opacity="0.6"/>
<circle cx="449.5" cy="259.1" r="0.6" opacity="0.6"/>
<circle cx="458.6" cy="262.9" r="0.8" opacity="0.6"/>
<circle cx="455.9" cy="263.6" r="0.7" opacity="0.6"/>
<circle cx="454.1" cy="271" r="0.8" opacity="0.6"/>
<circle cx="456.5" cy="262.2" r="0.9" opacity="0.6"/>
<circle cx="456.8" cy="270.8" r="0.8" opacity="0.6"/>
<circle cx="455.6" cy="268.7" r="0.8" opacity="0.6"/>
<circle cx="456.7" cy="264.5" r="0.6" opacity="0.6"/>
<circle cx="455.5" cy="272.5" r="0.9" opacity="0.6"/>
<circle cx="452.7" cy="269.2" r="0.7" opacity="0.6"/>
<circle cx="450.5" cy="258.6" r="0.6" opacity="0.6"/>
<circle cx="457.3" cy="266" r="0.6" opacity="0.6"/>
<circle cx="453.4" cy="267.1" r="0.6" opacity="0.6"/>
<circle cx="457.5" cy="267.2" r="0.8" opacity="0.6"/>
<circle cx="456.5" cy="260.8" r="0.6" opacity="0.6"/>
<circle cx="447.8" cy="261.1" r="0.9" opacity="0.6"/>
</g>
<g stroke="#8ca785" stroke-width="1" fill="none">
<path d="M293.7 296V279.9"/>
</g><g stroke="#8aa582" stroke-width="0.55" fill="none" opacity="0.9">
<path d="M293.7 281.9L287 279.8"/>
<path d="M293.7 281.9L288.9 278"/>
<path d="M293.7 281.9L287.7 273"/>
<path d="M293.7 281.9L291.3 273.9"/>
<path d="M293.7 281.9L293.1 271.7"/>
<path d="M293.7 281.9L297.2 272"/>
<path d="M293.7 281.9L299.2 274.9"/>
<path d="M293.7 281.9L300.3 277.2"/>
<path d="M293.7 281.9L300 279.5"/>
</g>
<g fill="#7d9b75">
<ellipse cx="293.7" cy="276" rx="6.4" ry="7.2" opacity="0.22"/>
<circle cx="295.2" cy="268.9" r="1" opacity="0.6"/>
<circle cx="296.5" cy="282.6" r="0.6" opacity="0.6"/>
<circle cx="291.5" cy="281.7" r="0.7" opacity="0.6"/>
<circle cx="299" cy="271.1" r="0.9" opacity="0.6"/>
<circle cx="288.2" cy="279.1" r="1" opacity="0.6"/>
<circle cx="293.6" cy="272.7" r="0.8" opacity="0.6"/>
<circle cx="300.5" cy="275.7" r="0.9" opacity="0.6"/>
<circle cx="292.1" cy="275.2" r="0.9" opacity="0.6"/>
<circle cx="297.6" cy="280.1" r="0.7" opacity="0.6"/>
<circle cx="295.3" cy="272.9" r="0.8" opacity="0.6"/>
<circle cx="295.2" cy="269.8" r="1" opacity="0.6"/>
<circle cx="291.3" cy="278" r="0.9" opacity="0.6"/>
<circle cx="295.6" cy="281.8" r="0.6" opacity="0.6"/>
<circle cx="293" cy="281" r="0.9" opacity="0.6"/>
<circle cx="298.8" cy="280.3" r="0.7" opacity="0.6"/>
<circle cx="291.7" cy="281.6" r="0.8" opacity="0.6"/>
<circle cx="291.5" cy="275.7" r="0.7" opacity="0.6"/>
<circle cx="299.4" cy="274" r="0.9" opacity="0.6"/>
<circle cx="295.1" cy="273.7" r="0.9" opacity="0.6"/>
<circle cx="288.4" cy="277.8" r="0.8" opacity="0.6"/>
<circle cx="288.9" cy="276.6" r="0.6" opacity="0.6"/>
<circle cx="291.8" cy="278.3" r="0.8" opacity="0.6"/>
<circle cx="294.2" cy="278.5" r="0.8" opacity="0.6"/>
<circle cx="298" cy="273.3" r="0.7" opacity="0.6"/>
<circle cx="295.4" cy="271" r="0.7" opacity="0.6"/>
<circle cx="296" cy="272.1" r="0.8" opacity="0.6"/>
<circle cx="294.4" cy="271.2" r="0.9" opacity="0.6"/>
<circle cx="295.4" cy="269.1" r="0.6" opacity="0.6"/>
<circle cx="289.2" cy="275.1" r="0.8" opacity="0.6"/>
<circle cx="296.9" cy="273.7" r="0.7" opacity="0.6"/>
<circle cx="295.2" cy="272.9" r="0.8" opacity="0.6"/>
<circle cx="292.4" cy="268.7" r="0.9" opacity="0.6"/>
<circle cx="287.5" cy="273.5" r="0.9" opacity="0.6"/>
<circle cx="298.3" cy="275.5" r="0.6" opacity="0.6"/>
<circle cx="290.2" cy="278.2" r="0.6" opacity="0.6"/>
<circle cx="299.2" cy="273.8" r="0.7" opacity="0.6"/>
<circle cx="293.1" cy="271.4" r="0.8" opacity="0.6"/>
<circle cx="297.8" cy="281.2" r="0.6" opacity="0.6"/>
<circle cx="293" cy="277.9" r="0.6" opacity="0.6"/>
<circle cx="292.9" cy="274.1" r="0.7" opacity="0.6"/>
<circle cx="292.2" cy="274.1" r="0.9" opacity="0.6"/>
<circle cx="292.3" cy="280.8" r="1" opacity="0.6"/>
<circle cx="292.2" cy="271.7" r="0.7" opacity="0.6"/>
<circle cx="290" cy="278.8" r="0.9" opacity="0.6"/>
<circle cx="299.2" cy="279.3" r="0.8" opacity="0.6"/>
<circle cx="293.8" cy="271.4" r="1" opacity="0.6"/>
</g>
<g stroke="#8ca785" stroke-width="1" fill="none">
<path d="M441 296V279.9"/>
</g><g stroke="#8aa582" stroke-width="0.55" fill="none" opacity="0.9">
<path d="M441 281.9L433.4 279.3"/>
<path d="M441 281.9L434.7 276.7"/>
<path d="M441 281.9L435.6 273.1"/>
<path d="M441 281.9L438.6 272.1"/>
<path d="M441 281.9L441.2 270.8"/>
<path d="M441 281.9L443.6 271.4"/>
<path d="M441 281.9L446.3 274.4"/>
<path d="M441 281.9L446.1 278.4"/>
<path d="M441 281.9L447.6 280.4"/>
</g>
<g fill="#7d9b75">
<ellipse cx="441" cy="276" rx="6.4" ry="7.2" opacity="0.22"/>
<circle cx="437.1" cy="281.8" r="0.7" opacity="0.6"/>
<circle cx="438.4" cy="275.1" r="0.9" opacity="0.6"/>
<circle cx="437.4" cy="277.5" r="1" opacity="0.6"/>
<circle cx="445.7" cy="277.3" r="0.6" opacity="0.6"/>
<circle cx="446.4" cy="280.8" r="0.8" opacity="0.6"/>
<circle cx="440.5" cy="278.5" r="0.8" opacity="0.6"/>
<circle cx="445.4" cy="274.9" r="0.7" opacity="0.6"/>
<circle cx="445.7" cy="281.8" r="0.6" opacity="0.6"/>
<circle cx="437.4" cy="282.1" r="0.6" opacity="0.6"/>
<circle cx="443.8" cy="274.5" r="1" opacity="0.6"/>
<circle cx="442.3" cy="276.1" r="0.6" opacity="0.6"/>
<circle cx="437.4" cy="281.2" r="0.9" opacity="0.6"/>
<circle cx="442.3" cy="270.4" r="0.8" opacity="0.6"/>
<circle cx="438.9" cy="278.8" r="0.9" opacity="0.6"/>
<circle cx="437.1" cy="274.5" r="0.6" opacity="0.6"/>
<circle cx="443.2" cy="280.3" r="0.9" opacity="0.6"/>
<circle cx="437.6" cy="278.4" r="0.6" opacity="0.6"/>
<circle cx="437.1" cy="274.3" r="0.8" opacity="0.6"/>
<circle cx="440.5" cy="268.5" r="0.8" opacity="0.6"/>
<circle cx="444" cy="272.6" r="0.9" opacity="0.6"/>
<circle cx="436.7" cy="279.3" r="0.7" opacity="0.6"/>
<circle cx="445.5" cy="273.3" r="0.9" opacity="0.6"/>
<circle cx="436.5" cy="273.9" r="1" opacity="0.6"/>
<circle cx="435.2" cy="280.3" r="1" opacity="0.6"/>
<circle cx="440.7" cy="277.9" r="0.9" opacity="0.6"/>
<circle cx="445" cy="279.9" r="0.7" opacity="0.6"/>
<circle cx="437.2" cy="270.6" r="0.9" opacity="0.6"/>
<circle cx="438.9" cy="274.9" r="0.9" opacity="0.6"/>
<circle cx="446.6" cy="271.7" r="0.9" opacity="0.6"/>
<circle cx="447" cy="273.2" r="0.7" opacity="0.6"/>
<circle cx="438" cy="272.2" r="1" opacity="0.6"/>
<circle cx="444.4" cy="272.9" r="0.6" opacity="0.6"/>
<circle cx="445.5" cy="280.7" r="0.7" opacity="0.6"/>
<circle cx="445.3" cy="274.4" r="0.7" opacity="0.6"/>
<circle cx="438.7" cy="278.7" r="0.6" opacity="0.6"/>
<circle cx="443.8" cy="272.3" r="0.9" opacity="0.6"/>
<circle cx="436.3" cy="279.4" r="0.8" opacity="0.6"/>
<circle cx="437.9" cy="271.2" r="0.7" opacity="0.6"/>
<circle cx="440.8" cy="283.7" r="0.6" opacity="0.6"/>
<circle cx="437" cy="276.8" r="0.9" opacity="0.6"/>
<circle cx="439.9" cy="282.5" r="0.9" opacity="0.6"/>
<circle cx="443.9" cy="275" r="1" opacity="0.6"/>
<circle cx="443.7" cy="281.4" r="0.9" opacity="0.6"/>
<circle cx="443.4" cy="276.7" r="0.6" opacity="0.6"/>
<circle cx="439.9" cy="283.7" r="0.8" opacity="0.6"/>
<circle cx="435.8" cy="273.4" r="0.9" opacity="0.6"/>
</g>
<g stroke="#8ca785" stroke-width="1" fill="none">
<path d="M350 301V284.9"/>
</g><g stroke="#8aa582" stroke-width="0.55" fill="none" opacity="0.9">
<path d="M350 286.9L343.5 285.2"/>
<path d="M350 286.9L343.6 281.6"/>
<path d="M350 286.9L343.7 278.4"/>
<path d="M350 286.9L346.6 276.3"/>
<path d="M350 286.9L349.7 276.3"/>
<path d="M350 286.9L353.1 275.8"/>
<path d="M350 286.9L356.2 278.4"/>
<path d="M350 286.9L355.8 282.2"/>
<path d="M350 286.9L356.5 285.5"/>
</g>
<g fill="#7d9b75">
<ellipse cx="350" cy="281" rx="6.4" ry="7.2" opacity="0.22"/>
<circle cx="351.7" cy="277.1" r="0.7" opacity="0.6"/>
<circle cx="355.9" cy="283.3" r="0.7" opacity="0.6"/>
<circle cx="344.4" cy="278.7" r="0.6" opacity="0.6"/>
<circle cx="355.3" cy="280.3" r="0.9" opacity="0.6"/>
<circle cx="350.3" cy="284.6" r="0.6" opacity="0.6"/>
<circle cx="349.9" cy="275.7" r="0.8" opacity="0.6"/>
<circle cx="350.5" cy="286.6" r="1" opacity="0.6"/>
<circle cx="353.6" cy="285.9" r="0.7" opacity="0.6"/>
<circle cx="351.1" cy="276.5" r="0.7" opacity="0.6"/>
<circle cx="345.9" cy="278.5" r="1" opacity="0.6"/>
<circle cx="354.5" cy="276.6" r="0.6" opacity="0.6"/>
<circle cx="344.5" cy="276.5" r="0.7" opacity="0.6"/>
<circle cx="343.1" cy="280.2" r="0.8" opacity="0.6"/>
<circle cx="344.7" cy="279.5" r="0.8" opacity="0.6"/>
<circle cx="347.5" cy="275.5" r="0.8" opacity="0.6"/>
<circle cx="348.7" cy="287" r="0.6" opacity="0.6"/>
<circle cx="348.1" cy="275.3" r="1" opacity="0.6"/>
<circle cx="355.2" cy="281.2" r="0.8" opacity="0.6"/>
<circle cx="352.5" cy="285.6" r="0.9" opacity="0.6"/>
<circle cx="345" cy="276.1" r="0.7" opacity="0.6"/>
<circle cx="354.7" cy="281.6" r="0.7" opacity="0.6"/>
<circle cx="350.6" cy="275.9" r="0.9" opacity="0.6"/>
<circle cx="349.9" cy="273.3" r="0.8" opacity="0.6"/>
<circle cx="352.4" cy="274.5" r="0.9" opacity="0.6"/>
<circle cx="352.5" cy="284.6" r="0.9" opacity="0.6"/>
<circle cx="347.3" cy="285.4" r="0.8" opacity="0.6"/>
<circle cx="353.9" cy="280" r="1" opacity="0.6"/>
<circle cx="349.5" cy="283.3" r="0.7" opacity="0.6"/>
<circle cx="344.6" cy="276" r="0.8" opacity="0.6"/>
<circle cx="347" cy="286.8" r="0.7" opacity="0.6"/>
<circle cx="346.5" cy="281.2" r="0.9" opacity="0.6"/>
<circle cx="353.6" cy="281" r="0.6" opacity="0.6"/>
<circle cx="349.1" cy="282.4" r="0.8" opacity="0.6"/>
<circle cx="350.2" cy="288.5" r="0.9" opacity="0.6"/>
<circle cx="344.3" cy="276.7" r="0.7" opacity="0.6"/>
<circle cx="353.3" cy="275.8" r="1" opacity="0.6"/>
<circle cx="351.5" cy="281.2" r="0.7" opacity="0.6"/>
<circle cx="348.3" cy="284" r="0.8" opacity="0.6"/>
<circle cx="356.2" cy="283.6" r="0.9" opacity="0.6"/>
<circle cx="345.2" cy="277" r="0.7" opacity="0.6"/>
<circle cx="353.1" cy="274.6" r="0.6" opacity="0.6"/>
<circle cx="346" cy="281.5" r="0.6" opacity="0.6"/>
<circle cx="351.5" cy="284.4" r="1" opacity="0.6"/>
<circle cx="348.6" cy="278.2" r="0.8" opacity="0.6"/>
<circle cx="350.1" cy="274.6" r="0.9" opacity="0.6"/>
<circle cx="348.9" cy="282.2" r="0.8" opacity="0.6"/>
</g>
<g stroke="#8ca785" stroke-width="1" fill="none">
<path d="M285 303V286.9"/>
</g><g stroke="#8aa582" stroke-width="0.55" fill="none" opacity="0.9">
<path d="M285 288.9L279.2 287.7"/>
<path d="M285 288.9L278.8 283.4"/>
<path d="M285 288.9L279.2 279.4"/>
<path d="M285 288.9L282 278.5"/>
<path d="M285 288.9L285.7 277.3"/>
<path d="M285 288.9L287.7 280.1"/>
<path d="M285 288.9L289.9 282.1"/>
<path d="M285 288.9L290.1 285.1"/>
<path d="M285 288.9L292.1 286.7"/>
</g>
<g fill="#7d9b75">
<ellipse cx="285" cy="283" rx="6.4" ry="7.2" opacity="0.22"/>
<circle cx="285.4" cy="275.6" r="0.9" opacity="0.6"/>
<circle cx="282.2" cy="285.3" r="0.7" opacity="0.6"/>
<circle cx="281.5" cy="276.6" r="0.9" opacity="0.6"/>
<circle cx="279" cy="282.1" r="0.8" opacity="0.6"/>
<circle cx="281.6" cy="282.8" r="0.6" opacity="0.6"/>
<circle cx="283.1" cy="282" r="0.7" opacity="0.6"/>
<circle cx="287.4" cy="282" r="0.7" opacity="0.6"/>
<circle cx="285.8" cy="289.8" r="1" opacity="0.6"/>
<circle cx="283.9" cy="289.6" r="1" opacity="0.6"/>
<circle cx="282.3" cy="281.5" r="0.7" opacity="0.6"/>
<circle cx="280.4" cy="279" r="0.9" opacity="0.6"/>
<circle cx="280.2" cy="279.3" r="0.7" opacity="0.6"/>
<circle cx="283.4" cy="279.5" r="0.6" opacity="0.6"/>
<circle cx="289.7" cy="279.8" r="0.7" opacity="0.6"/>
<circle cx="284.1" cy="276.6" r="1" opacity="0.6"/>
<circle cx="282.2" cy="281" r="0.9" opacity="0.6"/>
<circle cx="290.5" cy="281.6" r="1" opacity="0.6"/>
<circle cx="287.2" cy="286.3" r="0.8" opacity="0.6"/>
<circle cx="289.6" cy="286.8" r="0.7" opacity="0.6"/>
<circle cx="287.9" cy="280.9" r="0.6" opacity="0.6"/>
<circle cx="291.4" cy="281.3" r="1" opacity="0.6"/>
<circle cx="286" cy="281.7" r="0.6" opacity="0.6"/>
<circle cx="283.3" cy="280.5" r="1" opacity="0.6"/>
<circle cx="285.6" cy="279.3" r="1" opacity="0.6"/>
<circle cx="280" cy="282.7" r="0.7" opacity="0.6"/>
<circle cx="285.5" cy="276.5" r="0.8" opacity="0.6"/>
<circle cx="286.3" cy="281.3" r="0.9" opacity="0.6"/>
<circle cx="280.5" cy="288.5" r="0.8" opacity="0.6"/>
<circle cx="291.5" cy="281.1" r="0.6" opacity="0.6"/>
<circle cx="284.1" cy="280.9" r="1" opacity="0.6"/>
<circle cx="291" cy="282.3" r="0.7" opacity="0.6"/>
<circle cx="290.9" cy="286.3" r="0.8" opacity="0.6"/>
<circle cx="289.2" cy="282.9" r="0.7" opacity="0.6"/>
<circle cx="283.5" cy="290.6" r="0.7" opacity="0.6"/>
<circle cx="285.7" cy="279.3" r="0.7" opacity="0.6"/>
<circle cx="290.6" cy="280.3" r="0.7" opacity="0.6"/>
<circle cx="287.3" cy="276.5" r="1" opacity="0.6"/>
<circle cx="284.7" cy="277.6" r="0.6" opacity="0.6"/>
<circle cx="283.9" cy="279.8" r="1" opacity="0.6"/>
<circle cx="286.3" cy="284.6" r="0.9" opacity="0.6"/>
<circle cx="280.6" cy="288.2" r="0.6" opacity="0.6"/>
<circle cx="282.4" cy="282" r="0.6" opacity="0.6"/>
<circle cx="278.3" cy="282.9" r="0.9" opacity="0.6"/>
<circle cx="289.1" cy="288.3" r="0.6" opacity="0.6"/>
<circle cx="282.7" cy="290.3" r="0.9" opacity="0.6"/>
<circle cx="278.1" cy="283.8" r="0.7" opacity="0.6"/>
</g>
<g stroke="#8ca785" stroke-width="1" fill="none">
<path d="M342.5 311V294.9"/>
</g><g stroke="#8aa582" stroke-width="0.55" fill="none" opacity="0.9">
<path d="M342.5 296.9L335.1 294.9"/>
<path d="M342.5 296.9L335.7 291.9"/>
<path d="M342.5 296.9L337.7 290.5"/>
<path d="M342.5 296.9L339.7 287.7"/>
<path d="M342.5 296.9L343.1 288.3"/>
<path d="M342.5 296.9L345.6 286.5"/>
<path d="M342.5 296.9L347.7 290.1"/>
<path d="M342.5 296.9L347.5 293.2"/>
<path d="M342.5 296.9L348.7 294.5"/>
</g>
<g fill="#7d9b75">
<ellipse cx="342.5" cy="291" rx="6.4" ry="7.2" opacity="0.22"/>
<circle cx="348.6" cy="292.7" r="0.7" opacity="0.6"/>
<circle cx="335.9" cy="288.7" r="0.8" opacity="0.6"/>
<circle cx="338" cy="288.1" r="0.6" opacity="0.6"/>
<circle cx="336.6" cy="288.1" r="0.6" opacity="0.6"/>
<circle cx="338.6" cy="289.2" r="0.7" opacity="0.6"/>
<circle cx="346.9" cy="286.7" r="0.7" opacity="0.6"/>
<circle cx="341.4" cy="284.9" r="0.6" opacity="0.6"/>
<circle cx="337.2" cy="288.6" r="0.8" opacity="0.6"/>
<circle cx="338.2" cy="290.8" r="1" opacity="0.6"/>
<circle cx="346.8" cy="291.2" r="0.8" opacity="0.6"/>
<circle cx="338.9" cy="295.3" r="0.9" opacity="0.6"/>
<circle cx="343.6" cy="288.1" r="0.8" opacity="0.6"/>
<circle cx="345.5" cy="295.1" r="0.8" opacity="0.6"/>
<circle cx="343.8" cy="287.8" r="0.9" opacity="0.6"/>
<circle cx="337.9" cy="295.6" r="0.7" opacity="0.6"/>
<circle cx="339.8" cy="292.9" r="0.7" opacity="0.6"/>
<circle cx="338.6" cy="290.9" r="1" opacity="0.6"/>
<circle cx="345.8" cy="284.7" r="0.8" opacity="0.6"/>
<circle cx="337.4" cy="291.3" r="0.7" opacity="0.6"/>
<circle cx="340.8" cy="295.3" r="0.7" opacity="0.6"/>
<circle cx="339" cy="289.1" r="0.8" opacity="0.6"/>
<circle cx="344.4" cy="287.6" r="0.7" opacity="0.6"/>
<circle cx="345.8" cy="290.8" r="0.9" opacity="0.6"/>
<circle cx="341" cy="293.1" r="1" opacity="0.6"/>
<circle cx="347.4" cy="285.8" r="0.9" opacity="0.6"/>
<circle cx="341.7" cy="284.2" r="0.7" opacity="0.6"/>
<circle cx="336.3" cy="287.7" r="0.8" opacity="0.6"/>
<circle cx="337.5" cy="293.3" r="0.6" opacity="0.6"/>
<circle cx="342.8" cy="296.3" r="0.6" opacity="0.6"/>
<circle cx="336.9" cy="288.4" r="1" opacity="0.6"/>
<circle cx="341.4" cy="295.3" r="0.9" opacity="0.6"/>
<circle cx="345.5" cy="286.8" r="0.7" opacity="0.6"/>
<circle cx="348.4" cy="291" r="0.8" opacity="0.6"/>
<circle cx="339.6" cy="294.9" r="0.6" opacity="0.6"/>
<circle cx="338.1" cy="287.4" r="1" opacity="0.6"/>
<circle cx="336.9" cy="286.5" r="0.7" opacity="0.6"/>
<circle cx="339.3" cy="287.7" r="0.9" opacity="0.6"/>
<circle cx="340.4" cy="284.6" r="0.8" opacity="0.6"/>
<circle cx="336.7" cy="294.1" r="0.6" opacity="0.6"/>
<circle cx="339.6" cy="293.9" r="0.7" opacity="0.6"/>
<circle cx="344.2" cy="283.4" r="0.9" opacity="0.6"/>
<circle cx="342.4" cy="284.3" r="0.7" opacity="0.6"/>
<circle cx="343" cy="293" r="0.7" opacity="0.6"/>
<circle cx="342.1" cy="297.8" r="1" opacity="0.6"/>
<circle cx="344.2" cy="293.2" r="0.6" opacity="0.6"/>
<circle cx="343.7" cy="283.4" r="0.6" opacity="0.6"/>
</g>
<g stroke="#8ca785" stroke-width="1" fill="none">
<path d="M323.7 321V304.9"/>
</g><g stroke="#8aa582" stroke-width="0.55" fill="none" opacity="0.9">
<path d="M323.7 306.9L316.7 304.4"/>
<path d="M323.7 306.9L318.9 302.8"/>
<path d="M323.7 306.9L319.6 299.8"/>
<path d="M323.7 306.9L320.1 296.6"/>
<path d="M323.7 306.9L324.2 296.5"/>
<path d="M323.7 306.9L326.5 296.8"/>
<path d="M323.7 306.9L328.7 299.7"/>
<path d="M323.7 306.9L328.8 302.6"/>
<path d="M323.7 306.9L330.7 305.4"/>
</g>
<g fill="#7d9b75">
<ellipse cx="323.7" cy="301" rx="6.4" ry="7.2" opacity="0.22"/>
<circle cx="324.3" cy="307.7" r="0.7" opacity="0.6"/>
<circle cx="319.4" cy="298.3" r="0.6" opacity="0.6"/>
<circle cx="328.6" cy="305.3" r="0.9" opacity="0.6"/>
<circle cx="325.9" cy="304.2" r="0.8" opacity="0.6"/>
<circle cx="323.8" cy="304.1" r="0.8" opacity="0.6"/>
<circle cx="327.9" cy="305.5" r="0.6" opacity="0.6"/>
<circle cx="325.1" cy="297.6" r="0.7" opacity="0.6"/>
<circle cx="320.7" cy="302.9" r="0.7" opacity="0.6"/>
<circle cx="318.8" cy="296.3" r="0.8" opacity="0.6"/>
<circle cx="318.6" cy="305.4" r="0.6" opacity="0.6"/>
<circle cx="323.4" cy="303.9" r="0.7" opacity="0.6"/>
<circle cx="327.6" cy="295.5" r="0.7" opacity="0.6"/>
<circle cx="321.7" cy="300.7" r="0.6" opacity="0.6"/>
<circle cx="326.9" cy="305.2" r="0.8" opacity="0.6"/>
<circle cx="326" cy="296.8" r="0.8" opacity="0.6"/>
<circle cx="319.7" cy="302.9" r="0.6" opacity="0.6"/>
<circle cx="322.3" cy="304.6" r="0.9" opacity="0.6"/>
<circle cx="321.3" cy="295" r="0.8" opacity="0.6"/>
<circle cx="320.5" cy="304.2" r="0.7" opacity="0.6"/>
<circle cx="320.6" cy="298.3" r="0.7" opacity="0.6"/>
<circle cx="323.7" cy="296.8" r="0.7" opacity="0.6"/>
<circle cx="320.4" cy="298.4" r="0.9" opacity="0.6"/>
<circle cx="321.2" cy="306.9" r="0.6" opacity="0.6"/>
<circle cx="325.2" cy="304.4" r="0.9" opacity="0.6"/>
<circle cx="323.1" cy="296.3" r="0.6" opacity="0.6"/>
<circle cx="320.2" cy="297.3" r="0.7" opacity="0.6"/>
<circle cx="327.3" cy="298.9" r="0.6" opacity="0.6"/>
<circle cx="328" cy="302.6" r="0.8" opacity="0.6"/>
<circle cx="317.8" cy="297.4" r="0.6" opacity="0.6"/>
<circle cx="322.8" cy="297.3" r="0.8" opacity="0.6"/>
<circle cx="328.1" cy="299.6" r="0.6" opacity="0.6"/>
<circle cx="328.2" cy="299.7" r="0.6" opacity="0.6"/>
<circle cx="321.8" cy="306.4" r="0.9" opacity="0.6"/>
<circle cx="317.3" cy="300" r="0.6" opacity="0.6"/>
<circle cx="325" cy="295" r="0.7" opacity="0.6"/>
<circle cx="318.7" cy="305.9" r="0.8" opacity="0.6"/>
<circle cx="319.7" cy="303.1" r="0.8" opacity="0.6"/>
<circle cx="328.7" cy="303" r="0.6" opacity="0.6"/>
<circle cx="328.3" cy="304.2" r="0.8" opacity="0.6"/>
<circle cx="319.4" cy="298.9" r="0.7" opacity="0.6"/>
<circle cx="318.3" cy="303" r="0.8" opacity="0.6"/>
<circle cx="327.8" cy="306.7" r="0.7" opacity="0.6"/>
<circle cx="323.9" cy="307" r="0.6" opacity="0.6"/>
<circle cx="324.6" cy="295.9" r="0.6" opacity="0.6"/>
<circle cx="327.8" cy="305.8" r="0.7" opacity="0.6"/>
<circle cx="320.3" cy="298.7" r="0.6" opacity="0.6"/>
</g>
<g stroke="#8ca785" stroke-width="1" fill="none">
<path d="M235 332.5V316.4"/>
</g><g stroke="#8aa582" stroke-width="0.55" fill="none" opacity="0.9">
<path d="M235 318.4L228.5 316.3"/>
<path d="M235 318.4L230.1 314.4"/>
<path d="M235 318.4L230 310.5"/>
<path d="M235 318.4L233 310"/>
<path d="M235 318.4L235.6 308.9"/>
<path d="M235 318.4L237.9 308"/>
<path d="M235 318.4L239.6 310.7"/>
<path d="M235 318.4L241.5 313.4"/>
<path d="M235 318.4L241.7 317"/>
</g>
<g fill="#7d9b75">
<ellipse cx="235" cy="312.5" rx="6.4" ry="7.2" opacity="0.22"/>
<circle cx="231" cy="313.7" r="0.8" opacity="0.6"/>
<circle cx="239.1" cy="311.7" r="0.7" opacity="0.6"/>
<circle cx="238.7" cy="315.4" r="0.9" opacity="0.6"/>
<circle cx="239.4" cy="306.4" r="0.7" opacity="0.6"/>
<circle cx="236.1" cy="315.1" r="0.8" opacity="0.6"/>
<circle cx="237" cy="315.4" r="0.6" opacity="0.6"/>
<circle cx="230.2" cy="310" r="0.6" opacity="0.6"/>
<circle cx="232.7" cy="306.5" r="0.9" opacity="0.6"/>
<circle cx="235.5" cy="309.5" r="0.7" opacity="0.6"/>
<circle cx="232.1" cy="312.5" r="0.7" opacity="0.6"/>
<circle cx="241.4" cy="312.2" r="0.7" opacity="0.6"/>
<circle cx="235.6" cy="308.5" r="0.9" opacity="0.6"/>
<circle cx="236.4" cy="305.8" r="1" opacity="0.6"/>
<circle cx="235.8" cy="310.7" r="0.9" opacity="0.6"/>
<circle cx="234.3" cy="306.8" r="0.7" opacity="0.6"/>
<circle cx="237.8" cy="315.5" r="0.9" opacity="0.6"/>
<circle cx="233.5" cy="314.6" r="0.7" opacity="0.6"/>
<circle cx="231.6" cy="314.7" r="0.7" opacity="0.6"/>
<circle cx="239.3" cy="315.4" r="0.6" opacity="0.6"/>
<circle cx="240.8" cy="311.5" r="0.9" opacity="0.6"/>
<circle cx="239.8" cy="308.5" r="0.9" opacity="0.6"/>
<circle cx="230.2" cy="311.3" r="0.6" opacity="0.6"/>
<circle cx="239" cy="317.5" r="0.8" opacity="0.6"/>
<circle cx="231.7" cy="318.5" r="0.8" opacity="0.6"/>
<circle cx="238" cy="312.8" r="0.8" opacity="0.6"/>
<circle cx="231.4" cy="317.7" r="0.8" opacity="0.6"/>
<circle cx="229.1" cy="311.5" r="0.6" opacity="0.6"/>
<circle cx="239.1" cy="314.3" r="0.9" opacity="0.6"/>
<circle cx="232.5" cy="318.4" r="0.6" opacity="0.6"/>
<circle cx="230.1" cy="312.8" r="0.8" opacity="0.6"/>
<circle cx="236.6" cy="310.2" r="0.6" opacity="0.6"/>
<circle cx="230.7" cy="306.7" r="0.6" opacity="0.6"/>
<circle cx="234.1" cy="305.5" r="0.7" opacity="0.6"/>
<circle cx="239" cy="309.2" r="0.8" opacity="0.6"/>
<circle cx="231.5" cy="313.7" r="0.9" opacity="0.6"/>
<circle cx="235.7" cy="305.9" r="0.9" opacity="0.6"/>
<circle cx="236.6" cy="310" r="0.8" opacity="0.6"/>
<circle cx="234.1" cy="319.7" r="0.8" opacity="0.6"/>
<circle cx="233.7" cy="311.2" r="0.9" opacity="0.6"/>
<circle cx="233.3" cy="308.1" r="0.9" opacity="0.6"/>
<circle cx="235.5" cy="315.6" r="0.6" opacity="0.6"/>
<circle cx="236.3" cy="316.4" r="0.9" opacity="0.6"/>
<circle cx="232.5" cy="309.7" r="0.7" opacity="0.6"/>
<circle cx="240" cy="316.3" r="0.8" opacity="0.6"/>
<circle cx="236.8" cy="318.2" r="0.9" opacity="0.6"/>
<circle cx="231.9" cy="307.2" r="0.9" opacity="0.6"/>
</g>
<g stroke="#8ca785" stroke-width="1" fill="none">
<path d="M228.5 336.5V320.4"/>
</g><g stroke="#8aa582" stroke-width="0.55" fill="none" opacity="0.9">
<path d="M228.5 322.4L222.7 320.5"/>
<path d="M228.5 322.4L221.6 317.6"/>
<path d="M228.5 322.4L223.4 315.4"/>
<path d="M228.5 322.4L226.3 313.1"/>
<path d="M228.5 322.4L228.8 311.9"/>
<path d="M228.5 322.4L230.6 313.1"/>
<path d="M228.5 322.4L233.5 315.2"/>
<path d="M228.5 322.4L234 318.6"/>
<path d="M228.5 322.4L235 320"/>
</g>
<g fill="#7d9b75">
<ellipse cx="228.5" cy="316.5" rx="6.4" ry="7.2" opacity="0.22"/>
<circle cx="233.1" cy="321.3" r="0.6" opacity="0.6"/>
<circle cx="231" cy="313.6" r="0.7" opacity="0.6"/>
<circle cx="226.2" cy="318.3" r="0.9" opacity="0.6"/>
<circle cx="225.3" cy="312.3" r="0.8" opacity="0.6"/>
<circle cx="224.9" cy="316.3" r="0.9" opacity="0.6"/>
<circle cx="225.6" cy="314.2" r="0.8" opacity="0.6"/>
<circle cx="226.3" cy="322.9" r="1" opacity="0.6"/>
<circle cx="226.2" cy="310.8" r="0.9" opacity="0.6"/>
<circle cx="230.5" cy="317.7" r="0.9" opacity="0.6"/>
<circle cx="230.3" cy="309.1" r="0.8" opacity="0.6"/>
<circle cx="221.9" cy="315.8" r="0.6" opacity="0.6"/>
<circle cx="227.1" cy="319.2" r="0.7" opacity="0.6"/>
<circle cx="231.1" cy="317.3" r="0.7" opacity="0.6"/>
<circle cx="222.6" cy="320.5" r="0.8" opacity="0.6"/>
<circle cx="223.1" cy="311.7" r="0.6" opacity="0.6"/>
<circle cx="222.2" cy="320" r="0.8" opacity="0.6"/>
<circle cx="226.9" cy="322.4" r="0.9" opacity="0.6"/>
<circle cx="226.5" cy="312.8" r="0.7" opacity="0.6"/>
<circle cx="228.1" cy="314.2" r="0.8" opacity="0.6"/>
<circle cx="234" cy="319.3" r="0.8" opacity="0.6"/>
<circle cx="223.3" cy="317.7" r="0.8" opacity="0.6"/>
<circle cx="234.7" cy="313.4" r="0.6" opacity="0.6"/>
<circle cx="228.9" cy="310.4" r="0.9" opacity="0.6"/>
<circle cx="222.5" cy="316.8" r="0.6" opacity="0.6"/>
<circle cx="230" cy="316.9" r="0.6" opacity="0.6"/>
<circle cx="224.5" cy="322.3" r="0.6" opacity="0.6"/>
<circle cx="228.6" cy="308.7" r="0.8" opacity="0.6"/>
<circle cx="231.1" cy="317.2" r="0.9" opacity="0.6"/>
<circle cx="228.9" cy="322.6" r="0.9" opacity="0.6"/>
<circle cx="232.1" cy="312.1" r="0.8" opacity="0.6"/>
<circle cx="231.3" cy="315.3" r="0.6" opacity="0.6"/>
<circle cx="224.1" cy="312.8" r="1" opacity="0.6"/>
<circle cx="231.6" cy="317.7" r="0.8" opacity="0.6"/>
<circle cx="226.4" cy="310" r="0.7" opacity="0.6"/>
<circle cx="228.4" cy="323.9" r="0.6" opacity="0.6"/>
<circle cx="232.6" cy="321.8" r="0.6" opacity="0.6"/>
<circle cx="233" cy="319.6" r="0.7" opacity="0.6"/>
<circle cx="226.6" cy="310" r="0.6" opacity="0.6"/>
<circle cx="221.7" cy="315" r="0.8" opacity="0.6"/>
<circle cx="223.7" cy="312.7" r="0.7" opacity="0.6"/>
<circle cx="225.1" cy="318.2" r="0.8" opacity="0.6"/>
<circle cx="223.2" cy="318.9" r="0.8" opacity="0.6"/>
<circle cx="228.3" cy="318.1" r="0.9" opacity="0.6"/>
<circle cx="223.1" cy="314" r="1" opacity="0.6"/>
<circle cx="224.2" cy="312" r="0.8" opacity="0.6"/>
<circle cx="223.1" cy="319.5" r="0.7" opacity="0.6"/>
</g>
<g stroke="#8ca785" stroke-width="1" fill="none">
<path d="M222 340V323.9"/>
</g><g stroke="#8aa582" stroke-width="0.55" fill="none" opacity="0.9">
<path d="M222 325.9L215.5 324.5"/>
<path d="M222 325.9L216.9 322.5"/>
<path d="M222 325.9L217.4 318.3"/>
<path d="M222 325.9L218.3 315.5"/>
<path d="M222 325.9L221.8 315.6"/>
<path d="M222 325.9L224.2 317.6"/>
<path d="M222 325.9L226.9 318"/>
<path d="M222 325.9L227.6 321.6"/>
<path d="M222 325.9L229.5 323.7"/>
</g>
<g fill="#7d9b75">
<ellipse cx="222" cy="320" rx="6.4" ry="7.2" opacity="0.22"/>
<circle cx="218.4" cy="320.2" r="0.6" opacity="0.6"/>
<circle cx="215.6" cy="323.1" r="0.8" opacity="0.6"/>
<circle cx="223.8" cy="322" r="0.6" opacity="0.6"/>
<circle cx="225.9" cy="315.6" r="0.7" opacity="0.6"/>
<circle cx="226.1" cy="318.1" r="0.9" opacity="0.6"/>
<circle cx="223.6" cy="316" r="0.8" opacity="0.6"/>
<circle cx="219.1" cy="326.4" r="0.7" opacity="0.6"/>
<circle cx="224.1" cy="327.1" r="0.7" opacity="0.6"/>
<circle cx="219.5" cy="318.4" r="0.6" opacity="0.6"/>
<circle cx="222.3" cy="312.7" r="0.7" opacity="0.6"/>
<circle cx="222.5" cy="312.9" r="0.7" opacity="0.6"/>
<circle cx="226.8" cy="325.4" r="0.8" opacity="0.6"/>
<circle cx="222.8" cy="322.4" r="0.7" opacity="0.6"/>
<circle cx="221.6" cy="324" r="0.6" opacity="0.6"/>
<circle cx="221.4" cy="323.2" r="0.8" opacity="0.6"/>
<circle cx="225" cy="324.2" r="0.6" opacity="0.6"/>
<circle cx="222.7" cy="315.5" r="0.8" opacity="0.6"/>
<circle cx="221.6" cy="321.7" r="0.7" opacity="0.6"/>
<circle cx="226" cy="318.1" r="0.7" opacity="0.6"/>
<circle cx="220" cy="315.4" r="0.8" opacity="0.6"/>
<circle cx="226.3" cy="318.5" r="1" opacity="0.6"/>
<circle cx="221.7" cy="315.9" r="0.8" opacity="0.6"/>
<circle cx="227.1" cy="322.6" r="0.7" opacity="0.6"/>
<circle cx="223.3" cy="323.2" r="0.9" opacity="0.6"/>
<circle cx="217.4" cy="319.9" r="1" opacity="0.6"/>
<circle cx="223.2" cy="313.7" r="0.7" opacity="0.6"/>
<circle cx="219.7" cy="325.4" r="1" opacity="0.6"/>
<circle cx="224.6" cy="314.6" r="0.9" opacity="0.6"/>
<circle cx="224.5" cy="326.5" r="0.8" opacity="0.6"/>
<circle cx="218.6" cy="323.5" r="1" opacity="0.6"/>
<circle cx="224.3" cy="324.3" r="0.9" opacity="0.6"/>
<circle cx="217.2" cy="316.2" r="0.6" opacity="0.6"/>
<circle cx="216.4" cy="323.3" r="0.9" opacity="0.6"/>
<circle cx="225.8" cy="325.1" r="0.6" opacity="0.6"/>
<circle cx="224" cy="315.3" r="0.9" opacity="0.6"/>
<circle cx="215.8" cy="322.3" r="0.6" opacity="0.6"/>
<circle cx="219.8" cy="316" r="0.7" opacity="0.6"/>
<circle cx="224.5" cy="315.8" r="0.8" opacity="0.6"/>
<circle cx="220.1" cy="322.8" r="0.7" opacity="0.6"/>
<circle cx="219.7" cy="314.3" r="0.9" opacity="0.6"/>
<circle cx="225.3" cy="323.9" r="0.7" opacity="0.6"/>
<circle cx="228.4" cy="321.6" r="0.7" opacity="0.6"/>
<circle cx="219.8" cy="323.9" r="1" opacity="0.6"/>
<circle cx="226.3" cy="318.1" r="0.6" opacity="0.6"/>
<circle cx="222.1" cy="326.7" r="0.9" opacity="0.6"/>
<circle cx="222.1" cy="326.2" r="0.7" opacity="0.6"/>
</g>
<g stroke="#8ca785" stroke-width="1" fill="none">
<path d="M271 355.5V339.4"/>
</g><g stroke="#8aa582" stroke-width="0.55" fill="none" opacity="0.9">
<path d="M271 341.4L263.6 338.9"/>
<path d="M271 341.4L264.6 337.2"/>
<path d="M271 341.4L265.7 334.5"/>
<path d="M271 341.4L268 331.1"/>
<path d="M271 341.4L271.2 331.6"/>
<path d="M271 341.4L274 332.5"/>
<path d="M271 341.4L276.4 332.7"/>
<path d="M271 341.4L276.6 337.2"/>
<path d="M271 341.4L277.7 339.3"/>
</g>
<g fill="#7d9b75">
<ellipse cx="271" cy="335.5" rx="6.4" ry="7.2" opacity="0.22"/>
<circle cx="272.4" cy="336" r="0.8" opacity="0.6"/>
<circle cx="273.8" cy="341.1" r="0.6" opacity="0.6"/>
<circle cx="265.9" cy="339.2" r="0.9" opacity="0.6"/>
<circle cx="266.3" cy="331.9" r="1" opacity="0.6"/>
<circle cx="269.3" cy="341.3" r="0.7" opacity="0.6"/>
<circle cx="270.4" cy="330.4" r="0.8" opacity="0.6"/>
<circle cx="274.7" cy="330.7" r="0.8" opacity="0.6"/>
<circle cx="267.3" cy="338.1" r="1" opacity="0.6"/>
<circle cx="274.7" cy="331.4" r="0.8" opacity="0.6"/>
<circle cx="265.3" cy="336.8" r="0.7" opacity="0.6"/>
<circle cx="272.4" cy="328.4" r="0.6" opacity="0.6"/>
<circle cx="266.7" cy="337.7" r="0.7" opacity="0.6"/>
<circle cx="272.2" cy="341.7" r="0.7" opacity="0.6"/>
<circle cx="275.5" cy="337.9" r="0.9" opacity="0.6"/>
<circle cx="265.9" cy="333.5" r="0.8" opacity="0.6"/>
<circle cx="269.6" cy="332" r="0.8" opacity="0.6"/>
<circle cx="275.4" cy="337.4" r="0.7" opacity="0.6"/>
<circle cx="267.3" cy="337" r="0.8" opacity="0.6"/>
<circle cx="269.5" cy="328.4" r="0.7" opacity="0.6"/>
<circle cx="273.2" cy="337.5" r="0.9" opacity="0.6"/>
<circle cx="277.1" cy="337.2" r="0.9" opacity="0.6"/>
<circle cx="269.4" cy="328.3" r="0.8" opacity="0.6"/>
<circle cx="274.2" cy="342" r="0.7" opacity="0.6"/>
<circle cx="272.8" cy="329.2" r="0.6" opacity="0.6"/>
<circle cx="266.8" cy="339.6" r="0.9" opacity="0.6"/>
<circle cx="271.2" cy="342.2" r="0.8" opacity="0.6"/>
<circle cx="276.8" cy="339.2" r="0.6" opacity="0.6"/>
<circle cx="276.2" cy="340.7" r="0.8" opacity="0.6"/>
<circle cx="267.7" cy="340.2" r="0.8" opacity="0.6"/>
<circle cx="271" cy="330.8" r="0.6" opacity="0.6"/>
<circle cx="268.4" cy="335.1" r="0.8" opacity="0.6"/>
<circle cx="267.7" cy="337.5" r="0.9" opacity="0.6"/>
<circle cx="268.9" cy="340.8" r="0.8" opacity="0.6"/>
<circle cx="272.6" cy="330.4" r="0.9" opacity="0.6"/>
<circle cx="272.7" cy="328.5" r="0.8" opacity="0.6"/>
<circle cx="273.9" cy="329.5" r="0.6" opacity="0.6"/>
<circle cx="265.9" cy="330.9" r="0.7" opacity="0.6"/>
<circle cx="266.7" cy="330.7" r="0.9" opacity="0.6"/>
<circle cx="264.5" cy="334.3" r="0.9" opacity="0.6"/>
<circle cx="265.2" cy="333.1" r="0.9" opacity="0.6"/>
<circle cx="274.1" cy="340" r="0.9" opacity="0.6"/>
<circle cx="272" cy="331.2" r="0.7" opacity="0.6"/>
<circle cx="265.1" cy="336.1" r="0.9" opacity="0.6"/>
<circle cx="276.7" cy="338.3" r="0.7" opacity="0.6"/>
<circle cx="274.3" cy="330" r="0.6" opacity="0.6"/>
<circle cx="271.5" cy="336.8" r="0.7" opacity="0.6"/>
</g>
<g stroke="#8ca785" stroke-width="1" fill="none">
<path d="M263 360V343.9"/>
</g><g stroke="#8aa582" stroke-width="0.55" fill="none" opacity="0.9">
<path d="M263 345.9L257.4 343.8"/>
<path d="M263 345.9L256.5 340.5"/>
<path d="M263 345.9L258.4 338.4"/>
<path d="M263 345.9L260.9 336.8"/>
<path d="M263 345.9L263.2 335.5"/>
<path d="M263 345.9L266.2 335.5"/>
<path d="M263 345.9L268.8 336.6"/>
<path d="M263 345.9L268.5 342"/>
<path d="M263 345.9L270.2 343.3"/>
</g>
<g fill="#7d9b75">
<ellipse cx="263" cy="340" rx="6.4" ry="7.2" opacity="0.22"/>
<circle cx="257.7" cy="341.1" r="0.7" opacity="0.6"/>
<circle cx="263.8" cy="343" r="0.7" opacity="0.6"/>
<circle cx="262.6" cy="344.1" r="0.8" opacity="0.6"/>
<circle cx="261.9" cy="346.9" r="0.9" opacity="0.6"/>
<circle cx="262.2" cy="342.3" r="1" opacity="0.6"/>
<circle cx="256.2" cy="341.7" r="0.6" opacity="0.6"/>
<circle cx="259.2" cy="345.7" r="0.7" opacity="0.6"/>
<circle cx="260" cy="335.7" r="0.8" opacity="0.6"/>
<circle cx="266.3" cy="345.1" r="0.9" opacity="0.6"/>
<circle cx="261.1" cy="333.1" r="0.9" opacity="0.6"/>
<circle cx="261.3" cy="342.6" r="0.8" opacity="0.6"/>
<circle cx="263.1" cy="346.4" r="0.8" opacity="0.6"/>
<circle cx="261.3" cy="333.4" r="0.6" opacity="0.6"/>
<circle cx="260.8" cy="343.4" r="0.7" opacity="0.6"/>
<circle cx="257.2" cy="342.8" r="1" opacity="0.6"/>
<circle cx="261.6" cy="346.9" r="0.9" opacity="0.6"/>
<circle cx="263.4" cy="346.8" r="1" opacity="0.6"/>
<circle cx="265" cy="337.3" r="0.7" opacity="0.6"/>
<circle cx="261.8" cy="341.1" r="0.8" opacity="0.6"/>
<circle cx="256.2" cy="338.3" r="1" opacity="0.6"/>
<circle cx="265.8" cy="345.3" r="0.7" opacity="0.6"/>
<circle cx="259.4" cy="337" r="0.6" opacity="0.6"/>
<circle cx="256.2" cy="342" r="0.9" opacity="0.6"/>
<circle cx="263" cy="344.3" r="0.6" opacity="0.6"/>
<circle cx="264.1" cy="333.2" r="0.8" opacity="0.6"/>
<circle cx="266.1" cy="335.4" r="0.7" opacity="0.6"/>
<circle cx="264.8" cy="341.2" r="0.9" opacity="0.6"/>
<circle cx="264.2" cy="336.4" r="1" opacity="0.6"/>
<circle cx="261.2" cy="345.6" r="0.9" opacity="0.6"/>
<circle cx="259.5" cy="345.6" r="0.9" opacity="0.6"/>
<circle cx="259.1" cy="345.4" r="0.9" opacity="0.6"/>
<circle cx="268.4" cy="343.3" r="0.9" opacity="0.6"/>
<circle cx="268.2" cy="336.6" r="0.7" opacity="0.6"/>
<circle cx="261" cy="337" r="0.8" opacity="0.6"/>
<circle cx="260.8" cy="342" r="0.7" opacity="0.6"/>
<circle cx="258.8" cy="335.8" r="0.8" opacity="0.6"/>
<circle cx="259.3" cy="342.7" r="1" opacity="0.6"/>
<circle cx="268.5" cy="344.1" r="0.9" opacity="0.6"/>
<circle cx="256.4" cy="342.7" r="0.8" opacity="0.6"/>
<circle cx="266.9" cy="335.2" r="0.6" opacity="0.6"/>
<circle cx="267.8" cy="343.9" r="0.9" opacity="0.6"/>
<circle cx="267.1" cy="342.3" r="0.9" opacity="0.6"/>
<circle cx="263.7" cy="342.8" r="0.7" opacity="0.6"/>
<circle cx="266" cy="339.1" r="0.9" opacity="0.6"/>
<circle cx="263.1" cy="342.2" r="0.7" opacity="0.6"/>
<circle cx="258.9" cy="339.9" r="0.7" opacity="0.6"/>
</g>
<polygon points="309.5,308.8 319,302.6 322.6,305.5 313.1,311.7" fill="#fff" stroke="#3a3a3a" stroke-width="0.7" stroke-linejoin="round"/>
<polygon points="309.5,307.6 319,301.4 322.6,304.3 313.1,310.5" fill="#fff" stroke="#3a3a3a" stroke-width="0.6" stroke-linejoin="round"/>
<polygon points="312.4,304.8 316.6,302.1 319.2,304.2 315,306.9" fill="#fff" stroke="#3a3a3a" stroke-width="0.45" stroke-linejoin="round"/>
<polygon points="405.5,239.8 415,233.6 418.6,236.5 409.1,242.7" fill="#fff" stroke="#3a3a3a" stroke-width="0.7" stroke-linejoin="round"/>
<polygon points="405.5,238.6 415,232.4 418.6,235.3 409.1,241.5" fill="#fff" stroke="#3a3a3a" stroke-width="0.6" stroke-linejoin="round"/>
<polygon points="408.4,235.8 412.6,233.1 415.2,235.2 411,237.9" fill="#fff" stroke="#3a3a3a" stroke-width="0.45" stroke-linejoin="round"/>
<g fill="#5a5a5a"><circle cx="222" cy="327.5" r="0.6"/><rect x="221.3" y="328.1" width="1.5" height="2.9" rx="0.4"/></g>
<g fill="#5a5a5a"><circle cx="229" cy="323.5" r="0.6"/><rect x="228.3" y="324.1" width="1.5" height="2.9" rx="0.4"/></g>
<g fill="#5a5a5a"><circle cx="240" cy="339.5" r="0.6"/><rect x="239.3" y="340.1" width="1.5" height="2.9" rx="0.4"/></g>
<g fill="#5a5a5a"><circle cx="246" cy="343.5" r="0.6"/><rect x="245.3" y="344.1" width="1.5" height="2.9" rx="0.4"/></g>
<g fill="#5a5a5a"><circle cx="252" cy="348.5" r="0.6"/><rect x="251.3" y="349.1" width="1.5" height="2.9" rx="0.4"/></g>
<g fill="#5a5a5a"><circle cx="262" cy="356.5" r="0.6"/><rect x="261.3" y="357.1" width="1.5" height="2.9" rx="0.4"/></g>
<g fill="#5a5a5a"><circle cx="270" cy="297.5" r="0.6"/><rect x="269.3" y="298.1" width="1.5" height="2.9" rx="0.4"/></g>
<g fill="#5a5a5a"><circle cx="277" cy="293.5" r="0.6"/><rect x="276.3" y="294.1" width="1.5" height="2.9" rx="0.4"/></g>
<g fill="#5a5a5a"><circle cx="292" cy="314.5" r="0.6"/><rect x="291.3" y="315.1" width="1.5" height="2.9" rx="0.4"/></g>
<g fill="#5a5a5a"><circle cx="298" cy="309.5" r="0.6"/><rect x="297.3" y="310.1" width="1.5" height="2.9" rx="0.4"/></g>
<g fill="#5a5a5a"><circle cx="306" cy="296.5" r="0.6"/><rect x="305.3" y="297.1" width="1.5" height="2.9" rx="0.4"/></g>
<g fill="#5a5a5a"><circle cx="336" cy="279.5" r="0.6"/><rect x="335.3" y="280.1" width="1.5" height="2.9" rx="0.4"/></g>
<g fill="#5a5a5a"><circle cx="341" cy="276.5" r="0.6"/><rect x="340.3" y="277.1" width="1.5" height="2.9" rx="0.4"/></g>
<g fill="#5a5a5a"><circle cx="352" cy="314.5" r="0.6"/><rect x="351.3" y="315.1" width="1.5" height="2.9" rx="0.4"/></g>
<g fill="#5a5a5a"><circle cx="358" cy="309.5" r="0.6"/><rect x="357.3" y="310.1" width="1.5" height="2.9" rx="0.4"/></g>
<g fill="#5a5a5a"><circle cx="346" cy="320.5" r="0.6"/><rect x="345.3" y="321.1" width="1.5" height="2.9" rx="0.4"/></g>
<g fill="#5a5a5a"><circle cx="334" cy="326.5" r="0.6"/><rect x="333.3" y="327.1" width="1.5" height="2.9" rx="0.4"/></g>
<g fill="#5a5a5a"><circle cx="391" cy="235.5" r="0.6"/><rect x="390.3" y="236.1" width="1.5" height="2.9" rx="0.4"/></g>
<g fill="#5a5a5a"><circle cx="397" cy="231.5" r="0.6"/><rect x="396.3" y="232.1" width="1.5" height="2.9" rx="0.4"/></g>
<g fill="#5a5a5a"><circle cx="384" cy="258.5" r="0.6"/><rect x="383.3" y="259.1" width="1.5" height="2.9" rx="0.4"/></g>
<g fill="#5a5a5a"><circle cx="391" cy="254.5" r="0.6"/><rect x="390.3" y="255.1" width="1.5" height="2.9" rx="0.4"/></g>
<g fill="#5a5a5a"><circle cx="404" cy="259.5" r="0.6"/><rect x="403.3" y="260.1" width="1.5" height="2.9" rx="0.4"/></g>
<g fill="#5a5a5a"><circle cx="423" cy="211.5" r="0.6"/><rect x="422.3" y="212.1" width="1.5" height="2.9" rx="0.4"/></g>
<g fill="#5a5a5a"><circle cx="433" cy="248.5" r="0.6"/><rect x="432.3" y="249.1" width="1.5" height="2.9" rx="0.4"/></g>
<g fill="#5a5a5a"><circle cx="440" cy="243.5" r="0.6"/><rect x="439.3" y="244.1" width="1.5" height="2.9" rx="0.4"/></g>
<g fill="#5a5a5a"><circle cx="449" cy="237.5" r="0.6"/><rect x="448.3" y="238.1" width="1.5" height="2.9" rx="0.4"/></g>
<g fill="#5a5a5a"><circle cx="376" cy="242.5" r="0.6"/><rect x="375.3" y="243.1" width="1.5" height="2.9" rx="0.4"/></g>
<g fill="#5a5a5a"><circle cx="312" cy="285.5" r="0.6"/><rect x="311.3" y="286.1" width="1.5" height="2.9" rx="0.4"/></g>
<g fill="#5a5a5a"><circle cx="329" cy="270.5" r="0.6"/><rect x="328.3" y="271.1" width="1.5" height="2.9" rx="0.4"/></g>
<polygon points="441.2,305.2 482,278.5 487.9,279.6 501.3,296.3 514.6,299.2 531,318.5 531,326 500,342 454.5,326 441.2,321.5" fill="#bac5b3"/>
<polygon points="441.2,305.2 482,278.5 487.9,279.6 447.9,307.4" fill="#a5b49f" stroke="#fff" stroke-width="0.6" stroke-linejoin="round"/>
<polygon points="447.9,307.4 487.9,279.6 501.3,296.3 469.4,317 460.5,314.1 454.5,318.5" fill="#bac5b3" stroke="#fff" stroke-width="0.6" stroke-linejoin="round"/>
<polygon points="441.2,305.2 447.9,307.4 454.5,318.5 454.5,327 441.2,321.5" fill="#a9b8a3" stroke="#fff" stroke-width="0.6" stroke-linejoin="round"/>
<polygon points="454.5,318.5 458.3,314.4 473.8,325.9 473,331" fill="#a9b8a3" stroke="#fff" stroke-width="0.6" stroke-linejoin="round"/>
<polygon points="458.3,314.4 461.2,315.2 479,326.7 474.3,326.2" fill="#bac5b3" stroke="#fff" stroke-width="0.6" stroke-linejoin="round"/>
<polygon points="470.1,317 501.3,296.3 514.6,299.2 483.5,319.3" fill="#a5b49f" stroke="#fff" stroke-width="0.6" stroke-linejoin="round"/>
<polygon points="483.5,319.3 514.6,299.2 531,318.5 520.6,325.2 500,340 488,330" fill="#bac5b3" stroke="#fff" stroke-width="0.6" stroke-linejoin="round"/>
<polygon points="470.1,317 483.5,319.3 488,330 480.5,329" fill="#a9b8a3" stroke="#fff" stroke-width="0.6" stroke-linejoin="round"/>
<polygon points="531,318.5 531,325.9 525.8,329.6 520.6,325.2" fill="#98aa92" stroke="#fff" stroke-width="0.6" stroke-linejoin="round"/>
<polygon points="365.2,276.6 412.6,314.3 412.6,343.4 365.2,305.7" fill="#f5d56e" stroke="#fff" stroke-width="0.9" stroke-linejoin="round"/>
<polygon points="412.6,314.3 440.2,296.3 440.2,325.4 412.6,343.4" fill="#f5d56e" stroke="#fff" stroke-width="0.9" stroke-linejoin="round"/>
<polygon points="365.2,276.6 392.8,258.6 440.2,296.3 412.6,314.3" fill="#fdeec8" stroke="#fff" stroke-width="0.9" stroke-linejoin="round"/>
<line x1="365.2" y1="281.5" x2="412.6" y2="319.1" stroke="#fff" stroke-width="0.9"/>
<line x1="412.6" y1="319.1" x2="440.2" y2="301.1" stroke="#fff" stroke-width="0.9"/>
<line x1="365.2" y1="286.3" x2="412.6" y2="324" stroke="#fff" stroke-width="0.9"/>
<line x1="412.6" y1="324" x2="440.2" y2="306" stroke="#fff" stroke-width="0.9"/>
<line x1="365.2" y1="291.2" x2="412.6" y2="328.8" stroke="#fff" stroke-width="0.9"/>
<line x1="412.6" y1="328.8" x2="440.2" y2="310.8" stroke="#fff" stroke-width="0.9"/>
<line x1="365.2" y1="296" x2="412.6" y2="333.7" stroke="#fff" stroke-width="0.9"/>
<line x1="412.6" y1="333.7" x2="440.2" y2="315.7" stroke="#fff" stroke-width="0.9"/>
<line x1="365.2" y1="300.9" x2="412.6" y2="338.5" stroke="#fff" stroke-width="0.9"/>
<line x1="412.6" y1="338.5" x2="440.2" y2="320.5" stroke="#fff" stroke-width="0.9"/>
<polygon points="365.2,301.1 372.7,307.1 372.7,312.3 365.2,306.3" fill="#f3f6fa"/>
<polygon points="348.8,345 357.5,338.5 374,351.5 349,368" fill="#fdeec8" stroke="#fff" stroke-width="0.6" stroke-linejoin="round"/>
<polygon points="276.3,324.9 322,361.2 322,375.9 276.3,339.6" fill="#f5d56e" stroke="#fff" stroke-width="0.9" stroke-linejoin="round"/>
<polygon points="322,361.2 349.4,343.4 349.4,367.9 322,385.7" fill="#f5d56e" stroke="#fff" stroke-width="0.9" stroke-linejoin="round"/>
<polygon points="276.3,324.9 303.7,307 349.4,343.4 322,361.2" fill="#fdeec8" stroke="#fff" stroke-width="0.9" stroke-linejoin="round"/>
<line x1="276.3" y1="329.8" x2="322" y2="366.1" stroke="#fff" stroke-width="0.9"/>
<line x1="322" y1="366.1" x2="349.4" y2="348.3" stroke="#fff" stroke-width="0.9"/>
<line x1="276.3" y1="334.7" x2="322" y2="371" stroke="#fff" stroke-width="0.9"/>
<line x1="322" y1="371" x2="349.4" y2="353.2" stroke="#fff" stroke-width="0.9"/>
<line x1="322" y1="375.9" x2="349.4" y2="358.1" stroke="#fff" stroke-width="0.9"/>
<line x1="322" y1="380.8" x2="349.4" y2="363" stroke="#fff" stroke-width="0.9"/>
<polygon points="289.5,350.1 322,375.9 322,385.7 289.5,359.9" fill="#f5d56e" stroke="#fff" stroke-width="0.9" stroke-linejoin="round"/>
<line x1="289.5" y1="355" x2="322" y2="380.8" stroke="#fff" stroke-width="0.9"/>
<line x1="276.3" y1="339.6" x2="276.3" y2="348.9" stroke="#f8dc86" stroke-width="1.3"/>
<polygon points="364.9,315.6 384.9,331.5 384.9,359.7 364.9,343.8" fill="#f5d56e" stroke="#fff" stroke-width="0.9" stroke-linejoin="round"/>
<polygon points="384.9,331.5 404.5,318.7 404.5,346.9 384.9,359.7" fill="#f5d56e" stroke="#fff" stroke-width="0.9" stroke-linejoin="round"/>
<polygon points="364.9,315.6 384.5,302.8 404.5,318.7 384.9,331.5" fill="#fdeec8" stroke="#fff" stroke-width="0.9" stroke-linejoin="round"/>
<line x1="364.9" y1="320.3" x2="384.9" y2="336.2" stroke="#fff" stroke-width="0.9"/>
<line x1="384.9" y1="336.2" x2="404.5" y2="323.4" stroke="#fff" stroke-width="0.9"/>
<line x1="364.9" y1="325" x2="384.9" y2="340.9" stroke="#fff" stroke-width="0.9"/>
<line x1="384.9" y1="340.9" x2="404.5" y2="328.1" stroke="#fff" stroke-width="0.9"/>
<line x1="364.9" y1="329.7" x2="384.9" y2="345.6" stroke="#fff" stroke-width="0.9"/>
<line x1="384.9" y1="345.6" x2="404.5" y2="332.8" stroke="#fff" stroke-width="0.9"/>
<line x1="364.9" y1="334.4" x2="384.9" y2="350.3" stroke="#fff" stroke-width="0.9"/>
<line x1="384.9" y1="350.3" x2="404.5" y2="337.5" stroke="#fff" stroke-width="0.9"/>
<line x1="364.9" y1="339.1" x2="384.9" y2="355" stroke="#fff" stroke-width="0.9"/>
<line x1="384.9" y1="355" x2="404.5" y2="342.2" stroke="#fff" stroke-width="0.9"/>
<polygon points="419.8,340.6 449.8,364.5 449.8,371.5 419.8,347.6" fill="#f5d56e" stroke="#fff" stroke-width="0.9" stroke-linejoin="round"/>
<polygon points="449.8,364.5 479.3,345.2 479.3,352.2 449.8,371.5" fill="#f5d56e" stroke="#fff" stroke-width="0.9" stroke-linejoin="round"/>
<polygon points="419.8,340.6 449.3,321.4 479.3,345.2 449.8,364.5" fill="#fdeec8" stroke="#fff" stroke-width="0.9" stroke-linejoin="round"/>
<line x1="442.4" y1="345.6" x2="466.5" y2="330.7" stroke="#fff" stroke-width="0.7"/>
<polygon points="461,353.5 471,361.4 471,364.9 461,357" fill="#f5d56e" stroke="#fff" stroke-width="0.6" stroke-linejoin="round"/>
<polygon points="471,361.4 481,354.9 481,358.4 471,364.9" fill="#f5d56e" stroke="#fff" stroke-width="0.6" stroke-linejoin="round"/>
<polygon points="461,353.5 471,347 481,354.9 471,361.4" fill="#fdeec8" stroke="#fff" stroke-width="0.6" stroke-linejoin="round"/>
<polygon points="463.2,347 465,348.4 465,356.4 463.2,355" fill="#f8dc86" stroke="#fff" stroke-width="0.4" stroke-linejoin="round"/>
<polygon points="465,348.4 466.8,347.3 466.8,355.3 465,356.4" fill="#f5d56e" stroke="#fff" stroke-width="0.4" stroke-linejoin="round"/>
<polygon points="463.2,347 465,345.8 466.8,347.3 465,348.4" fill="#fdeec8" stroke="#fff" stroke-width="0.4" stroke-linejoin="round"/>
<polygon points="555.5,336.3 631.2,286.6 644.3,287.7 567.6,334.8" fill="#a5b49f" stroke="#fff" stroke-width="0.6" stroke-linejoin="round"/>
<polygon points="567.6,334.8 644.3,287.7 657,307.1 581.3,355.7" fill="#bac5b3" stroke="#fff" stroke-width="0.6" stroke-linejoin="round"/>
<polygon points="581.3,355.7 657,307.1 657,328.3 581.3,377" fill="#92a58c" stroke="#fff" stroke-width="0.6" stroke-linejoin="round"/>
<polygon points="555.5,336.3 567.6,334.8 581.3,355.7 581.3,377 555.5,347.5" fill="#a9b8a3" stroke="#fff" stroke-width="0.6" stroke-linejoin="round"/>
<line x1="581.3" y1="377.3" x2="657" y2="328.6" stroke="#333" stroke-width="0.9"/>
<polygon points="562,321 568,317.5 577,322 577,326.5 571,330 562,328" fill="#a9b8a3" stroke="#fff" stroke-width="0.6" stroke-linejoin="round"/>
<polygon points="562,321 568,317.5 577,322 571,325.5" fill="#bac5b3" stroke="#fff" stroke-width="0.6" stroke-linejoin="round"/>
<polygon points="593,344 599.5,340 604,343 604,362 598.5,366.5 593,363" fill="#a3b39d" stroke="#fff" stroke-width="0.6" stroke-linejoin="round"/>
<polygon points="593,344 599.5,340 604,343 598.5,347" fill="#bac5b3" stroke="#fff" stroke-width="0.6" stroke-linejoin="round"/>
<line x1="598.5" y1="347" x2="598.5" y2="366.5" stroke="#fff" stroke-width="0.6"/>
<polygon points="288.7,400.6 369.1,348.2 377.9,350.6 297.5,403" fill="#f4d368" stroke="#fff" stroke-width="0.6" stroke-linejoin="round"/>
<polygon points="297.5,403 377.9,350.6 386,360.6 305.6,413" fill="#fdeec8" stroke="#fff" stroke-width="0.6" stroke-linejoin="round"/>
<polygon points="305.6,413 386,360.6 386,371.2 305.6,423.6" fill="#f4d368" stroke="#fff" stroke-width="0.6" stroke-linejoin="round"/>
<polygon points="318.1,407 326.6,401.4 326.6,409.9 318.1,415.5" fill="#fdf7e4"/>
<polygon points="326.6,401.4 323.6,399 323.6,407.5 326.6,409.9" fill="#f4d368" stroke="#fff" stroke-width="0.4" stroke-linejoin="round"/>
<polygon points="288.7,400.6 297.5,403 305.6,413 305.6,423.6 288.7,410.5" fill="#f8dc86" stroke="#fff" stroke-width="0.6" stroke-linejoin="round"/>
<g stroke="#8ea487" stroke-width="0.9" fill="none"><path d="M432.3 382.2V359.1"/></g>
<g stroke="#8ea487" stroke-width="0.6" fill="none">
<path d="M432.3 360.1L426.1 356.9L420.9 353.9"/>
<path d="M426.1 356.9L421.1 357.8"/>
<path d="M432.3 360.1L429.2 356.7L425 353.5"/>
<path d="M429.2 356.7L428 353.2"/>
<path d="M432.3 360.1L430 355.5L426.6 351.3"/>
<path d="M430 355.5L426.4 354.4"/>
<path d="M432.3 360.1L430.4 352.5L428.1 345.5"/>
<path d="M430.4 352.5L426.3 349.5"/>
<path d="M432.3 360.1L432.1 352.9L432.7 346.1"/>
<path d="M432.1 352.9L429.6 348.9"/>
<path d="M432.3 360.1L433.7 354.3L435.2 348.8"/>
<path d="M433.7 354.3L436.7 351.8"/>
<path d="M432.3 360.1L436 353.3L438.9 347"/>
<path d="M436 353.3L440.6 351.3"/>
<path d="M432.3 360.1L435.9 356L439.9 352.2"/>
<path d="M435.9 356L436.9 352.2"/>
<path d="M432.3 360.1L437.3 358.1L442.2 356.2"/>
<path d="M437.3 358.1L439.8 354.8"/>
</g><g fill="#7f9a76">
<circle cx="420.9" cy="353.9" r="0.75" opacity="0.9"/>
<circle cx="426.1" cy="356.9" r="0.75" opacity="0.9"/>
<circle cx="421.1" cy="357.8" r="0.75" opacity="0.9"/>
<circle cx="425" cy="353.5" r="0.75" opacity="0.9"/>
<circle cx="429.2" cy="356.7" r="0.75" opacity="0.9"/>
<circle cx="428" cy="353.2" r="0.75" opacity="0.9"/>
<circle cx="426.6" cy="351.3" r="0.75" opacity="0.9"/>
<circle cx="430" cy="355.5" r="0.75" opacity="0.9"/>
<circle cx="426.4" cy="354.4" r="0.75" opacity="0.9"/>
<circle cx="428.1" cy="345.5" r="0.75" opacity="0.9"/>
<circle cx="430.4" cy="352.5" r="0.75" opacity="0.9"/>
<circle cx="426.3" cy="349.5" r="0.75" opacity="0.9"/>
<circle cx="432.7" cy="346.1" r="0.75" opacity="0.9"/>
<circle cx="432.1" cy="352.9" r="0.75" opacity="0.9"/>
<circle cx="429.6" cy="348.9" r="0.75" opacity="0.9"/>
<circle cx="435.2" cy="348.8" r="0.75" opacity="0.9"/>
<circle cx="433.7" cy="354.3" r="0.75" opacity="0.9"/>
<circle cx="436.7" cy="351.8" r="0.75" opacity="0.9"/>
<circle cx="438.9" cy="347" r="0.75" opacity="0.9"/>
<circle cx="436" cy="353.3" r="0.75" opacity="0.9"/>
<circle cx="440.6" cy="351.3" r="0.75" opacity="0.9"/>
<circle cx="439.9" cy="352.2" r="0.75" opacity="0.9"/>
<circle cx="435.9" cy="356" r="0.75" opacity="0.9"/>
<circle cx="436.9" cy="352.2" r="0.75" opacity="0.9"/>
<circle cx="442.2" cy="356.2" r="0.75" opacity="0.9"/>
<circle cx="437.3" cy="358.1" r="0.75" opacity="0.9"/>
<circle cx="439.8" cy="354.8" r="0.75" opacity="0.9"/>
<circle cx="431.4" cy="348.3" r="0.6" opacity="0.8"/>
<circle cx="438.5" cy="361.1" r="0.7" opacity="0.8"/>
<circle cx="434.9" cy="356.7" r="0.7" opacity="0.8"/>
<circle cx="431.8" cy="359.2" r="0.5" opacity="0.8"/>
<circle cx="434.7" cy="364.9" r="0.7" opacity="0.8"/>
<circle cx="438.6" cy="360.1" r="0.8" opacity="0.8"/>
<circle cx="423.5" cy="349.8" r="0.5" opacity="0.8"/>
<circle cx="440.8" cy="353.9" r="0.8" opacity="0.8"/>
<circle cx="437" cy="355.5" r="0.7" opacity="0.8"/>
<circle cx="426.5" cy="346.6" r="0.5" opacity="0.8"/>
<circle cx="433.3" cy="344.6" r="0.8" opacity="0.8"/>
<circle cx="424.6" cy="359.2" r="0.7" opacity="0.8"/>
<circle cx="435.4" cy="348.1" r="0.5" opacity="0.8"/>
<circle cx="437" cy="348.2" r="0.7" opacity="0.8"/>
<circle cx="434.2" cy="361.7" r="0.7" opacity="0.8"/>
<circle cx="429.2" cy="360.6" r="0.7" opacity="0.8"/>
<circle cx="431.4" cy="343.5" r="0.5" opacity="0.8"/>
<circle cx="429.6" cy="346.3" r="0.7" opacity="0.8"/>
<circle cx="440.6" cy="352" r="0.6" opacity="0.8"/>
<circle cx="442.2" cy="354.2" r="0.7" opacity="0.8"/>
<circle cx="440.9" cy="358.6" r="0.5" opacity="0.8"/>
<circle cx="427" cy="353.3" r="0.6" opacity="0.8"/>
<circle cx="425.7" cy="350.6" r="0.7" opacity="0.8"/>
<circle cx="428.9" cy="346.1" r="0.7" opacity="0.8"/>
<circle cx="438.4" cy="352.3" r="0.5" opacity="0.8"/>
<circle cx="438.6" cy="360.1" r="0.6" opacity="0.8"/>
<circle cx="432.4" cy="358.4" r="0.6" opacity="0.8"/>
<circle cx="425" cy="355.3" r="0.6" opacity="0.8"/>
<circle cx="428.9" cy="344.1" r="0.7" opacity="0.8"/>
<circle cx="437.7" cy="347" r="0.7" opacity="0.8"/>
<circle cx="427" cy="353" r="0.5" opacity="0.8"/>
<circle cx="433.1" cy="343.4" r="0.7" opacity="0.8"/>
<circle cx="441.2" cy="354.4" r="0.6" opacity="0.8"/>
<circle cx="428.3" cy="361.6" r="0.6" opacity="0.8"/>
</g>
<g stroke="#8ea487" stroke-width="0.9" fill="none"><path d="M369.9 402V380.8"/></g>
<g stroke="#8ea487" stroke-width="0.6" fill="none">
<path d="M369.9 381.8L365.5 379.4L361.2 377.1"/>
<path d="M365.5 379.4L361.8 380.1"/>
<path d="M369.9 381.8L364.7 377.1L359.3 372.8"/>
<path d="M364.7 377.1L362.9 372.2"/>
<path d="M369.9 381.8L366.8 375.3L363.6 369.2"/>
<path d="M366.8 375.3L362.3 373.2"/>
<path d="M369.9 381.8L368.1 375.2L366.6 369"/>
<path d="M368.1 375.2L369.4 370.9"/>
<path d="M369.9 381.8L370 375L369.7 368.6"/>
<path d="M370 375L367.5 371.4"/>
<path d="M369.9 381.8L371.5 374.3L372.9 367.3"/>
<path d="M371.5 374.3L369.8 369.6"/>
<path d="M369.9 381.8L373 377.3L375.4 373.1"/>
<path d="M373 377.3L373.2 373.7"/>
<path d="M369.9 381.8L374 377.2L379.1 373"/>
<path d="M374 377.2L375.4 372.7"/>
<path d="M369.9 381.8L375 379.3L379.1 377"/>
<path d="M375 379.3L377.2 375.9"/>
</g><g fill="#7f9a76">
<circle cx="361.2" cy="377.1" r="0.75" opacity="0.9"/>
<circle cx="365.5" cy="379.4" r="0.75" opacity="0.9"/>
<circle cx="361.8" cy="380.1" r="0.75" opacity="0.9"/>
<circle cx="359.3" cy="372.8" r="0.75" opacity="0.9"/>
<circle cx="364.7" cy="377.1" r="0.75" opacity="0.9"/>
<circle cx="362.9" cy="372.2" r="0.75" opacity="0.9"/>
<circle cx="363.6" cy="369.2" r="0.75" opacity="0.9"/>
<circle cx="366.8" cy="375.3" r="0.75" opacity="0.9"/>
<circle cx="362.3" cy="373.2" r="0.75" opacity="0.9"/>
<circle cx="366.6" cy="369" r="0.75" opacity="0.9"/>
<circle cx="368.1" cy="375.2" r="0.75" opacity="0.9"/>
<circle cx="369.4" cy="370.9" r="0.75" opacity="0.9"/>
<circle cx="369.7" cy="368.6" r="0.75" opacity="0.9"/>
<circle cx="370" cy="375" r="0.75" opacity="0.9"/>
<circle cx="367.5" cy="371.4" r="0.75" opacity="0.9"/>
<circle cx="372.9" cy="367.3" r="0.75" opacity="0.9"/>
<circle cx="371.5" cy="374.3" r="0.75" opacity="0.9"/>
<circle cx="369.8" cy="369.6" r="0.75" opacity="0.9"/>
<circle cx="375.4" cy="373.1" r="0.75" opacity="0.9"/>
<circle cx="373" cy="377.3" r="0.75" opacity="0.9"/>
<circle cx="373.2" cy="373.7" r="0.75" opacity="0.9"/>
<circle cx="379.1" cy="373" r="0.75" opacity="0.9"/>
<circle cx="374" cy="377.2" r="0.75" opacity="0.9"/>
<circle cx="375.4" cy="372.7" r="0.75" opacity="0.9"/>
<circle cx="379.1" cy="377" r="0.75" opacity="0.9"/>
<circle cx="375" cy="379.3" r="0.75" opacity="0.9"/>
<circle cx="377.2" cy="375.9" r="0.75" opacity="0.9"/>
<circle cx="378.1" cy="381.8" r="0.5" opacity="0.8"/>
<circle cx="375.8" cy="375.2" r="0.6" opacity="0.8"/>
<circle cx="367.6" cy="381.4" r="0.6" opacity="0.8"/>
<circle cx="377.4" cy="368.4" r="0.7" opacity="0.8"/>
<circle cx="374.3" cy="369.5" r="0.6" opacity="0.8"/>
<circle cx="372" cy="367.7" r="0.6" opacity="0.8"/>
<circle cx="364.4" cy="374.3" r="0.5" opacity="0.8"/>
<circle cx="372.8" cy="380.4" r="0.6" opacity="0.8"/>
<circle cx="376.3" cy="382.5" r="0.7" opacity="0.8"/>
<circle cx="365.6" cy="372.9" r="0.5" opacity="0.8"/>
<circle cx="366.7" cy="374.6" r="0.7" opacity="0.8"/>
<circle cx="360.6" cy="379" r="0.5" opacity="0.8"/>
<circle cx="371.3" cy="369.7" r="0.5" opacity="0.8"/>
<circle cx="378.1" cy="375.2" r="0.7" opacity="0.8"/>
<circle cx="371.6" cy="386.7" r="0.7" opacity="0.8"/>
<circle cx="372.2" cy="373.2" r="0.7" opacity="0.8"/>
<circle cx="371.2" cy="368.7" r="0.7" opacity="0.8"/>
<circle cx="372.7" cy="380.1" r="0.6" opacity="0.8"/>
<circle cx="372.4" cy="367.3" r="0.7" opacity="0.8"/>
<circle cx="373.8" cy="376" r="0.7" opacity="0.8"/>
<circle cx="363.7" cy="373.1" r="0.6" opacity="0.8"/>
<circle cx="364.6" cy="375.6" r="0.5" opacity="0.8"/>
<circle cx="375.1" cy="372.2" r="0.6" opacity="0.8"/>
<circle cx="376.8" cy="370.2" r="0.7" opacity="0.8"/>
<circle cx="363.7" cy="380.9" r="0.5" opacity="0.8"/>
<circle cx="374.4" cy="379.2" r="0.5" opacity="0.8"/>
<circle cx="375.8" cy="384" r="0.5" opacity="0.8"/>
<circle cx="376.7" cy="371.4" r="0.6" opacity="0.8"/>
<circle cx="374.3" cy="374.1" r="0.7" opacity="0.8"/>
<circle cx="360.3" cy="371.9" r="0.6" opacity="0.8"/>
<circle cx="373.5" cy="382.6" r="0.7" opacity="0.8"/>
<circle cx="365.9" cy="371.1" r="0.8" opacity="0.8"/>
<circle cx="378.3" cy="380.2" r="0.8" opacity="0.8"/>
<circle cx="368.9" cy="380.8" r="0.5" opacity="0.8"/>
</g>
<g stroke="#8ea487" stroke-width="0.9" fill="none"><path d="M459.5 397.2V374.5"/></g>
<g stroke="#8ea487" stroke-width="0.6" fill="none">
<path d="M459.5 375.5L453.5 372.9L447.2 370.5"/>
<path d="M453.5 372.9L450.4 368.8"/>
<path d="M459.5 375.5L455.7 371.8L451.5 368.3"/>
<path d="M455.7 371.8L451.7 371.6"/>
<path d="M459.5 375.5L456.4 369.7L453.2 364.3"/>
<path d="M456.4 369.7L456.4 365.2"/>
<path d="M459.5 375.5L457.5 368.2L455.7 361.4"/>
<path d="M457.5 368.2L458.9 363.5"/>
<path d="M459.5 375.5L459.4 368.6L459.8 362.2"/>
<path d="M459.4 368.6L462 365"/>
<path d="M459.5 375.5L460.9 368.3L462.6 361.5"/>
<path d="M460.9 368.3L459.3 363.7"/>
<path d="M459.5 375.5L461.7 370.4L464.8 365.7"/>
<path d="M461.7 370.4L461.6 366.5"/>
<path d="M459.5 375.5L463.7 371.1L467.4 367"/>
<path d="M463.7 371.1L467.9 370.5"/>
<path d="M459.5 375.5L463.8 373.3L468 371.2"/>
<path d="M463.8 373.3L465.8 370.2"/>
</g><g fill="#7f9a76">
<circle cx="447.2" cy="370.5" r="0.75" opacity="0.9"/>
<circle cx="453.5" cy="372.9" r="0.75" opacity="0.9"/>
<circle cx="450.4" cy="368.8" r="0.75" opacity="0.9"/>
<circle cx="451.5" cy="368.3" r="0.75" opacity="0.9"/>
<circle cx="455.7" cy="371.8" r="0.75" opacity="0.9"/>
<circle cx="451.7" cy="371.6" r="0.75" opacity="0.9"/>
<circle cx="453.2" cy="364.3" r="0.75" opacity="0.9"/>
<circle cx="456.4" cy="369.7" r="0.75" opacity="0.9"/>
<circle cx="456.4" cy="365.2" r="0.75" opacity="0.9"/>
<circle cx="455.7" cy="361.4" r="0.75" opacity="0.9"/>
<circle cx="457.5" cy="368.2" r="0.75" opacity="0.9"/>
<circle cx="458.9" cy="363.5" r="0.75" opacity="0.9"/>
<circle cx="459.8" cy="362.2" r="0.75" opacity="0.9"/>
<circle cx="459.4" cy="368.6" r="0.75" opacity="0.9"/>
<circle cx="462" cy="365" r="0.75" opacity="0.9"/>
<circle cx="462.6" cy="361.5" r="0.75" opacity="0.9"/>
<circle cx="460.9" cy="368.3" r="0.75" opacity="0.9"/>
<circle cx="459.3" cy="363.7" r="0.75" opacity="0.9"/>
<circle cx="464.8" cy="365.7" r="0.75" opacity="0.9"/>
<circle cx="461.7" cy="370.4" r="0.75" opacity="0.9"/>
<circle cx="461.6" cy="366.5" r="0.75" opacity="0.9"/>
<circle cx="467.4" cy="367" r="0.75" opacity="0.9"/>
<circle cx="463.7" cy="371.1" r="0.75" opacity="0.9"/>
<circle cx="467.9" cy="370.5" r="0.75" opacity="0.9"/>
<circle cx="468" cy="371.2" r="0.75" opacity="0.9"/>
<circle cx="463.8" cy="373.3" r="0.75" opacity="0.9"/>
<circle cx="465.8" cy="370.2" r="0.75" opacity="0.9"/>
<circle cx="457.4" cy="363.1" r="0.6" opacity="0.8"/>
<circle cx="459.8" cy="380" r="0.6" opacity="0.8"/>
<circle cx="462.2" cy="377.1" r="0.7" opacity="0.8"/>
<circle cx="467.7" cy="368.3" r="0.8" opacity="0.8"/>
<circle cx="454.2" cy="367.4" r="0.5" opacity="0.8"/>
<circle cx="451.2" cy="363.4" r="0.7" opacity="0.8"/>
<circle cx="467.9" cy="369.1" r="0.5" opacity="0.8"/>
<circle cx="451.3" cy="363.9" r="0.7" opacity="0.8"/>
<circle cx="463.5" cy="363.2" r="0.6" opacity="0.8"/>
<circle cx="467" cy="376.4" r="0.5" opacity="0.8"/>
<circle cx="452.8" cy="370.6" r="0.7" opacity="0.8"/>
<circle cx="456.2" cy="366.5" r="0.6" opacity="0.8"/>
<circle cx="459.7" cy="378.6" r="0.8" opacity="0.8"/>
<circle cx="464.3" cy="377.5" r="0.7" opacity="0.8"/>
<circle cx="455.4" cy="363.2" r="0.5" opacity="0.8"/>
<circle cx="458.5" cy="364.3" r="0.5" opacity="0.8"/>
<circle cx="460.9" cy="374" r="0.7" opacity="0.8"/>
<circle cx="454.9" cy="365.4" r="0.6" opacity="0.8"/>
<circle cx="465.5" cy="374.7" r="0.6" opacity="0.8"/>
<circle cx="451.2" cy="367.3" r="0.7" opacity="0.8"/>
<circle cx="458" cy="358.8" r="0.8" opacity="0.8"/>
<circle cx="462.6" cy="371.8" r="0.8" opacity="0.8"/>
<circle cx="463.9" cy="377.3" r="0.7" opacity="0.8"/>
<circle cx="457.2" cy="376.4" r="0.6" opacity="0.8"/>
<circle cx="455.3" cy="368.7" r="0.8" opacity="0.8"/>
<circle cx="463.5" cy="362.2" r="0.8" opacity="0.8"/>
<circle cx="468.1" cy="369.7" r="0.5" opacity="0.8"/>
<circle cx="465.2" cy="360.8" r="0.5" opacity="0.8"/>
<circle cx="450.1" cy="374" r="0.6" opacity="0.8"/>
<circle cx="462.2" cy="373.9" r="0.5" opacity="0.8"/>
<circle cx="464.6" cy="363.8" r="0.7" opacity="0.8"/>
<circle cx="469.4" cy="371" r="0.7" opacity="0.8"/>
<circle cx="466.8" cy="375.2" r="0.6" opacity="0.8"/>
<circle cx="461.7" cy="362.9" r="0.7" opacity="0.8"/>
</g>
<g fill="#3c3c3c"><circle cx="365" cy="390.5" r="0.6"/><rect x="364.3" y="391.1" width="1.5" height="2.9" rx="0.4"/></g>
<g fill="#3c3c3c"><circle cx="370" cy="387.5" r="0.6"/><rect x="369.3" y="388.1" width="1.5" height="2.9" rx="0.4"/></g>
<g fill="#3c3c3c"><circle cx="375" cy="384.5" r="0.6"/><rect x="374.3" y="385.1" width="1.5" height="2.9" rx="0.4"/></g>
<g fill="#3c3c3c"><circle cx="380" cy="381.5" r="0.6"/><rect x="379.3" y="382.1" width="1.5" height="2.9" rx="0.4"/></g>
<g fill="#3c3c3c"><circle cx="384" cy="385.5" r="0.6"/><rect x="383.3" y="386.1" width="1.5" height="2.9" rx="0.4"/></g>
<g fill="#3c3c3c"><circle cx="377" cy="389.5" r="0.6"/><rect x="376.3" y="390.1" width="1.5" height="2.9" rx="0.4"/></g>
<g fill="#3c3c3c"><circle cx="387" cy="378.5" r="0.6"/><rect x="386.3" y="379.1" width="1.5" height="2.9" rx="0.4"/></g>
<g fill="#3c3c3c"><circle cx="355.5" cy="398.5" r="0.6"/><rect x="354.8" y="399.1" width="1.5" height="2.9" rx="0.4"/></g>
<g fill="#3c3c3c"><circle cx="404" cy="363.5" r="0.6"/><rect x="403.3" y="364.1" width="1.5" height="2.9" rx="0.4"/></g>
<g fill="#3c3c3c"><circle cx="420" cy="354.5" r="0.6"/><rect x="419.3" y="355.1" width="1.5" height="2.9" rx="0.4"/></g>
<g fill="#3c3c3c"><circle cx="426" cy="352.5" r="0.6"/><rect x="425.3" y="353.1" width="1.5" height="2.9" rx="0.4"/></g>
<g fill="#3c3c3c"><circle cx="443" cy="370.5" r="0.6"/><rect x="442.3" y="371.1" width="1.5" height="2.9" rx="0.4"/></g>
<g fill="#3c3c3c"><circle cx="323.5" cy="410.5" r="0.6"/><rect x="322.8" y="411.1" width="1.5" height="2.9" rx="0.4"/></g>
<g fill="#3c3c3c"><circle cx="357" cy="428.5" r="0.6"/><rect x="356.3" y="429.1" width="1.5" height="2.9" rx="0.4"/></g>
<g fill="#3c3c3c"><circle cx="371.5" cy="448.5" r="0.6"/><rect x="370.8" y="449.1" width="1.5" height="2.9" rx="0.4"/></g>
<polygon points="380,456.8 556,342 556,347 380,461.8" fill="#f4d368"/>
<polygon points="374.4,467.3 558.4,347.3 568.4,347.7 384.4,467.7" fill="#f4d368" stroke="#fff" stroke-width="0.6" stroke-linejoin="round"/>
<polygon points="473.9,332.8 500.9,354.3 500.9,408.3 473.9,386.8" fill="#f5d56e" stroke="#fff" stroke-width="0.9" stroke-linejoin="round"/>
<polygon points="500.9,354.3 529.9,335.4 529.9,389.4 500.9,408.3" fill="#f5d56e" stroke="#fff" stroke-width="0.9" stroke-linejoin="round"/>
<polygon points="473.9,332.8 502.9,313.9 529.9,335.4 500.9,354.3" fill="#fdeec8" stroke="#fff" stroke-width="0.9" stroke-linejoin="round"/>
<line x1="473.9" y1="337.7" x2="500.9" y2="359.2" stroke="#fff" stroke-width="0.9"/>
<line x1="500.9" y1="359.2" x2="529.9" y2="340.3" stroke="#fff" stroke-width="0.9"/>
<line x1="473.9" y1="342.6" x2="500.9" y2="364.1" stroke="#fff" stroke-width="0.9"/>
<line x1="500.9" y1="364.1" x2="529.9" y2="345.2" stroke="#fff" stroke-width="0.9"/>
<line x1="473.9" y1="347.5" x2="500.9" y2="369" stroke="#fff" stroke-width="0.9"/>
<line x1="500.9" y1="369" x2="529.9" y2="350.1" stroke="#fff" stroke-width="0.9"/>
<line x1="473.9" y1="352.4" x2="500.9" y2="373.9" stroke="#fff" stroke-width="0.9"/>
<line x1="500.9" y1="373.9" x2="529.9" y2="355" stroke="#fff" stroke-width="0.9"/>
<line x1="473.9" y1="357.3" x2="500.9" y2="378.8" stroke="#fff" stroke-width="0.9"/>
<line x1="500.9" y1="378.8" x2="529.9" y2="359.9" stroke="#fff" stroke-width="0.9"/>
<line x1="473.9" y1="362.2" x2="500.9" y2="383.7" stroke="#fff" stroke-width="0.9"/>
<line x1="500.9" y1="383.7" x2="529.9" y2="364.8" stroke="#fff" stroke-width="0.9"/>
<line x1="473.9" y1="367.1" x2="500.9" y2="388.6" stroke="#fff" stroke-width="0.9"/>
<line x1="500.9" y1="388.6" x2="529.9" y2="369.7" stroke="#fff" stroke-width="0.9"/>
<line x1="473.9" y1="372" x2="500.9" y2="393.5" stroke="#fff" stroke-width="0.9"/>
<line x1="500.9" y1="393.5" x2="529.9" y2="374.6" stroke="#fff" stroke-width="0.9"/>
<line x1="473.9" y1="376.9" x2="500.9" y2="398.4" stroke="#fff" stroke-width="0.9"/>
<line x1="500.9" y1="398.4" x2="529.9" y2="379.5" stroke="#fff" stroke-width="0.9"/>
<line x1="473.9" y1="381.8" x2="500.9" y2="403.3" stroke="#fff" stroke-width="0.9"/>
<line x1="500.9" y1="403.3" x2="529.9" y2="384.4" stroke="#fff" stroke-width="0.9"/>
<polygon points="384.4,467.7 568.4,347.7 576.3,361.5 392.3,481.5" fill="#fdeec8" stroke="#fff" stroke-width="0.6" stroke-linejoin="round"/>
<polygon points="392.3,481.5 576.3,361.5 580.5,366.3 396.5,486.3" fill="#fdf0cf" stroke="#fff" stroke-width="0.6" stroke-linejoin="round"/>
<polygon points="396.5,486.3 580.3,369.5 580.3,377.5 396.5,496.8" fill="#f4d368" stroke="#fff" stroke-width="0.6" stroke-linejoin="round"/>
<polygon points="410.5,478.7 422.5,470.8 422.5,479.8 410.5,487.7" fill="#fdf7e4"/>
<polygon points="422.5,470.8 419.5,468.5 419.5,477.5 422.5,479.8" fill="#f4d368" stroke="#fff" stroke-width="0.4" stroke-linejoin="round"/>
<polygon points="374.4,467.3 384.4,467.7 392.3,481.5 396.5,486.3 396.5,496.8 374.4,478.9" fill="#f8dc86" stroke="#fff" stroke-width="0.6" stroke-linejoin="round"/>
<path d="M374.4 467.9L374.4 478.9L396.5 496.8L580.3 377.5" fill="none" stroke="#333" stroke-width="1"/>
<path d="M288.7 400.5L288.7 410.5L305.6 423.6L313.7 419.3" fill="none" stroke="#333" stroke-width="1"/>
<line x1="65.5" y1="219.7" x2="288.8" y2="400.1" stroke="#333" stroke-width="1.0"/>
<line x1="313.7" y1="419.3" x2="374.4" y2="479" stroke="#333" stroke-width="1.0"/>
<line x1="265.5" y1="20.8" x2="265.5" y2="272.2" stroke="#333" stroke-width="0.7"/>
<circle cx="265.5" cy="272.2" r="1.4" fill="#111"/>
<text x="269.3" y="28.7" font-size="10.3" fill="#222" stroke="#222" stroke-width="0.2">1</text>
<line x1="336.5" y1="20.8" x2="336.5" y2="190.8" stroke="#333" stroke-width="0.7"/>
<circle cx="336.5" cy="190.8" r="1.4" fill="#111"/>
<text x="340.3" y="28.7" font-size="10.3" fill="#222" stroke="#222" stroke-width="0.2">2</text>
<line x1="358.2" y1="79.5" x2="358.2" y2="307.3" stroke="#333" stroke-width="0.7"/>
<circle cx="358.2" cy="307.3" r="1.4" fill="#111"/>
<text x="362" y="87.4" font-size="10.3" fill="#222" stroke="#222" stroke-width="0.2">3</text>
<line x1="426.9" y1="79.5" x2="426.9" y2="189.2" stroke="#333" stroke-width="0.7"/>
<circle cx="426.9" cy="189.2" r="1.4" fill="#111"/>
<text x="430.7" y="87.4" font-size="10.3" fill="#222" stroke="#222" stroke-width="0.2">4</text>
<text x="178" y="86" font-size="8.2" text-anchor="end" stroke="#222" stroke-width="0.15" textLength="23.8" lengthAdjust="spacingAndGlyphs">LANGE</text>
<text x="178" y="96.2" font-size="8.2" text-anchor="end" stroke="#222" stroke-width="0.15" textLength="51.6" lengthAdjust="spacingAndGlyphs">NIEUWSTRAAT</text>
<path d="M125.3 101.7H177.6V174" fill="none" stroke="#2a2a2a" stroke-width="1.05" stroke-dasharray="1 1.35"/>
<circle cx="177.6" cy="174.6" r="1.4" fill="#111"/>
<text x="444.5" y="129.9" font-size="8.2" text-anchor="start" stroke="#222" stroke-width="0.15" textLength="57.4" lengthAdjust="spacingAndGlyphs">BURGEMEESTER</text>
<text x="444.5" y="139.8" font-size="8.2" text-anchor="start" stroke="#222" stroke-width="0.15" textLength="43.9" lengthAdjust="spacingAndGlyphs">BROKXLAAN</text>
<path d="M489.2 146.4H445.6V208" fill="none" stroke="#2a2a2a" stroke-width="1.05" stroke-dasharray="1 1.35"/>
<circle cx="445.7" cy="209.3" r="1.4" fill="#111"/>
<text x="110.6" y="332.6" font-size="8.2" text-anchor="start" stroke="#222" stroke-width="0.15" textLength="23.6" lengthAdjust="spacingAndGlyphs">LANGE</text>
<text x="110.6" y="342.3" font-size="8.2" text-anchor="start" stroke="#222" stroke-width="0.15" textLength="51" lengthAdjust="spacingAndGlyphs">NIEUWSTRAAT</text>
<path d="M109.3 319.9H137.4" fill="none" stroke="#2a2a2a" stroke-width="1.05" stroke-dasharray="1 1.35"/>
<path d="M137.4 319.9L200 286.7" fill="none" stroke="#2a2a2a" stroke-width="0.7" stroke-dasharray="0.8 1.5"/>
<circle cx="200.8" cy="286.2" r="1.4" fill="#111"/>
<text x="237.4" y="472.9" font-size="8.2" text-anchor="start" stroke="#222" stroke-width="0.15" textLength="43.5" lengthAdjust="spacingAndGlyphs">BINNENTUIN</text>
<path d="M237.8 460.7H278" fill="none" stroke="#2a2a2a" stroke-width="1.05" stroke-dasharray="1 1.35"/>
<path d="M278 460.7L355 418.7" fill="none" stroke="#2a2a2a" stroke-width="0.7" stroke-dasharray="0.8 1.5"/>
<circle cx="355.8" cy="418.2" r="1.4" fill="#111"/>
</svg>
</body></html>
